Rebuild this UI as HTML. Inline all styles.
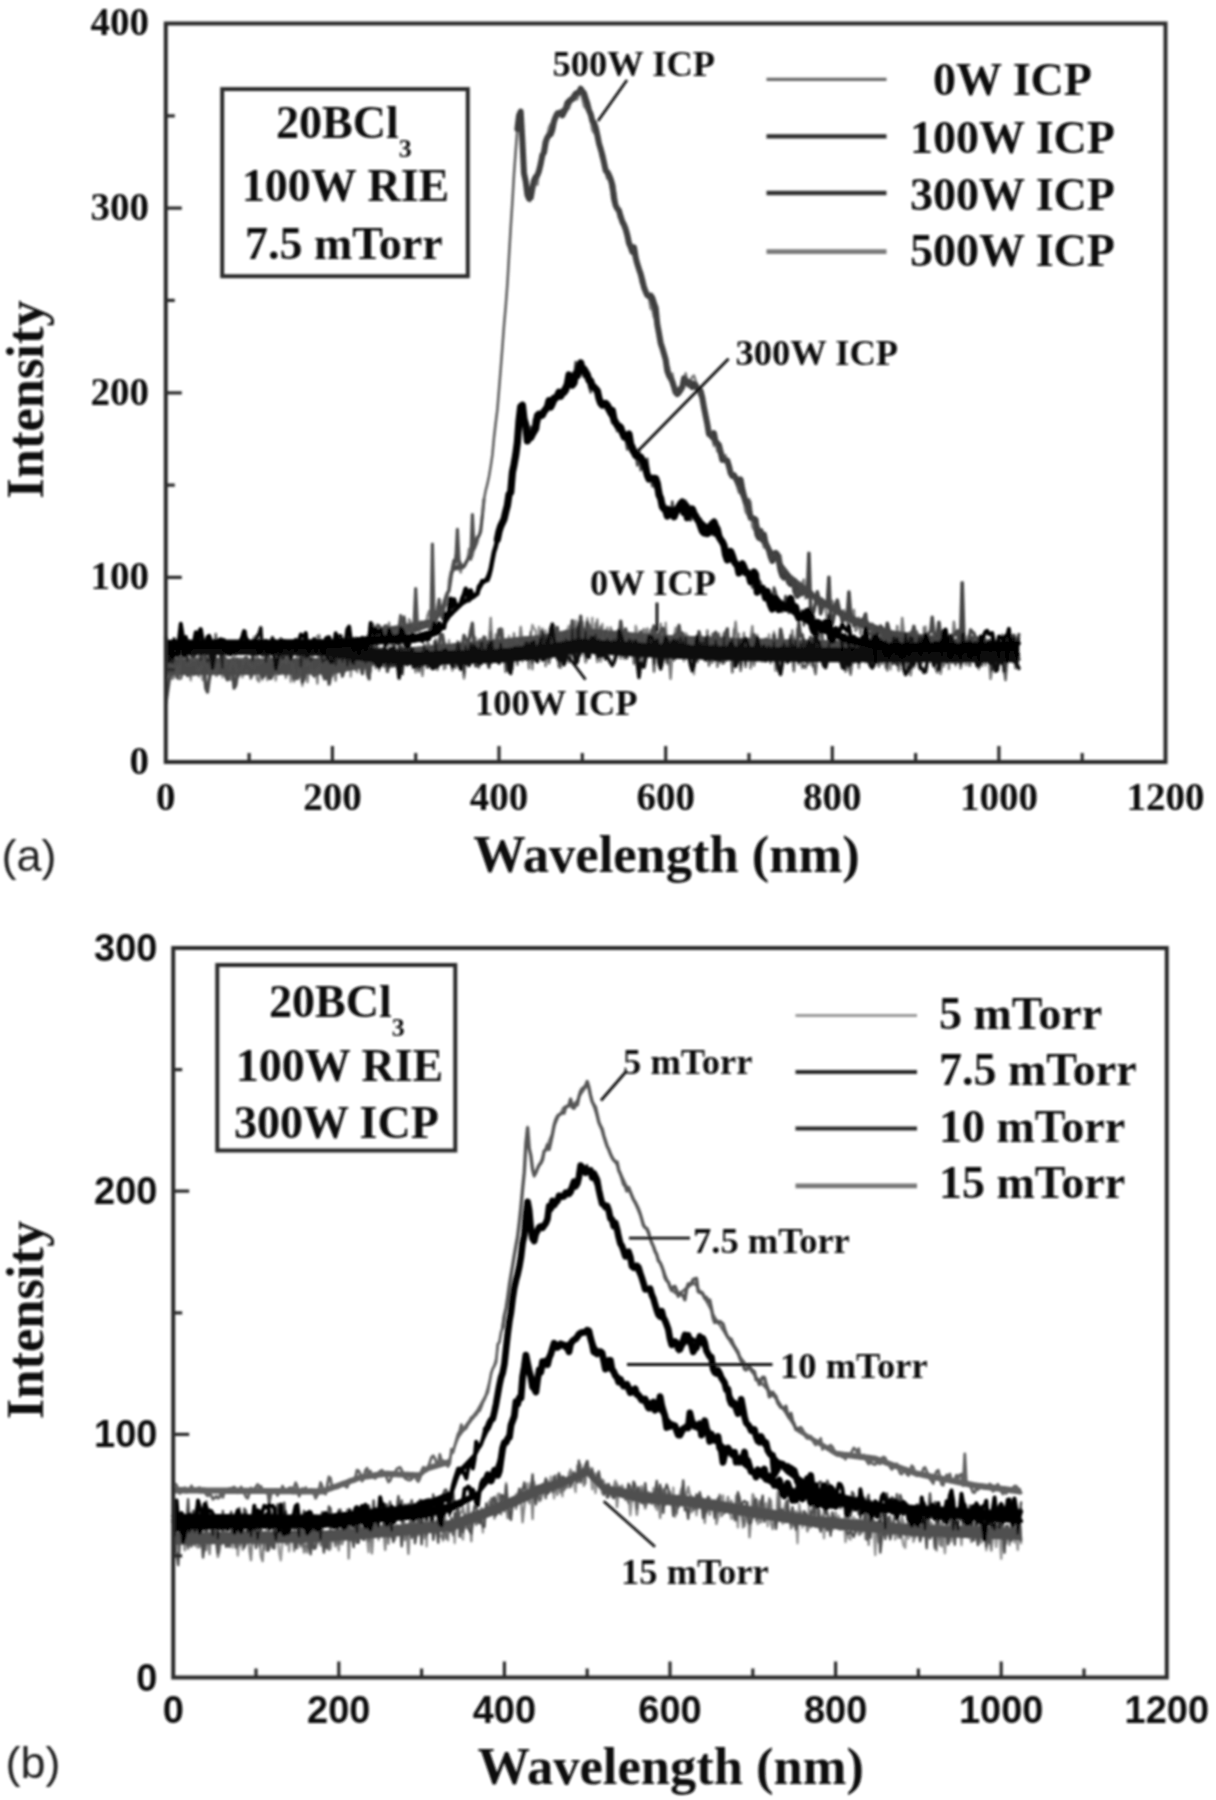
<!DOCTYPE html>
<html><head><meta charset="utf-8"><style>
html,body{margin:0;padding:0;background:#fff;width:1216px;height:1800px;overflow:hidden}
svg{display:block}
</style></head><body>
<svg width="1216" height="1800" viewBox="0 0 1216 1800">
<defs><filter id="bl" x="-2%" y="-2%" width="104%" height="104%"><feGaussianBlur stdDeviation="1"/></filter></defs>
<rect width="1216" height="1800" fill="#fff"/>
<g filter="url(#bl)">
<g stroke-linecap="round" stroke-linejoin="round">
<polygon points="165.8,664.2 167.5,664.2 169.1,664.1 170.8,664.1 172.5,664.1 174.1,664.0 175.8,664.0 177.5,664.0 179.1,663.9 180.8,663.9 182.5,663.9 184.1,663.9 185.8,663.8 187.5,663.8 189.1,663.8 190.8,663.7 192.5,663.7 194.1,663.7 195.8,663.6 197.5,663.6 199.1,663.6 200.8,663.5 202.5,663.5 204.1,663.5 205.8,663.5 207.5,663.4 209.1,663.4 210.8,663.4 212.5,663.3 214.1,663.3 215.8,663.3 217.5,663.2 219.1,663.2 220.8,663.2 222.4,663.2 224.1,663.1 225.8,663.1 227.4,663.1 229.1,663.0 230.8,663.0 232.4,663.0 234.1,662.9 235.8,662.9 237.4,662.9 239.1,662.8 240.8,662.8 242.4,662.8 244.1,662.8 245.8,662.7 247.4,662.7 249.1,662.7 250.8,662.6 252.4,662.6 254.1,662.6 255.8,662.5 257.4,662.5 259.1,662.5 260.8,662.5 262.4,662.4 264.1,662.4 265.8,662.4 267.4,662.3 269.1,662.3 270.8,662.3 272.4,662.2 274.1,662.2 275.8,662.2 277.4,662.1 279.1,662.1 280.8,662.1 282.4,662.1 284.1,662.0 285.8,662.0 287.4,662.0 289.1,661.9 290.8,661.9 292.4,661.9 294.1,661.8 295.8,661.8 297.4,661.8 299.1,661.8 300.8,661.7 302.4,661.7 304.1,661.7 305.8,661.6 307.4,661.6 309.1,661.6 310.8,661.5 312.4,661.5 314.1,661.5 315.8,661.4 317.4,661.4 319.1,661.4 320.8,661.4 322.4,661.3 324.1,661.3 325.8,661.3 327.4,661.2 329.1,661.2 330.8,661.2 332.4,661.1 334.1,660.8 335.7,660.4 337.4,660.0 339.1,659.6 340.7,659.2 342.4,658.9 344.1,658.5 345.7,658.1 347.4,657.7 349.1,657.3 350.7,656.9 352.4,656.6 354.1,656.2 355.7,655.8 357.4,655.4 359.1,655.0 360.7,654.7 362.4,654.3 364.1,653.9 365.7,653.5 367.4,653.1 369.1,652.8 370.7,652.4 372.4,652.0 374.1,651.6 375.7,651.2 377.4,650.9 379.1,650.5 380.7,650.1 382.4,649.8 384.1,649.6 385.7,649.4 387.4,649.3 389.1,649.1 390.7,649.0 392.4,648.8 394.1,648.7 395.7,648.5 397.4,648.4 399.1,648.2 400.7,648.1 402.4,647.9 404.1,647.7 405.7,647.6 407.4,647.4 409.1,647.3 410.7,647.1 412.4,647.0 414.1,646.8 415.7,646.7 417.4,646.5 419.1,646.3 420.7,646.2 422.4,646.0 424.1,645.9 425.7,645.7 427.4,645.6 429.1,645.4 430.7,645.3 432.4,645.1 434.1,644.9 435.7,644.8 437.4,644.6 439.1,644.5 440.7,644.3 442.4,644.2 444.0,644.0 445.7,643.9 447.4,643.7 449.0,643.6 450.7,643.4 452.4,643.2 454.0,643.1 455.7,642.9 457.4,642.8 459.0,642.6 460.7,642.5 462.4,642.3 464.0,642.2 465.7,642.0 467.4,641.8 469.0,641.7 470.7,641.5 472.4,641.4 474.0,641.2 475.7,641.1 477.4,640.9 479.0,640.8 480.7,640.6 482.4,640.4 484.0,640.3 485.7,640.1 487.4,640.0 489.0,639.8 490.7,639.7 492.4,639.5 494.0,639.3 495.7,639.2 497.4,639.0 499.0,638.9 500.7,638.7 502.4,638.5 504.0,638.4 505.7,638.2 507.4,638.1 509.0,637.9 510.7,637.7 512.4,637.6 514.0,637.4 515.7,637.3 517.4,637.1 519.0,636.9 520.7,636.8 522.4,636.6 524.0,636.5 525.7,636.3 527.4,636.1 529.0,636.0 530.7,635.8 532.4,635.7 534.0,635.5 535.7,635.3 537.4,635.2 539.0,635.0 540.7,634.9 542.4,634.5 544.0,634.2 545.7,633.9 547.4,633.6 549.0,633.3 550.7,633.0 552.4,632.7 554.0,632.3 555.7,632.0 557.3,631.7 559.0,631.4 560.7,631.1 562.3,630.8 564.0,630.4 565.7,630.1 567.3,629.8 569.0,629.5 570.7,629.2 572.3,628.9 574.0,628.6 575.7,628.2 577.3,627.9 579.0,627.6 580.7,627.5 582.3,627.7 584.0,627.9 585.7,628.0 587.3,628.2 589.0,628.4 590.7,628.6 592.3,628.7 594.0,628.9 595.7,629.1 597.3,629.2 599.0,629.4 600.7,629.6 602.3,629.8 604.0,629.9 605.7,630.1 607.3,630.3 609.0,630.4 610.7,630.6 612.3,630.8 614.0,630.9 615.7,631.1 617.3,631.2 619.0,631.4 620.7,631.5 622.3,631.6 624.0,631.7 625.7,631.8 627.3,632.0 629.0,632.1 630.7,632.2 632.3,632.3 634.0,632.5 635.7,632.6 637.3,632.7 639.0,632.8 640.7,632.9 642.3,633.1 644.0,633.2 645.7,633.3 647.3,633.4 649.0,633.5 650.7,633.7 652.3,633.8 654.0,633.9 655.7,634.0 657.3,634.2 659.0,634.3 660.7,634.4 662.3,634.5 664.0,634.6 665.7,634.8 667.3,634.8 669.0,634.9 670.6,635.0 672.3,635.1 674.0,635.1 675.6,635.2 677.3,635.3 679.0,635.3 680.6,635.4 682.3,635.5 684.0,635.6 685.6,635.6 687.3,635.7 689.0,635.8 690.6,635.9 692.3,635.9 694.0,636.0 695.6,636.1 697.3,636.1 699.0,636.2 700.6,636.3 702.3,636.4 704.0,636.4 705.6,636.5 707.3,636.6 709.0,636.7 710.6,636.7 712.3,636.8 714.0,636.9 715.6,636.9 717.3,637.0 719.0,637.1 720.6,637.2 722.3,637.2 724.0,637.3 725.6,637.4 727.3,637.5 729.0,637.5 730.6,637.6 732.3,637.7 734.0,637.7 735.6,637.8 737.3,637.9 739.0,638.0 740.6,638.0 742.3,638.1 744.0,638.2 745.6,638.3 747.3,638.3 749.0,638.4 750.6,638.4 752.3,638.5 754.0,638.5 755.6,638.5 757.3,638.6 759.0,638.6 760.6,638.6 762.3,638.7 764.0,638.7 765.6,638.8 767.3,638.8 769.0,638.8 770.6,638.9 772.3,638.9 774.0,638.9 775.6,639.0 777.3,639.0 778.9,639.0 780.6,639.1 782.3,639.1 783.9,639.1 785.6,639.2 787.3,639.2 788.9,639.3 790.6,639.3 792.3,639.3 793.9,639.4 795.6,639.4 797.3,639.4 798.9,639.5 800.6,639.5 802.3,639.5 803.9,639.6 805.6,639.6 807.3,639.6 808.9,639.7 810.6,639.7 812.3,639.7 813.9,639.8 815.6,639.8 817.3,639.9 818.9,639.9 820.6,639.9 822.3,640.0 823.9,640.0 825.6,640.0 827.3,640.1 828.9,640.1 830.6,640.1 832.3,640.2 833.9,640.2 835.6,640.2 837.3,640.3 838.9,640.3 840.6,640.4 842.3,640.4 843.9,640.4 845.6,640.5 847.3,640.5 848.9,640.5 850.6,640.6 852.3,640.6 853.9,640.6 855.6,640.7 857.3,640.7 858.9,640.7 860.6,640.8 862.3,640.8 863.9,640.9 865.6,640.9 867.3,640.9 868.9,641.0 870.6,641.0 872.3,641.0 873.9,641.1 875.6,641.1 877.3,641.1 878.9,641.2 880.6,641.2 882.3,641.2 883.9,641.3 885.6,641.3 887.3,641.4 888.9,641.4 890.6,641.4 892.2,641.5 893.9,641.5 895.6,641.5 897.2,641.6 898.9,641.6 900.6,641.6 902.2,641.7 903.9,641.7 905.6,641.7 907.2,641.8 908.9,641.8 910.6,641.9 912.2,641.9 913.9,641.9 915.6,642.0 917.2,642.0 918.9,642.0 920.6,642.0 922.2,642.1 923.9,642.1 925.6,642.1 927.2,642.2 928.9,642.2 930.6,642.2 932.2,642.2 933.9,642.3 935.6,642.3 937.2,642.3 938.9,642.4 940.6,642.4 942.2,642.4 943.9,642.4 945.6,642.5 947.2,642.5 948.9,642.5 950.6,642.6 952.2,642.6 953.9,642.6 955.6,642.6 957.2,642.7 958.9,642.7 960.6,642.7 962.2,642.8 963.9,642.8 965.6,642.8 967.2,642.8 968.9,642.9 970.6,642.9 972.2,642.9 973.9,643.0 975.6,643.0 977.2,643.0 978.9,643.0 980.6,643.1 982.2,643.1 983.9,643.1 985.6,643.2 987.2,643.2 988.9,643.2 990.6,643.2 992.2,643.3 993.9,643.3 995.6,643.3 997.2,643.4 998.9,643.4 1000.5,643.4 1002.2,643.4 1003.9,643.5 1005.5,643.5 1007.2,643.5 1008.9,643.6 1010.5,643.6 1012.2,643.6 1013.9,643.6 1015.5,643.7 1017.2,643.7 1018.9,643.7 1018.9,658.7 1017.2,658.7 1015.5,658.7 1013.9,658.6 1012.2,658.6 1010.5,658.6 1008.9,658.5 1007.2,658.5 1005.5,658.5 1003.9,658.4 1002.2,658.4 1000.5,658.4 998.9,658.4 997.2,658.3 995.6,658.3 993.9,658.3 992.2,658.2 990.6,658.2 988.9,658.2 987.2,658.1 985.6,658.1 983.9,658.1 982.2,658.0 980.6,658.0 978.9,658.0 977.2,657.9 975.6,657.9 973.9,657.9 972.2,657.9 970.6,657.8 968.9,657.8 967.2,657.8 965.6,657.7 963.9,657.7 962.2,657.7 960.6,657.6 958.9,657.6 957.2,657.6 955.6,657.5 953.9,657.5 952.2,657.5 950.6,657.5 948.9,657.4 947.2,657.4 945.6,657.4 943.9,657.3 942.2,657.3 940.6,657.3 938.9,657.2 937.2,657.2 935.6,657.2 933.9,657.1 932.2,657.1 930.6,657.1 928.9,657.0 927.2,657.0 925.6,657.0 923.9,657.0 922.2,656.9 920.6,656.9 918.9,656.9 917.2,656.8 915.6,656.8 913.9,656.8 912.2,656.7 910.6,656.7 908.9,656.6 907.2,656.6 905.6,656.6 903.9,656.5 902.2,656.5 900.6,656.5 898.9,656.4 897.2,656.4 895.6,656.3 893.9,656.3 892.2,656.3 890.6,656.2 888.9,656.2 887.3,656.1 885.6,656.1 883.9,656.1 882.3,656.0 880.6,656.0 878.9,656.0 877.3,655.9 875.6,655.9 873.9,655.8 872.3,655.8 870.6,655.8 868.9,655.7 867.3,655.7 865.6,655.7 863.9,655.6 862.3,655.6 860.6,655.5 858.9,655.5 857.3,655.5 855.6,655.4 853.9,655.4 852.3,655.3 850.6,655.3 848.9,655.3 847.3,655.2 845.6,655.2 843.9,655.2 842.3,655.1 840.6,655.1 838.9,655.0 837.3,655.0 835.6,655.0 833.9,654.9 832.3,654.9 830.6,654.8 828.9,654.8 827.3,654.8 825.6,654.7 823.9,654.7 822.3,654.7 820.6,654.6 818.9,654.6 817.3,654.5 815.6,654.5 813.9,654.5 812.3,654.4 810.6,654.4 808.9,654.4 807.3,654.3 805.6,654.3 803.9,654.2 802.3,654.2 800.6,654.2 798.9,654.1 797.3,654.1 795.6,654.0 793.9,654.0 792.3,654.0 790.6,653.9 788.9,653.9 787.3,653.9 785.6,653.8 783.9,653.8 782.3,653.7 780.6,653.7 778.9,653.7 777.3,653.6 775.6,653.6 774.0,653.6 772.3,653.5 770.6,653.5 769.0,653.4 767.3,653.4 765.6,653.4 764.0,653.3 762.3,653.3 760.6,653.2 759.0,653.2 757.3,653.2 755.6,653.1 754.0,653.1 752.3,653.1 750.6,653.0 749.0,653.0 747.3,652.9 745.6,652.8 744.0,652.8 742.3,652.7 740.6,652.6 739.0,652.5 737.3,652.5 735.6,652.4 734.0,652.3 732.3,652.2 730.6,652.2 729.0,652.1 727.3,652.0 725.6,651.9 724.0,651.8 722.3,651.8 720.6,651.7 719.0,651.6 717.3,651.5 715.6,651.5 714.0,651.4 712.3,651.3 710.6,651.2 709.0,651.2 707.3,651.1 705.6,651.0 704.0,650.9 702.3,650.9 700.6,650.8 699.0,650.7 697.3,650.6 695.6,650.6 694.0,650.5 692.3,650.4 690.6,650.3 689.0,650.3 687.3,650.2 685.6,650.1 684.0,650.0 682.3,650.0 680.6,649.9 679.0,649.8 677.3,649.7 675.6,649.7 674.0,649.6 672.3,649.5 670.6,649.4 669.0,649.4 667.3,649.3 665.7,649.2 664.0,649.1 662.3,649.0 660.7,648.8 659.0,648.7 657.3,648.6 655.7,648.5 654.0,648.3 652.3,648.2 650.7,648.1 649.0,648.0 647.3,647.9 645.7,647.7 644.0,647.6 642.3,647.5 640.7,647.4 639.0,647.2 637.3,647.1 635.7,647.0 634.0,646.9 632.3,646.7 630.7,646.6 629.0,646.5 627.3,646.4 625.7,646.2 624.0,646.1 622.3,646.0 620.7,645.9 619.0,645.7 617.3,645.6 615.7,645.5 614.0,645.3 612.3,645.1 610.7,645.0 609.0,644.8 607.3,644.6 605.7,644.5 604.0,644.3 602.3,644.1 600.7,643.9 599.0,643.8 597.3,643.6 595.7,643.4 594.0,643.2 592.3,643.1 590.7,642.9 589.0,642.7 587.3,642.5 585.7,642.4 584.0,642.2 582.3,642.0 580.7,641.9 579.0,641.9 577.3,642.2 575.7,642.6 574.0,642.9 572.3,643.2 570.7,643.5 569.0,643.8 567.3,644.1 565.7,644.4 564.0,644.7 562.3,645.1 560.7,645.4 559.0,645.7 557.3,646.0 555.7,646.3 554.0,646.6 552.4,646.9 550.7,647.2 549.0,647.6 547.4,647.9 545.7,648.2 544.0,648.5 542.4,648.8 540.7,649.1 539.0,649.3 537.4,649.4 535.7,649.6 534.0,649.8 532.4,649.9 530.7,650.1 529.0,650.2 527.4,650.4 525.7,650.5 524.0,650.7 522.4,650.8 520.7,651.0 519.0,651.2 517.4,651.3 515.7,651.5 514.0,651.6 512.4,651.8 510.7,651.9 509.0,652.1 507.4,652.3 505.7,652.4 504.0,652.6 502.4,652.7 500.7,652.9 499.0,653.0 497.4,653.2 495.7,653.4 494.0,653.5 492.4,653.7 490.7,653.8 489.0,654.0 487.4,654.1 485.7,654.3 484.0,654.5 482.4,654.6 480.7,654.8 479.0,654.9 477.4,655.1 475.7,655.2 474.0,655.4 472.4,655.5 470.7,655.7 469.0,655.8 467.4,656.0 465.7,656.1 464.0,656.3 462.4,656.4 460.7,656.6 459.0,656.8 457.4,656.9 455.7,657.1 454.0,657.2 452.4,657.4 450.7,657.5 449.0,657.7 447.4,657.8 445.7,658.0 444.0,658.1 442.4,658.3 440.7,658.4 439.1,658.6 437.4,658.7 435.7,658.9 434.1,659.0 432.4,659.2 430.7,659.3 429.1,659.5 427.4,659.7 425.7,659.8 424.1,660.0 422.4,660.1 420.7,660.3 419.1,660.4 417.4,660.6 415.7,660.7 414.1,660.9 412.4,661.0 410.7,661.2 409.1,661.3 407.4,661.5 405.7,661.6 404.1,661.8 402.4,661.9 400.7,662.1 399.1,662.2 397.4,662.4 395.7,662.5 394.1,662.7 392.4,662.9 390.7,663.0 389.1,663.2 387.4,663.3 385.7,663.5 384.1,663.6 382.4,663.8 380.7,664.1 379.1,664.5 377.4,664.9 375.7,665.2 374.1,665.6 372.4,666.0 370.7,666.3 369.1,666.7 367.4,667.0 365.7,667.4 364.1,667.8 362.4,668.1 360.7,668.5 359.1,668.8 357.4,669.2 355.7,669.5 354.1,669.9 352.4,670.3 350.7,670.6 349.1,671.0 347.4,671.3 345.7,671.7 344.1,672.0 342.4,672.4 340.7,672.8 339.1,673.1 337.4,673.5 335.7,673.8 334.1,674.2 332.4,674.5 330.8,674.5 329.1,674.6 327.4,674.6 325.8,674.6 324.1,674.6 322.4,674.6 320.8,674.6 319.1,674.6 317.4,674.6 315.8,674.6 314.1,674.6 312.4,674.6 310.8,674.6 309.1,674.6 307.4,674.6 305.8,674.6 304.1,674.7 302.4,674.7 300.8,674.7 299.1,674.7 297.4,674.7 295.8,674.7 294.1,674.7 292.4,674.7 290.8,674.7 289.1,674.7 287.4,674.7 285.8,674.7 284.1,674.7 282.4,674.7 280.8,674.7 279.1,674.7 277.4,674.8 275.8,674.8 274.1,674.8 272.4,674.8 270.8,674.8 269.1,674.8 267.4,674.8 265.8,674.8 264.1,674.8 262.4,674.8 260.8,674.8 259.1,674.8 257.4,674.8 255.8,674.8 254.1,674.8 252.4,674.9 250.8,674.9 249.1,674.9 247.4,674.9 245.8,674.9 244.1,674.9 242.4,674.9 240.8,674.9 239.1,674.9 237.4,674.9 235.8,674.9 234.1,674.9 232.4,674.9 230.8,674.9 229.1,674.9 227.4,674.9 225.8,675.0 224.1,675.0 222.4,675.0 220.8,675.0 219.1,675.0 217.5,675.0 215.8,675.0 214.1,675.0 212.5,675.0 210.8,675.0 209.1,675.0 207.5,675.0 205.8,675.0 204.1,675.0 202.5,675.0 200.8,675.1 199.1,675.1 197.5,675.1 195.8,675.1 194.1,675.1 192.5,675.1 190.8,675.1 189.1,675.1 187.5,675.1 185.8,675.1 184.1,675.1 182.5,675.1 180.8,675.1 179.1,675.1 177.5,675.1 175.8,675.1 174.1,675.2 172.5,675.2 170.8,675.2 169.1,675.2 167.5,675.2 165.8,675.2" fill="#505050" fill-opacity="1.0"/>
<polyline points="165.8,702.9 167.5,691.8 169.1,680.8 170.8,671.7 172.5,668.2 174.1,665.6 175.8,668.3 177.5,667.1 179.1,663.9 180.8,666.3 182.5,665.8 184.1,669.4 185.8,672.0 187.5,675.4 189.1,670.3 190.8,667.9 192.5,667.9 194.1,674.1 195.8,665.0 197.5,674.0 199.1,671.5 200.8,665.4 202.5,658.9 204.1,669.6 205.8,688.2 207.5,692.0 209.1,679.9 210.8,671.4 212.5,668.8 214.1,645.4 215.8,661.0 217.5,668.0 219.1,667.3 220.8,656.4 222.4,653.9 224.1,664.7 225.8,676.1 227.4,679.8 229.1,674.6 230.8,665.5 232.4,668.5 234.1,688.1 235.8,684.7 237.4,675.0 239.1,673.1 240.8,668.6 242.4,670.4 244.1,669.0 245.8,663.7 247.4,659.7 249.1,666.6 250.8,668.9 252.4,670.2 254.1,664.6 255.8,670.4 257.4,667.1 259.1,668.1 260.8,670.2 262.4,677.3 264.1,675.6 265.8,668.4 267.4,671.0 269.1,677.9 270.8,678.3 272.4,674.2 274.1,669.3 275.8,665.8 277.4,670.2 279.1,673.6 280.8,668.8 282.4,661.4 284.1,668.3 285.8,671.1 287.4,666.4 289.1,659.6 290.8,663.5 292.4,672.9 294.1,679.0 295.8,677.4 297.4,667.9 299.1,664.8 300.8,659.2 302.4,682.2 304.1,678.5 305.8,665.2 307.4,663.0 309.1,668.9 310.8,662.1 312.4,663.4 314.1,659.4 315.8,659.6 317.4,663.0 319.1,668.6 320.8,665.2 322.4,672.9 324.1,677.2 325.8,678.6 327.4,665.9 329.1,684.0 330.8,675.2 332.4,666.4 334.1,665.8 335.7,647.6 337.4,657.8 339.1,654.3 340.7,662.2 342.4,676.0 344.1,670.4 345.7,661.7 347.4,660.4 349.1,668.1 350.7,666.9 352.4,660.1 354.1,658.6 355.7,658.5 357.4,665.3 359.1,664.1 360.7,666.7 362.4,673.7 364.1,654.6 365.7,655.1 367.4,673.6 369.1,678.8 370.7,655.2 372.4,645.2 374.1,658.8 375.7,656.0 377.4,663.8 379.1,662.2 380.7,665.7 382.4,658.8 384.1,656.8 385.7,655.2 387.4,671.4 389.1,659.8 390.7,663.5 392.4,666.1 394.1,663.0 395.7,665.0 397.4,667.3 399.1,660.4 400.7,651.4 402.4,648.8 404.1,653.0 405.7,653.7 407.4,655.7 409.1,655.7 410.7,651.3 412.4,655.7 414.1,655.8 415.7,656.7 417.4,658.2 419.1,666.9 420.7,665.6 422.4,652.1 424.1,650.1 425.7,651.7 427.4,667.1 429.1,665.0 430.7,658.1 432.4,647.6 434.1,652.2 435.7,655.8 437.4,649.9 439.1,642.9 440.7,634.7 442.4,634.7 444.0,643.3 445.7,654.2 447.4,654.7 449.0,651.1 450.7,650.3 452.4,649.2 454.0,657.1 455.7,655.8 457.4,655.2 459.0,654.9 460.7,656.7 462.4,644.7 464.0,635.5 465.7,638.9 467.4,641.8 469.0,640.2 470.7,630.6 472.4,623.3 474.0,647.9 475.7,665.8 477.4,658.6 479.0,656.5 480.7,656.2 482.4,643.8 484.0,637.1 485.7,648.2 487.4,659.6 489.0,667.4 490.7,651.6 492.4,646.4 494.0,649.6 495.7,647.1 497.4,641.5 499.0,629.6 500.7,629.1 502.4,640.9 504.0,651.5 505.7,648.0 507.4,654.7 509.0,657.6 510.7,643.6 512.4,643.3 514.0,648.7 515.7,645.7 517.4,647.1 519.0,651.4 520.7,649.3 522.4,653.0 524.0,642.1 525.7,652.9 527.4,659.6 529.0,646.0 530.7,645.6 532.4,640.8 534.0,653.8 535.7,641.6 537.4,648.0 539.0,649.6 540.7,654.7 542.4,649.8 544.0,649.6 545.7,649.5 547.4,649.3 549.0,639.8 550.7,637.7 552.4,650.2 554.0,652.4 555.7,644.9 557.3,627.5 559.0,642.7 560.7,643.5 562.3,644.1 564.0,647.8 565.7,643.0 567.3,636.7 569.0,644.0 570.7,636.9 572.3,620.8 574.0,638.3 575.7,645.2 577.3,640.2 579.0,632.5 580.7,616.1 582.3,635.8 584.0,635.9 585.7,637.5 587.3,622.5 589.0,647.1 590.7,639.7 592.3,643.4 594.0,637.6 595.7,634.1 597.3,639.9 599.0,640.2 600.7,645.4 602.3,650.2 604.0,652.0 605.7,648.5 607.3,645.9 609.0,644.3 610.7,633.7 612.3,636.9 614.0,642.7 615.7,645.1 617.3,651.1 619.0,637.8 620.7,621.1 622.3,631.9 624.0,642.8 625.7,628.9 627.3,643.8 629.0,647.9 630.7,639.8 632.3,647.2 634.0,639.8 635.7,641.4 637.3,642.5 639.0,641.4 640.7,632.0 642.3,640.1 644.0,650.5 645.7,653.8 647.3,638.4 649.0,642.6 650.7,638.0 652.3,631.5 654.0,625.9 655.7,635.4 657.3,642.8 659.0,633.5 660.7,632.5 662.3,628.5 664.0,628.9 665.7,648.1 667.3,648.3 669.0,649.4 670.6,648.4 672.3,646.2 674.0,636.6 675.6,634.6 677.3,634.0 679.0,625.5 680.6,636.4 682.3,633.1 684.0,638.1 685.6,643.9 687.3,653.0 689.0,649.8 690.6,652.4 692.3,652.9 694.0,650.2 695.6,647.5 697.3,642.9 699.0,631.8 700.6,638.6 702.3,654.4 704.0,651.6 705.6,652.1 707.3,656.1 709.0,655.8 710.6,652.1 712.3,643.8 714.0,635.1 715.6,632.3 717.3,636.4 719.0,647.7 720.6,647.7 722.3,647.0 724.0,639.4 725.6,634.0 727.3,628.9 729.0,650.5 730.6,651.8 732.3,647.9 734.0,652.8 735.6,653.1 737.3,653.7 739.0,643.4 740.6,640.0 742.3,645.8 744.0,652.9 745.6,648.7 747.3,642.6 749.0,639.5 750.6,652.5 752.3,646.4 754.0,634.8 755.6,639.8 757.3,639.8 759.0,647.3 760.6,646.0 762.3,649.8 764.0,643.2 765.6,639.2 767.3,639.9 769.0,646.3 770.6,649.9 772.3,650.4 774.0,634.9 775.6,641.8 777.3,648.5 778.9,645.7 780.6,629.1 782.3,637.2 783.9,649.6 785.6,651.6 787.3,647.1 788.9,654.7 790.6,658.4 792.3,644.2 793.9,640.8 795.6,643.5 797.3,645.9 798.9,622.6 800.6,636.4 802.3,634.7 803.9,644.9 805.6,648.9 807.3,653.0 808.9,643.0 810.6,637.3 812.3,641.4 813.9,645.9 815.6,630.6 817.3,639.4 818.9,645.5 820.6,650.4 822.3,658.1 823.9,658.4 825.6,653.3 827.3,649.2 828.9,648.3 830.6,643.7 832.3,655.6 833.9,660.2 835.6,643.7 837.3,644.8 838.9,645.6 840.6,647.3 842.3,637.0 843.9,634.9 845.6,643.2 847.3,659.8 848.9,664.0 850.6,660.0 852.3,653.6 853.9,661.8 855.6,652.2 857.3,642.7 858.9,640.8 860.6,644.2 862.3,645.2 863.9,643.7 865.6,648.3 867.3,649.6 868.9,646.4 870.6,643.8 872.3,631.8 873.9,644.3 875.6,646.6 877.3,646.2 878.9,647.6 880.6,637.1 882.3,639.3 883.9,636.1 885.6,638.9 887.3,639.9 888.9,652.5 890.6,651.3 892.2,648.1 893.9,651.1 895.6,661.5 897.2,664.6 898.9,661.6 900.6,650.9 902.2,638.4 903.9,642.1 905.6,634.8 907.2,644.6 908.9,650.0 910.6,646.6 912.2,632.6 913.9,626.3 915.6,634.2 917.2,646.5 918.9,653.0 920.6,664.7 922.2,658.0 923.9,653.7 925.6,640.1 927.2,636.2 928.9,633.4 930.6,631.6 932.2,617.3 933.9,632.4 935.6,635.1 937.2,639.1 938.9,647.7 940.6,650.0 942.2,649.5 943.9,652.3 945.6,651.7 947.2,647.8 948.9,650.8 950.6,653.8 952.2,662.1 953.9,658.9 955.6,663.5 957.2,643.8 958.9,644.5 960.6,630.1 962.2,648.2 963.9,652.9 965.6,652.6 967.2,643.1 968.9,639.1 970.6,629.9 972.2,631.8 973.9,633.2 975.6,637.9 977.2,637.7 978.9,649.2 980.6,662.6 982.2,661.8 983.9,649.9 985.6,641.0 987.2,642.4 988.9,650.1 990.6,662.1 992.2,659.6 993.9,661.1 995.6,659.9 997.2,656.4 998.9,649.0 1000.5,650.2 1002.2,646.7 1003.9,671.2 1005.5,658.9 1007.2,654.1 1008.9,648.0 1010.5,648.1 1012.2,642.5 1013.9,653.0 1015.5,661.7 1017.2,640.1 1018.9,634.6" fill="none" stroke="#4a4a4a" stroke-width="3.4" stroke-linejoin="round" />
<polyline points="165.8,678.3 167.5,667.8 169.1,669.7 170.8,666.1 172.5,679.0 174.1,661.8 175.8,668.9 177.5,677.8 179.1,679.1 180.8,678.8 182.5,674.6 184.1,661.1 185.8,663.1 187.5,673.3 189.1,673.3 190.8,655.7 192.5,663.0 194.1,675.1 195.8,670.4 197.5,672.4 199.1,668.2 200.8,663.0 202.5,671.2 204.1,666.6 205.8,665.2 207.5,663.6 209.1,673.7 210.8,670.8 212.5,655.0 214.1,670.5 215.8,668.9 217.5,665.9 219.1,673.2 220.8,671.9 222.4,657.0 224.1,659.7 225.8,677.0 227.4,668.5 229.1,678.3 230.8,680.0 232.4,668.9 234.1,657.9 235.8,669.5 237.4,658.2 239.1,676.5 240.8,667.9 242.4,668.2 244.1,668.2 245.8,661.6 247.4,664.6 249.1,672.8 250.8,678.6 252.4,672.8 254.1,668.9 255.8,672.7 257.4,679.8 259.1,681.6 260.8,662.7 262.4,666.7 264.1,672.9 265.8,665.3 267.4,664.9 269.1,670.1 270.8,671.7 272.4,660.0 274.1,662.2 275.8,657.9 277.4,661.0 279.1,666.5 280.8,671.7 282.4,670.9 284.1,672.8 285.8,667.9 287.4,666.8 289.1,659.7 290.8,658.3 292.4,668.4 294.1,665.4 295.8,677.0 297.4,673.3 299.1,676.3 300.8,667.2 302.4,672.2 304.1,673.9 305.8,668.4 307.4,682.2 309.1,668.8 310.8,664.7 312.4,658.8 314.1,676.9 315.8,671.3 317.4,683.5 319.1,658.1 320.8,669.6 322.4,666.3 324.1,679.5 325.8,670.0 327.4,672.7 329.1,677.3 330.8,677.0 332.4,675.3 334.1,674.4 335.7,680.7 337.4,657.1 339.1,667.0 340.7,665.5 342.4,665.3 344.1,667.8 345.7,666.3 347.4,661.3 349.1,667.2 350.7,655.1 352.4,666.0 354.1,655.2 355.7,670.6 357.4,661.1 359.1,657.7 360.7,652.5 362.4,651.9 364.1,669.2 365.7,666.4 367.4,649.2 369.1,663.5 370.7,671.8 372.4,651.4 374.1,655.0 375.7,668.3 377.4,663.3 379.1,648.7 380.7,661.5 382.4,661.9 384.1,660.7 385.7,647.4 387.4,669.9 389.1,654.6 390.7,656.6 392.4,653.8 394.1,651.7 395.7,656.9 397.4,652.5 399.1,653.4 400.7,645.8 402.4,673.7 404.1,657.2 405.7,655.2 407.4,665.9 409.1,644.8 410.7,651.1 412.4,667.8 414.1,656.7 415.7,649.0 417.4,653.3 419.1,659.6 420.7,649.1 422.4,651.1 424.1,660.4 425.7,654.9 427.4,642.9 429.1,643.6 430.7,659.9 432.4,657.2 434.1,641.4 435.7,647.5 437.4,651.5 439.1,654.1 440.7,650.0 442.4,644.2 444.0,669.2 445.7,644.3 447.4,657.9 449.0,660.8 450.7,655.6 452.4,658.8 454.0,658.1 455.7,649.7 457.4,653.2 459.0,642.0 460.7,661.6 462.4,643.2 464.0,658.7 465.7,647.8 467.4,651.5 469.0,641.4 470.7,658.5 472.4,647.8 474.0,636.0 475.7,638.0 477.4,650.0 479.0,641.6 480.7,638.9 482.4,643.2 484.0,637.6 485.7,639.0 487.4,664.5 489.0,641.4 490.7,617.9 492.4,649.1 494.0,648.4 495.7,645.4 497.4,652.0 499.0,648.1 500.7,646.1 502.4,629.1 504.0,647.0 505.7,640.3 507.4,646.3 509.0,652.0 510.7,649.7 512.4,653.3 514.0,633.1 515.7,645.9 517.4,655.5 519.0,643.8 520.7,626.9 522.4,641.2 524.0,643.5 525.7,640.8 527.4,646.1 529.0,651.1 530.7,632.0 532.4,669.3 534.0,646.6 535.7,649.4 537.4,643.7 539.0,647.9 540.7,632.6 542.4,628.7 544.0,639.9 545.7,651.0 547.4,646.5 549.0,643.1 550.7,647.2 552.4,649.7 554.0,625.1 555.7,631.3 557.3,646.5 559.0,645.5 560.7,637.5 562.3,643.2 564.0,632.7 565.7,630.7 567.3,636.5 569.0,644.0 570.7,638.7 572.3,649.2 574.0,638.6 575.7,620.6 577.3,639.5 579.0,629.1 580.7,624.8 582.3,621.7 584.0,645.8 585.7,636.8 587.3,639.9 589.0,624.4 590.7,626.8 592.3,644.4 594.0,640.5 595.7,633.2 597.3,619.5 599.0,639.5 600.7,626.7 602.3,643.7 604.0,647.0 605.7,630.5 607.3,643.8 609.0,650.3 610.7,627.5 612.3,632.9 614.0,648.6 615.7,631.3 617.3,634.9 619.0,634.0 620.7,647.4 622.3,642.2 624.0,656.4 625.7,656.5 627.3,632.6 629.0,643.1 630.7,637.7 632.3,641.4 634.0,644.0 635.7,644.0 637.3,635.9 639.0,642.0 640.7,652.8 642.3,631.1 644.0,629.0 645.7,634.3 647.3,628.5 649.0,639.3 650.7,640.7 652.3,631.7 654.0,636.7 655.7,651.0 657.3,642.8 659.0,640.8 660.7,623.6 662.3,641.4 664.0,648.2 665.7,650.9 667.3,643.4 669.0,647.5 670.6,643.2 672.3,650.7 674.0,655.8 675.6,644.9 677.3,639.8 679.0,641.7 680.6,655.3 682.3,645.4 684.0,636.4 685.6,640.7 687.3,648.4 689.0,647.0 690.6,647.0 692.3,641.6 694.0,646.5 695.6,639.8 697.3,642.2 699.0,642.4 700.6,637.3 702.3,636.9 704.0,647.1 705.6,646.3 707.3,636.4 709.0,646.6 710.6,654.3 712.3,649.0 714.0,653.1 715.6,644.7 717.3,643.6 719.0,633.5 720.6,641.1 722.3,639.7 724.0,632.5 725.6,638.6 727.3,652.1 729.0,645.6 730.6,650.4 732.3,646.7 734.0,635.5 735.6,621.7 737.3,638.6 739.0,643.4 740.6,651.4 742.3,643.3 744.0,632.8 745.6,652.1 747.3,642.2 749.0,639.0 750.6,638.0 752.3,626.2 754.0,645.8 755.6,643.8 757.3,654.5 759.0,649.8 760.6,653.7 762.3,645.3 764.0,642.5 765.6,640.5 767.3,639.7 769.0,650.4 770.6,654.6 772.3,654.6 774.0,648.7 775.6,650.0 777.3,656.2 778.9,643.1 780.6,655.6 782.3,647.6 783.9,651.5 785.6,643.8 787.3,642.6 788.9,654.2 790.6,643.3 792.3,630.2 793.9,643.0 795.6,655.7 797.3,628.7 798.9,654.6 800.6,640.9 802.3,655.7 803.9,640.8 805.6,648.2 807.3,642.7 808.9,645.2 810.6,659.4 812.3,660.4 813.9,654.1 815.6,639.9 817.3,644.6 818.9,637.2 820.6,637.2 822.3,633.2 823.9,655.2 825.6,657.0 827.3,656.6 828.9,636.3 830.6,650.9 832.3,645.0 833.9,631.6 835.6,650.8 837.3,652.8 838.9,655.5 840.6,639.6 842.3,639.2 843.9,646.9 845.6,650.9 847.3,648.8 848.9,644.7 850.6,639.0 852.3,656.2 853.9,654.4 855.6,640.6 857.3,641.1 858.9,647.7 860.6,649.3 862.3,639.9 863.9,647.1 865.6,662.5 867.3,657.1 868.9,642.4 870.6,649.7 872.3,644.9 873.9,662.8 875.6,639.0 877.3,646.5 878.9,650.2 880.6,647.9 882.3,651.3 883.9,650.6 885.6,667.7 887.3,657.3 888.9,639.8 890.6,650.7 892.2,656.4 893.9,644.9 895.6,636.5 897.2,649.2 898.9,642.1 900.6,654.4 902.2,664.1 903.9,636.1 905.6,655.3 907.2,642.5 908.9,640.5 910.6,635.2 912.2,653.7 913.9,640.0 915.6,657.2 917.2,661.4 918.9,662.9 920.6,647.6 922.2,661.7 923.9,627.1 925.6,640.3 927.2,640.6 928.9,646.4 930.6,641.7 932.2,653.2 933.9,658.4 935.6,656.6 937.2,644.5 938.9,648.9 940.6,646.3 942.2,661.0 943.9,642.8 945.6,639.1 947.2,646.5 948.9,669.0 950.6,654.5 952.2,650.1 953.9,640.8 955.6,648.3 957.2,643.2 958.9,658.2 960.6,655.9 962.2,655.9 963.9,638.6 965.6,665.0 967.2,653.7 968.9,665.7 970.6,636.4 972.2,644.0 973.9,657.1 975.6,644.2 977.2,644.4 978.9,652.5 980.6,647.7 982.2,652.2 983.9,652.2 985.6,665.2 987.2,658.6 988.9,644.7 990.6,649.4 992.2,632.3 993.9,639.8 995.6,647.0 997.2,667.6 998.9,656.5 1000.5,649.4 1002.2,634.5 1003.9,647.2 1005.5,663.6 1007.2,643.7 1008.9,642.2 1010.5,640.4 1012.2,638.7 1013.9,658.6 1015.5,651.4 1017.2,646.9 1018.9,643.5" fill="none" stroke="#4a4a4a" stroke-width="2.4" stroke-linejoin="round"  stroke-opacity="0.7"/>
<polyline points="165.8,673.7 167.5,674.0 169.1,669.1 170.8,660.8 172.5,671.9 174.1,677.4 175.8,675.2 177.5,657.0 179.1,672.0 180.8,677.9 182.5,671.6 184.1,667.4 185.8,667.4 187.5,656.2 189.1,670.8 190.8,680.4 192.5,658.7 194.1,667.3 195.8,667.2 197.5,674.2 199.1,676.7 200.8,658.0 202.5,680.1 204.1,673.7 205.8,677.4 207.5,658.9 209.1,666.9 210.8,674.3 212.5,664.1 214.1,655.2 215.8,676.0 217.5,675.5 219.1,666.2 220.8,667.3 222.4,677.2 224.1,673.6 225.8,669.2 227.4,662.8 229.1,679.7 230.8,664.1 232.4,665.3 234.1,654.0 235.8,686.3 237.4,671.4 239.1,671.7 240.8,657.7 242.4,677.4 244.1,672.8 245.8,666.9 247.4,664.2 249.1,665.1 250.8,678.2 252.4,654.2 254.1,673.8 255.8,665.3 257.4,661.4 259.1,671.3 260.8,664.5 262.4,679.9 264.1,669.5 265.8,672.6 267.4,680.2 269.1,673.8 270.8,676.4 272.4,661.3 274.1,674.8 275.8,680.4 277.4,670.1 279.1,671.2 280.8,648.5 282.4,654.6 284.1,667.1 285.8,674.5 287.4,650.6 289.1,666.2 290.8,681.8 292.4,665.2 294.1,681.8 295.8,658.5 297.4,665.1 299.1,677.5 300.8,673.2 302.4,685.8 304.1,654.6 305.8,667.7 307.4,663.0 309.1,657.9 310.8,671.6 312.4,672.9 314.1,672.2 315.8,665.9 317.4,675.1 319.1,671.2 320.8,666.0 322.4,667.1 324.1,672.9 325.8,677.1 327.4,672.8 329.1,662.9 330.8,657.2 332.4,658.7 334.1,670.0 335.7,662.0 337.4,663.8 339.1,654.2 340.7,672.6 342.4,656.0 344.1,662.1 345.7,666.2 347.4,644.1 349.1,649.0 350.7,676.6 352.4,662.3 354.1,656.9 355.7,653.4 357.4,672.3 359.1,658.2 360.7,659.7 362.4,667.6 364.1,654.2 365.7,664.8 367.4,660.4 369.1,667.9 370.7,655.5 372.4,654.8 374.1,661.3 375.7,665.4 377.4,657.9 379.1,655.4 380.7,655.7 382.4,658.9 384.1,648.1 385.7,659.4 387.4,655.8 389.1,642.9 390.7,663.2 392.4,655.6 394.1,653.2 395.7,662.0 397.4,667.2 399.1,663.5 400.7,673.3 402.4,655.0 404.1,655.5 405.7,648.7 407.4,638.4 409.1,652.9 410.7,652.5 412.4,649.8 414.1,658.1 415.7,666.8 417.4,660.1 419.1,652.1 420.7,653.5 422.4,652.8 424.1,658.3 425.7,652.4 427.4,655.6 429.1,653.9 430.7,663.5 432.4,659.7 434.1,652.1 435.7,638.9 437.4,651.0 439.1,646.5 440.7,635.2 442.4,649.0 444.0,653.8 445.7,668.1 447.4,653.8 449.0,640.2 450.7,659.3 452.4,653.5 454.0,651.9 455.7,648.2 457.4,659.1 459.0,642.9 460.7,644.6 462.4,658.4 464.0,674.3 465.7,643.9 467.4,647.8 469.0,648.7 470.7,664.8 472.4,655.9 474.0,651.0 475.7,646.3 477.4,649.2 479.0,639.7 480.7,658.0 482.4,658.6 484.0,648.2 485.7,636.9 487.4,658.9 489.0,659.9 490.7,632.0 492.4,653.3 494.0,645.8 495.7,634.3 497.4,655.4 499.0,645.3 500.7,641.7 502.4,647.3 504.0,648.7 505.7,651.6 507.4,649.1 509.0,636.0 510.7,664.8 512.4,641.4 514.0,645.0 515.7,644.2 517.4,644.1 519.0,644.6 520.7,638.7 522.4,661.7 524.0,637.1 525.7,637.5 527.4,642.9 529.0,644.1 530.7,635.0 532.4,624.9 534.0,628.5 535.7,630.7 537.4,658.5 539.0,627.0 540.7,641.1 542.4,647.2 544.0,638.6 545.7,630.4 547.4,655.8 549.0,633.6 550.7,644.6 552.4,638.8 554.0,642.1 555.7,632.6 557.3,638.1 559.0,644.7 560.7,645.8 562.3,642.6 564.0,632.5 565.7,643.8 567.3,629.9 569.0,625.8 570.7,634.0 572.3,653.5 574.0,632.0 575.7,630.6 577.3,626.9 579.0,632.1 580.7,622.1 582.3,621.6 584.0,634.0 585.7,627.8 587.3,618.3 589.0,629.3 590.7,631.4 592.3,617.9 594.0,653.2 595.7,623.3 597.3,638.6 599.0,655.1 600.7,628.2 602.3,623.9 604.0,637.2 605.7,632.1 607.3,627.4 609.0,640.9 610.7,634.6 612.3,631.0 614.0,643.7 615.7,638.7 617.3,645.9 619.0,646.9 620.7,639.4 622.3,635.1 624.0,636.8 625.7,633.3 627.3,632.5 629.0,632.9 630.7,644.1 632.3,642.3 634.0,650.9 635.7,625.9 637.3,632.1 639.0,642.5 640.7,640.6 642.3,632.8 644.0,647.9 645.7,644.3 647.3,648.0 649.0,641.0 650.7,629.7 652.3,645.4 654.0,630.4 655.7,638.2 657.3,643.7 659.0,634.2 660.7,651.4 662.3,640.4 664.0,640.8 665.7,622.8 667.3,645.5 669.0,639.8 670.6,652.7 672.3,650.7 674.0,636.5 675.6,627.6 677.3,631.5 679.0,655.3 680.6,651.4 682.3,653.9 684.0,643.5 685.6,633.3 687.3,635.2 689.0,642.2 690.6,642.9 692.3,663.5 694.0,674.3 695.6,646.7 697.3,659.4 699.0,645.1 700.6,653.9 702.3,638.5 704.0,650.1 705.6,653.2 707.3,646.2 709.0,635.9 710.6,648.9 712.3,633.5 714.0,656.2 715.6,656.5 717.3,648.6 719.0,646.1 720.6,640.7 722.3,646.8 724.0,646.6 725.6,658.7 727.3,635.3 729.0,650.0 730.6,644.0 732.3,645.0 734.0,629.1 735.6,661.1 737.3,646.5 739.0,633.8 740.6,666.3 742.3,650.9 744.0,647.2 745.6,645.3 747.3,657.2 749.0,639.8 750.6,657.3 752.3,635.5 754.0,647.8 755.6,657.5 757.3,634.8 759.0,644.7 760.6,642.1 762.3,639.2 764.0,649.9 765.6,651.2 767.3,643.2 769.0,634.4 770.6,643.0 772.3,651.7 774.0,631.6 775.6,653.4 777.3,650.2 778.9,649.7 780.6,647.9 782.3,643.0 783.9,642.0 785.6,653.9 787.3,653.5 788.9,639.1 790.6,639.4 792.3,654.5 793.9,637.1 795.6,647.9 797.3,643.3 798.9,644.0 800.6,643.8 802.3,650.3 803.9,645.9 805.6,651.3 807.3,645.8 808.9,649.8 810.6,651.3 812.3,648.9 813.9,643.3 815.6,645.6 817.3,648.3 818.9,650.3 820.6,643.4 822.3,632.8 823.9,645.6 825.6,643.2 827.3,654.2 828.9,651.1 830.6,649.5 832.3,632.6 833.9,640.5 835.6,640.9 837.3,647.9 838.9,646.0 840.6,641.6 842.3,646.6 843.9,657.4 845.6,648.1 847.3,648.1 848.9,661.1 850.6,665.0 852.3,649.3 853.9,650.0 855.6,648.8 857.3,646.3 858.9,644.0 860.6,638.7 862.3,657.9 863.9,644.5 865.6,636.3 867.3,637.5 868.9,657.4 870.6,645.5 872.3,645.7 873.9,652.6 875.6,658.7 877.3,651.1 878.9,638.3 880.6,651.5 882.3,649.9 883.9,651.3 885.6,639.2 887.3,648.1 888.9,664.7 890.6,669.4 892.2,649.6 893.9,653.5 895.6,653.9 897.2,636.3 898.9,638.6 900.6,646.9 902.2,641.2 903.9,636.7 905.6,648.2 907.2,653.0 908.9,662.9 910.6,643.0 912.2,636.3 913.9,658.1 915.6,653.6 917.2,656.0 918.9,644.1 920.6,652.1 922.2,638.2 923.9,660.3 925.6,626.5 927.2,637.2 928.9,652.5 930.6,656.9 932.2,659.1 933.9,647.0 935.6,649.3 937.2,652.6 938.9,653.2 940.6,650.5 942.2,651.7 943.9,654.8 945.6,639.8 947.2,638.5 948.9,651.4 950.6,645.3 952.2,654.8 953.9,644.3 955.6,665.9 957.2,648.0 958.9,646.4 960.6,649.9 962.2,654.6 963.9,648.3 965.6,650.0 967.2,636.4 968.9,661.0 970.6,665.7 972.2,647.9 973.9,648.9 975.6,652.3 977.2,653.5 978.9,640.6 980.6,635.0 982.2,654.3 983.9,637.9 985.6,645.2 987.2,643.0 988.9,650.4 990.6,650.4 992.2,638.1 993.9,656.8 995.6,649.1 997.2,644.3 998.9,655.5 1000.5,657.6 1002.2,655.8 1003.9,641.1 1005.5,649.4 1007.2,653.8 1008.9,657.5 1010.5,645.5 1012.2,651.1 1013.9,651.3 1015.5,659.1 1017.2,654.0 1018.9,658.0" fill="none" stroke="#4a4a4a" stroke-width="2.4" stroke-linejoin="round"  stroke-opacity="0.6"/>
<polygon points="165.8,658.6 167.5,658.6 169.1,658.6 170.8,658.6 172.5,658.6 174.1,658.6 175.8,658.6 177.5,658.6 179.1,658.6 180.8,658.6 182.5,658.6 184.1,658.6 185.8,658.6 187.5,658.6 189.1,658.6 190.8,658.6 192.5,658.6 194.1,658.5 195.8,658.5 197.5,658.5 199.1,658.5 200.8,658.5 202.5,658.5 204.1,658.5 205.8,658.5 207.5,658.5 209.1,658.5 210.8,658.5 212.5,658.5 214.1,658.5 215.8,658.5 217.5,658.5 219.1,658.5 220.8,658.5 222.4,658.4 224.1,658.4 225.8,658.4 227.4,658.4 229.1,658.4 230.8,658.4 232.4,658.4 234.1,658.4 235.8,658.4 237.4,658.4 239.1,658.4 240.8,658.4 242.4,658.4 244.1,658.4 245.8,658.4 247.4,658.4 249.1,658.4 250.8,658.3 252.4,658.3 254.1,658.3 255.8,658.3 257.4,658.3 259.1,658.3 260.8,658.3 262.4,658.3 264.1,658.3 265.8,658.3 267.4,658.3 269.1,658.3 270.8,658.3 272.4,658.3 274.1,658.3 275.8,658.3 277.4,658.3 279.1,658.2 280.8,658.2 282.4,658.2 284.1,658.2 285.8,658.2 287.4,658.2 289.1,658.2 290.8,658.2 292.4,658.2 294.1,658.2 295.8,658.2 297.4,658.2 299.1,658.2 300.8,658.2 302.4,658.2 304.1,658.2 305.8,658.2 307.4,658.1 309.1,658.1 310.8,658.1 312.4,658.1 314.1,658.1 315.8,658.1 317.4,658.1 319.1,658.1 320.8,658.1 322.4,658.1 324.1,658.1 325.8,658.1 327.4,658.1 329.1,658.1 330.8,658.1 332.4,658.1 334.1,657.0 335.7,656.0 337.4,654.9 339.1,653.9 340.7,652.8 342.4,651.8 344.1,650.8 345.7,649.7 347.4,648.7 349.1,647.6 350.7,646.6 352.4,645.5 354.1,644.5 355.7,643.5 357.4,642.4 359.1,641.4 360.7,640.5 362.4,639.5 364.1,638.5 365.7,637.5 367.4,636.5 369.1,635.5 370.7,634.6 372.4,633.6 374.1,632.6 375.7,631.6 377.4,630.6 379.1,629.7 380.7,628.7 382.4,627.7 384.1,627.4 385.7,627.1 387.4,626.9 389.1,626.6 390.7,626.3 392.4,626.1 394.1,625.8 395.7,625.5 397.4,625.2 399.1,625.0 400.7,624.7 402.4,624.4 404.1,624.1 405.7,623.9 407.4,623.6 409.1,623.3 410.7,623.0 412.4,622.8 414.1,622.5 415.7,622.2 417.4,621.8 419.1,621.5 420.7,621.1 422.4,620.7 424.1,620.3 425.7,619.9 427.4,619.6 429.1,619.2 430.7,618.8 432.4,618.4 434.1,618.0 435.7,616.3 437.4,613.2 439.1,610.2 440.7,607.1 442.4,604.0 444.0,600.9 445.7,597.9 447.4,592.4 449.0,584.7 450.7,576.9 452.4,569.1 454.0,565.2 455.7,565.0 457.4,564.8 459.0,564.6 460.7,564.4 462.4,564.2 464.0,564.0 465.7,562.4 467.4,559.3 469.0,556.2 470.7,553.2 472.4,550.1 474.0,547.0 475.7,543.9 477.4,539.4 479.0,533.6 480.7,527.8 482.4,512.2 484.0,496.5 485.7,488.4 487.4,480.3 489.0,472.2 490.7,464.1 492.4,456.0 494.0,439.9 495.7,423.8 497.4,407.6 499.0,391.5 500.7,369.4 502.4,347.2 504.0,325.1 505.7,303.0 507.4,280.9 509.0,253.2 510.7,225.5 512.4,197.8 514.0,170.2 515.7,149.5 517.4,128.8 519.0,115.9 520.7,110.9 522.4,142.2 524.0,173.6 525.7,181.9 527.4,190.3 529.0,198.7 530.7,199.4 532.4,192.6 534.0,185.8 535.7,178.9 537.4,172.1 539.0,165.3 540.7,158.4 542.4,151.7 544.0,144.9 545.7,139.7 547.4,136.0 549.0,132.3 550.7,128.6 552.4,124.9 554.0,121.2 555.7,117.5 557.3,113.8 559.0,112.2 560.7,110.6 562.3,109.0 564.0,107.4 565.7,105.7 567.3,104.1 569.0,102.5 570.7,100.9 572.3,98.7 574.0,96.6 575.7,94.4 577.3,92.3 579.0,90.1 580.7,88.0 582.3,92.7 584.0,97.5 585.7,102.2 587.3,106.4 589.0,110.1 590.7,113.8 592.3,119.4 594.0,124.9 595.7,130.8 597.3,136.7 599.0,142.6 600.7,148.5 602.3,154.4 604.0,160.3 605.7,166.2 607.3,172.2 609.0,178.1 610.7,184.0 612.3,189.1 614.0,194.2 615.7,199.4 617.3,204.5 619.0,209.7 620.7,214.8 622.3,219.9 624.0,225.1 625.7,230.2 627.3,235.3 629.0,240.5 630.7,245.4 632.3,250.0 634.0,254.6 635.7,259.2 637.3,263.8 639.0,268.4 640.7,273.1 642.3,277.7 644.0,282.3 645.7,286.9 647.3,291.5 649.0,296.1 650.7,300.7 652.3,305.4 654.0,311.0 655.7,317.6 657.3,324.3 659.0,330.9 660.7,337.6 662.3,344.2 664.0,350.9 665.7,357.5 667.3,364.9 669.0,372.3 670.6,379.7 672.3,383.4 674.0,387.1 675.6,390.8 677.3,391.3 679.0,388.6 680.6,385.9 682.3,383.2 684.0,380.5 685.6,377.8 687.3,378.4 689.0,379.1 690.6,379.7 692.3,380.3 694.0,380.9 695.6,381.5 697.3,384.7 699.0,387.8 700.6,391.0 702.3,396.9 704.0,405.5 705.6,414.1 707.3,422.8 709.0,431.3 710.6,433.6 712.3,435.9 714.0,438.2 715.6,440.5 717.3,442.7 719.0,445.0 720.6,447.3 722.3,449.6 724.0,453.4 725.6,457.2 727.3,461.0 729.0,464.8 730.6,468.6 732.3,472.4 734.0,476.2 735.6,480.0 737.3,483.8 739.0,487.6 740.6,491.4 742.3,495.2 744.0,499.0 745.6,502.5 747.3,505.7 749.0,508.9 750.6,512.2 752.3,515.4 754.0,518.6 755.6,521.8 757.3,525.0 759.0,528.3 760.6,531.5 762.3,534.7 764.0,537.9 765.6,541.1 767.3,543.3 769.0,545.5 770.6,547.7 772.3,549.9 774.0,552.1 775.6,554.3 777.3,556.5 778.9,558.7 780.6,560.9 782.3,563.1 783.9,565.3 785.6,567.5 787.3,569.6 788.9,571.8 790.6,574.0 792.3,575.4 793.9,576.7 795.6,578.0 797.3,579.4 798.9,580.7 800.6,582.0 802.3,583.3 803.9,584.7 805.6,586.0 807.3,587.3 808.9,588.7 810.6,590.0 812.3,591.3 813.9,592.7 815.6,594.0 817.3,595.0 818.9,596.0 820.6,597.0 822.3,598.1 823.9,599.1 825.6,600.1 827.3,601.1 828.9,602.1 830.6,603.2 832.3,604.2 833.9,605.2 835.6,606.2 837.3,607.2 838.9,608.2 840.6,609.3 842.3,610.3 843.9,611.3 845.6,612.3 847.3,613.3 848.9,614.2 850.6,614.8 852.3,615.5 853.9,616.1 855.6,616.8 857.3,617.5 858.9,618.1 860.6,618.8 862.3,619.4 863.9,620.1 865.6,620.7 867.3,621.4 868.9,622.0 870.6,622.7 872.3,623.3 873.9,624.0 875.6,624.7 877.3,625.3 878.9,626.0 880.6,626.7 882.3,627.3 883.9,628.0 885.6,628.7 887.3,629.3 888.9,630.0 890.6,630.2 892.2,630.4 893.9,630.6 895.6,630.9 897.2,631.1 898.9,631.3 900.6,631.5 902.2,631.7 903.9,631.9 905.6,632.1 907.2,632.3 908.9,632.6 910.6,632.8 912.2,633.0 913.9,633.2 915.6,633.4 917.2,633.6 918.9,633.8 920.6,634.0 922.2,634.3 923.9,634.5 925.6,634.7 927.2,634.9 928.9,635.1 930.6,635.3 932.2,635.5 933.9,635.7 935.6,635.9 937.2,636.2 938.9,636.4 940.6,636.6 942.2,636.8 943.9,637.0 945.6,637.2 947.2,637.4 948.9,637.6 950.6,637.9 952.2,638.1 953.9,638.3 955.6,638.5 957.2,638.7 958.9,638.9 960.6,639.1 962.2,639.3 963.9,639.6 965.6,639.8 967.2,640.0 968.9,640.2 970.6,640.4 972.2,640.6 973.9,640.8 975.6,641.0 977.2,641.2 978.9,641.3 980.6,641.5 982.2,641.7 983.9,641.9 985.6,642.1 987.2,642.3 988.9,642.4 990.6,642.6 992.2,642.8 993.9,643.0 995.6,643.2 997.2,643.3 998.9,643.5 1000.5,643.7 1002.2,643.9 1003.9,644.1 1005.5,644.3 1007.2,644.4 1008.9,644.6 1010.5,644.8 1012.2,645.0 1013.9,645.2 1015.5,645.4 1017.2,645.5 1018.9,645.7 1018.9,656.7 1017.2,656.5 1015.5,656.3 1013.9,656.1 1012.2,655.9 1010.5,655.7 1008.9,655.5 1007.2,655.3 1005.5,655.1 1003.9,654.9 1002.2,654.7 1000.5,654.5 998.9,654.3 997.2,654.0 995.6,653.8 993.9,653.6 992.2,653.4 990.6,653.2 988.9,653.0 987.2,652.8 985.6,652.6 983.9,652.4 982.2,652.2 980.6,652.0 978.9,651.8 977.2,651.6 975.6,651.4 973.9,651.2 972.2,651.0 970.6,650.7 968.9,650.5 967.2,650.3 965.6,650.0 963.9,649.8 962.2,649.6 960.6,649.3 958.9,649.1 957.2,648.9 955.6,648.6 953.9,648.4 952.2,648.2 950.6,647.9 948.9,647.7 947.2,647.4 945.6,647.2 943.9,647.0 942.2,646.7 940.6,646.5 938.9,646.3 937.2,646.0 935.6,645.8 933.9,645.6 932.2,645.3 930.6,645.1 928.9,644.9 927.2,644.6 925.6,644.4 923.9,644.2 922.2,643.9 920.6,643.7 918.9,643.4 917.2,643.2 915.6,643.0 913.9,642.7 912.2,642.5 910.6,642.3 908.9,642.0 907.2,641.8 905.6,641.6 903.9,641.3 902.2,641.1 900.6,640.9 898.9,640.6 897.2,640.4 895.6,640.2 893.9,639.9 892.2,639.7 890.6,639.4 888.9,639.2 887.3,638.5 885.6,637.8 883.9,637.1 882.3,636.5 880.6,635.8 878.9,635.1 877.3,634.4 875.6,633.7 873.9,633.0 872.3,632.3 870.6,631.6 868.9,630.9 867.3,630.2 865.6,629.5 863.9,628.8 862.3,628.1 860.6,627.4 858.9,626.7 857.3,626.0 855.6,625.3 853.9,624.6 852.3,623.9 850.6,623.2 848.9,622.5 847.3,621.6 845.6,620.5 843.9,619.5 842.3,618.4 840.6,617.3 838.9,616.3 837.3,615.2 835.6,614.2 833.9,613.1 832.3,612.0 830.6,611.0 828.9,609.9 827.3,608.8 825.6,607.8 823.9,606.7 822.3,605.6 820.6,604.6 818.9,603.5 817.3,602.4 815.6,601.4 813.9,600.0 812.3,598.6 810.6,597.2 808.9,595.9 807.3,594.5 805.6,593.1 803.9,591.7 802.3,590.4 800.6,589.0 798.9,587.6 797.3,586.2 795.6,584.9 793.9,583.5 792.3,582.1 790.6,580.7 788.9,578.5 787.3,576.2 785.6,574.0 783.9,571.8 782.3,569.5 780.6,567.3 778.9,565.1 777.3,562.8 775.6,560.6 774.0,558.3 772.3,556.1 770.6,553.9 769.0,551.6 767.3,549.4 765.6,547.1 764.0,543.9 762.3,540.6 760.6,537.3 759.0,534.0 757.3,530.8 755.6,527.5 754.0,524.2 752.3,520.9 750.6,517.6 749.0,514.4 747.3,511.1 745.6,507.8 744.0,504.2 742.3,500.4 740.6,496.5 739.0,492.7 737.3,488.8 735.6,484.9 734.0,481.1 732.3,477.2 730.6,473.4 729.0,469.5 727.3,465.7 725.6,461.8 724.0,457.9 722.3,454.1 720.6,451.8 719.0,449.4 717.3,447.1 715.6,444.7 714.0,442.4 712.3,440.1 710.6,437.7 709.0,435.4 707.3,426.8 705.6,418.1 704.0,409.5 702.3,400.9 700.6,395.0 699.0,391.8 697.3,388.7 695.6,385.5 694.0,384.9 692.3,384.3 690.6,383.7 689.0,383.1 687.3,382.4 685.6,381.8 684.0,384.5 682.3,387.2 680.6,389.9 679.0,392.6 677.3,395.3 675.6,394.8 674.0,391.1 672.3,387.4 670.6,383.7 669.0,376.3 667.3,368.9 665.7,361.5 664.0,354.9 662.3,348.2 660.7,341.6 659.0,334.9 657.3,328.3 655.7,321.6 654.0,315.0 652.3,309.4 650.7,304.7 649.0,300.1 647.3,295.5 645.7,290.9 644.0,286.3 642.3,281.7 640.7,277.1 639.0,272.4 637.3,267.8 635.7,263.2 634.0,258.6 632.3,254.0 630.7,249.4 629.0,244.5 627.3,239.3 625.7,234.2 624.0,229.1 622.3,223.9 620.7,218.8 619.0,213.7 617.3,208.5 615.7,203.4 614.0,198.2 612.3,193.1 610.7,188.0 609.0,182.1 607.3,176.2 605.7,170.2 604.0,164.3 602.3,158.4 600.7,152.5 599.0,146.6 597.3,140.7 595.7,134.8 594.0,128.9 592.3,123.4 590.7,117.8 589.0,114.1 587.3,110.4 585.7,106.2 584.0,101.5 582.3,96.7 580.7,92.0 579.0,94.1 577.3,96.3 575.7,98.4 574.0,100.6 572.3,102.7 570.7,104.9 569.0,106.5 567.3,108.1 565.7,109.7 564.0,111.4 562.3,113.0 560.7,114.6 559.0,116.2 557.3,117.8 555.7,121.5 554.0,125.2 552.4,128.9 550.7,132.6 549.0,136.3 547.4,140.0 545.7,143.7 544.0,148.9 542.4,155.7 540.7,162.4 539.0,169.1 537.4,175.8 535.7,182.5 534.0,189.2 532.4,195.9 530.7,202.6 529.0,201.7 527.4,193.2 525.7,184.7 524.0,176.2 522.4,144.8 520.7,113.3 519.0,118.2 517.4,130.9 515.7,151.5 514.0,172.2 512.4,199.9 510.7,227.7 509.0,255.4 507.4,283.1 505.7,305.3 504.0,327.5 502.4,349.6 500.7,371.8 499.0,394.0 497.4,410.2 495.7,426.4 494.0,442.5 492.4,458.7 490.7,466.9 489.0,475.0 487.4,483.2 485.7,491.3 484.0,499.5 482.4,515.2 480.7,531.0 479.0,536.9 477.4,542.9 475.7,547.5 474.0,550.8 472.4,554.0 470.7,557.3 469.0,560.5 467.4,563.8 465.7,567.0 464.0,568.8 462.4,569.2 460.7,569.5 459.0,569.8 457.4,570.2 455.7,570.5 454.0,570.9 452.4,575.0 450.7,582.9 449.0,590.9 447.4,598.8 445.7,604.4 444.0,607.6 442.4,610.9 440.7,614.1 439.1,617.4 437.4,620.6 435.7,623.9 434.1,625.8 432.4,626.4 430.7,627.0 429.1,627.6 427.4,628.2 425.7,628.7 424.1,629.3 422.4,629.9 420.7,630.5 419.1,631.1 417.4,631.6 415.7,632.2 414.1,632.5 412.4,632.8 410.7,633.1 409.1,633.3 407.4,633.6 405.7,633.9 404.1,634.2 402.4,634.5 400.7,634.7 399.1,635.0 397.4,635.3 395.7,635.6 394.1,635.9 392.4,636.1 390.7,636.4 389.1,636.7 387.4,637.0 385.7,637.3 384.1,637.5 382.4,637.8 380.7,638.8 379.1,639.8 377.4,640.8 375.7,641.8 374.1,642.8 372.4,643.8 370.7,644.7 369.1,645.7 367.4,646.7 365.7,647.7 364.1,648.7 362.4,649.7 360.7,650.7 359.1,651.7 357.4,652.6 355.7,653.7 354.1,654.7 352.4,655.8 350.7,656.8 349.1,657.9 347.4,658.9 345.7,660.0 344.1,661.0 342.4,662.1 340.7,663.1 339.1,664.2 337.4,665.2 335.7,666.3 334.1,667.3 332.4,668.4 330.8,668.4 329.1,668.4 327.4,668.4 325.8,668.4 324.1,668.5 322.4,668.5 320.8,668.5 319.1,668.5 317.4,668.5 315.8,668.5 314.1,668.5 312.4,668.5 310.8,668.6 309.1,668.6 307.4,668.6 305.8,668.6 304.1,668.6 302.4,668.6 300.8,668.6 299.1,668.6 297.4,668.7 295.8,668.7 294.1,668.7 292.4,668.7 290.8,668.7 289.1,668.7 287.4,668.7 285.8,668.7 284.1,668.8 282.4,668.8 280.8,668.8 279.1,668.8 277.4,668.8 275.8,668.8 274.1,668.8 272.4,668.8 270.8,668.9 269.1,668.9 267.4,668.9 265.8,668.9 264.1,668.9 262.4,668.9 260.8,668.9 259.1,668.9 257.4,669.0 255.8,669.0 254.1,669.0 252.4,669.0 250.8,669.0 249.1,669.0 247.4,669.0 245.8,669.0 244.1,669.1 242.4,669.1 240.8,669.1 239.1,669.1 237.4,669.1 235.8,669.1 234.1,669.1 232.4,669.1 230.8,669.2 229.1,669.2 227.4,669.2 225.8,669.2 224.1,669.2 222.4,669.2 220.8,669.2 219.1,669.2 217.5,669.3 215.8,669.3 214.1,669.3 212.5,669.3 210.8,669.3 209.1,669.3 207.5,669.3 205.8,669.3 204.1,669.4 202.5,669.4 200.8,669.4 199.1,669.4 197.5,669.4 195.8,669.4 194.1,669.4 192.5,669.4 190.8,669.5 189.1,669.5 187.5,669.5 185.8,669.5 184.1,669.5 182.5,669.5 180.8,669.5 179.1,669.5 177.5,669.6 175.8,669.6 174.1,669.6 172.5,669.6 170.8,669.6 169.1,669.6 167.5,669.6 165.8,669.6" fill="#4a4a4a" fill-opacity="1.0"/>
<polyline points="165.8,669.5 167.5,661.7 169.1,655.6 170.8,661.3 172.5,669.0 174.1,671.3 175.8,666.3 177.5,677.8 179.1,669.6 180.8,657.7 182.5,657.4 184.1,655.7 185.8,656.2 187.5,665.6 189.1,661.6 190.8,665.3 192.5,661.5 194.1,654.3 195.8,664.7 197.5,670.7 199.1,671.5 200.8,667.6 202.5,664.8 204.1,647.2 205.8,663.8 207.5,666.9 209.1,672.3 210.8,665.2 212.5,670.0 214.1,671.2 215.8,671.2 217.5,668.6 219.1,659.5 220.8,663.8 222.4,657.0 224.1,656.2 225.8,659.8 227.4,667.3 229.1,670.7 230.8,664.8 232.4,658.8 234.1,660.2 235.8,665.9 237.4,670.8 239.1,670.6 240.8,669.2 242.4,666.9 244.1,658.7 245.8,657.3 247.4,660.4 249.1,665.0 250.8,665.6 252.4,667.2 254.1,668.0 255.8,662.4 257.4,664.5 259.1,662.5 260.8,663.1 262.4,660.4 264.1,661.4 265.8,657.7 267.4,655.3 269.1,656.9 270.8,659.8 272.4,662.2 274.1,665.3 275.8,672.7 277.4,664.0 279.1,666.7 280.8,664.7 282.4,648.5 284.1,661.4 285.8,663.1 287.4,660.6 289.1,656.2 290.8,662.7 292.4,664.3 294.1,678.2 295.8,676.4 297.4,678.7 299.1,673.1 300.8,664.2 302.4,653.4 304.1,654.6 305.8,665.7 307.4,664.2 309.1,663.2 310.8,661.7 312.4,673.8 314.1,675.6 315.8,674.1 317.4,670.2 319.1,668.8 320.8,662.4 322.4,650.9 324.1,658.6 325.8,653.1 327.4,656.9 329.1,658.1 330.8,662.1 332.4,664.0 334.1,659.8 335.7,655.1 337.4,653.0 339.1,653.1 340.7,655.5 342.4,655.3 344.1,659.5 345.7,654.9 347.4,652.5 349.1,639.8 350.7,649.1 352.4,647.9 354.1,648.7 355.7,638.0 357.4,643.4 359.1,645.3 360.7,647.4 362.4,650.3 364.1,644.1 365.7,641.7 367.4,637.5 369.1,634.6 370.7,625.0 372.4,624.0 374.1,629.5 375.7,631.0 377.4,625.2 379.1,625.8 380.7,629.2 382.4,629.2 384.1,626.8 385.7,625.7 387.4,626.7 389.1,630.5 390.7,636.3 392.4,644.7 394.1,643.7 395.7,635.1 397.4,629.1 399.1,627.0 400.7,615.6 402.4,622.5 404.1,617.7 405.7,628.8 407.4,630.7 409.1,632.0 410.7,631.6 412.4,627.0 414.1,623.2 415.7,588.5 417.4,625.0 419.1,627.4 420.7,626.8 422.4,627.0 424.1,624.0 425.7,623.8 427.4,623.6 429.1,624.2 430.7,635.7 432.4,544.1 434.1,621.8 435.7,617.5 437.4,609.6 439.1,599.4 440.7,612.7 442.4,618.5 444.0,609.2 445.7,596.6 447.4,592.5 449.0,591.3 450.7,580.6 452.4,567.6 454.0,560.4 455.7,562.5 457.4,529.4 459.0,560.4 460.7,564.2 462.4,566.8 464.0,566.5 465.7,563.0 467.4,560.1 469.0,556.7 470.7,559.1 472.4,514.6 474.0,548.6 475.7,541.1 477.4,537.0 479.0,535.9 480.7,531.4 482.4,515.4 484.0,499.5" fill="none" stroke="#505050" stroke-width="3.2" stroke-linejoin="round" />
<polyline points="482.4,515.4 484.0,499.5 485.7,490.3 487.4,483.9 489.0,476.5 490.7,466.4 492.4,454.9 494.0,437.5 495.7,423.0 497.4,409.3 499.0,389.9 500.7,369.0 502.4,347.2 504.0,325.7 505.7,306.3 507.4,283.9 509.0,256.4 510.7,227.7 512.4,201.7 514.0,174.3 515.7,150.9 517.4,129.0 519.0,115.5" fill="none" stroke="#606060" stroke-width="2.6" stroke-linejoin="round" />
<polyline points="517.4,129.0 519.0,115.5 520.7,111.6 522.4,141.5 524.0,173.3 525.7,181.1 527.4,194.9 529.0,198.7 530.7,197.6 532.4,188.1 534.0,180.6 535.7,177.0 537.4,175.2 539.0,170.9 540.7,163.8 542.4,155.0 544.0,152.5 545.7,141.9 547.4,137.3 549.0,135.3 550.7,134.2 552.4,129.4 554.0,121.2 555.7,116.9 557.3,113.6 559.0,113.4 560.7,112.4 562.3,115.4 564.0,112.2 565.7,108.8 567.3,103.1 569.0,101.2 570.7,99.6 572.3,99.2 574.0,96.2 575.7,93.9 577.3,92.9 579.0,92.5 580.7,88.7 582.3,91.4 584.0,93.1 585.7,98.7 587.3,103.4 589.0,110.5 590.7,114.1 592.3,120.7 594.0,122.7 595.7,127.7 597.3,135.1 599.0,143.5 600.7,149.2 602.3,155.0 604.0,162.7 605.7,170.7 607.3,172.0 609.0,175.2 610.7,179.4 612.3,184.9 614.0,198.7 615.7,205.6 617.3,208.6 619.0,210.7 620.7,216.7 622.3,221.7 624.0,224.8 625.7,229.2 627.3,235.1 629.0,243.3 630.7,247.1 632.3,251.9 634.0,247.3 635.7,257.7 637.3,263.9 639.0,269.2 640.7,274.1 642.3,280.3 644.0,287.4 645.7,291.7 647.3,295.1 649.0,296.3 650.7,295.5 652.3,297.9 654.0,303.2 655.7,308.0 657.3,324.7 659.0,333.4 660.7,343.3 662.3,348.0 664.0,353.8 665.7,359.8 667.3,370.9 669.0,375.4 670.6,378.2 672.3,381.5 674.0,386.9 675.6,392.3 677.3,394.1 679.0,392.4 680.6,389.0 682.3,387.3 684.0,378.2 685.6,382.5 687.3,381.6 689.0,384.8 690.6,384.9 692.3,387.0 694.0,384.5 695.6,385.1 697.3,388.5 699.0,389.6 700.6,390.9 702.3,397.8 704.0,407.5 705.6,415.6 707.3,424.0 709.0,434.3 710.6,435.0 712.3,437.3 714.0,433.2 715.6,442.1 717.3,443.1 719.0,445.1 720.6,452.2 722.3,459.9 724.0,459.0 725.6,460.3 727.3,460.5 729.0,466.3 730.6,473.1 732.3,476.0 734.0,475.2 735.6,478.0 737.3,480.6 739.0,483.0 740.6,479.4 742.3,489.1 744.0,495.9 745.6,501.6 747.3,501.8 749.0,509.8 750.6,517.9 752.3,517.8 754.0,518.7 755.6,519.6 757.3,534.5 759.0,537.9 760.6,531.0 762.3,540.0 764.0,534.7 765.6,543.6 767.3,546.3 769.0,550.6 770.6,556.7 772.3,561.0 774.0,555.4 775.6,552.8 777.3,554.6 778.9,561.2 780.6,570.6 782.3,575.7 783.9,577.5 785.6,573.6 787.3,575.3 788.9,582.0 790.6,583.9 792.3,582.1 793.9,583.3 795.6,591.9 797.3,595.7 798.9,589.5" fill="none" stroke="#3e3e3e" stroke-width="6.0" stroke-linejoin="round" />
<polyline points="795.6,591.9 797.3,595.7 798.9,589.5 800.6,588.6 802.3,594.6 803.9,588.9 805.6,592.5 807.3,596.9 808.9,553.4 810.6,606.4 812.3,615.4 813.9,610.4 815.6,602.7 817.3,591.9 818.9,598.4 820.6,613.8 822.3,608.3 823.9,604.8 825.6,603.7 827.3,604.7 828.9,577.4 830.6,617.9 832.3,624.0 833.9,616.5 835.6,605.4 837.3,600.2 838.9,607.7 840.6,613.6 842.3,621.2 843.9,619.9 845.6,618.8 847.3,616.0 848.9,592.1 850.6,614.2 852.3,616.7 853.9,625.6 855.6,622.4 857.3,624.2 858.9,622.3 860.6,625.6 862.3,619.5 863.9,618.4 865.6,614.0 867.3,633.1 868.9,633.5 870.6,633.8 872.3,633.5 873.9,634.8 875.6,630.1 877.3,630.7 878.9,630.6 880.6,626.2 882.3,628.2 883.9,630.2 885.6,635.8 887.3,623.3 888.9,629.4 890.6,639.9 892.2,639.3 893.9,640.7 895.6,636.1 897.2,639.8 898.9,643.1 900.6,645.7 902.2,638.4 903.9,644.8 905.6,644.1 907.2,645.3 908.9,645.0 910.6,641.8 912.2,645.5 913.9,653.7 915.6,649.3 917.2,646.6 918.9,652.6 920.6,653.5 922.2,643.1 923.9,646.3 925.6,646.7 927.2,654.8 928.9,644.3 930.6,639.9 932.2,638.2 933.9,639.3 935.6,640.9 937.2,634.5 938.9,622.2 940.6,635.4 942.2,642.4 943.9,641.5 945.6,644.1 947.2,645.8 948.9,644.1 950.6,638.9 952.2,637.1 953.9,635.5 955.6,633.1 957.2,631.2 958.9,639.8 960.6,638.7 962.2,582.9 963.9,639.6 965.6,654.8 967.2,660.2 968.9,648.5 970.6,638.5 972.2,637.6 973.9,642.1 975.6,643.6 977.2,646.9 978.9,648.2 980.6,638.6 982.2,645.7 983.9,647.6 985.6,651.3 987.2,657.3 988.9,656.9 990.6,650.9 992.2,648.3 993.9,645.2 995.6,645.5 997.2,651.1 998.9,657.6 1000.5,656.1 1002.2,642.4 1003.9,646.4 1005.5,642.4 1007.2,638.9 1008.9,640.4 1010.5,635.3 1012.2,644.9 1013.9,635.2 1015.5,647.2 1017.2,654.6 1018.9,659.2" fill="none" stroke="#444" stroke-width="3.6" stroke-linejoin="round" />
<polyline points="165.8,670.6 167.5,664.3 169.1,660.4 170.8,675.0 172.5,673.1 174.1,670.3 175.8,657.6 177.5,656.9 179.1,662.0 180.8,661.2 182.5,667.9 184.1,671.6 185.8,661.0 187.5,659.2 189.1,664.6 190.8,676.6 192.5,662.4 194.1,663.2 195.8,668.8 197.5,659.0 199.1,654.8 200.8,658.6 202.5,663.1 204.1,667.6 205.8,660.6 207.5,672.0 209.1,658.6 210.8,659.2 212.5,663.4 214.1,657.6 215.8,666.9 217.5,658.7 219.1,660.8 220.8,664.3 222.4,659.2 224.1,667.9 225.8,665.9 227.4,673.6 229.1,663.4 230.8,660.1 232.4,659.4 234.1,661.2 235.8,659.5 237.4,658.0 239.1,672.9 240.8,666.1 242.4,669.0 244.1,666.2 245.8,662.7 247.4,657.4 249.1,666.5 250.8,668.1 252.4,676.4 254.1,656.3 255.8,667.1 257.4,655.5 259.1,660.9 260.8,667.5 262.4,673.3 264.1,667.4 265.8,664.7 267.4,663.5 269.1,659.4 270.8,671.1 272.4,666.2 274.1,665.5 275.8,657.2 277.4,660.3 279.1,663.3 280.8,664.6 282.4,670.8 284.1,663.3 285.8,677.8 287.4,672.2 289.1,668.9 290.8,661.7 292.4,661.4 294.1,661.3 295.8,659.6 297.4,667.6 299.1,665.5 300.8,669.5 302.4,661.9 304.1,670.6 305.8,661.7 307.4,648.3 309.1,653.0 310.8,665.6 312.4,668.2 314.1,661.5 315.8,666.3 317.4,665.9 319.1,651.4 320.8,668.6 322.4,661.9 324.1,664.5 325.8,654.6 327.4,661.1 329.1,667.3 330.8,656.6 332.4,661.9 334.1,667.7 335.7,665.5 337.4,671.0 339.1,662.1 340.7,658.3 342.4,659.4 344.1,660.9 345.7,655.4 347.4,656.4 349.1,652.6 350.7,648.9 352.4,650.6 354.1,653.9 355.7,653.8 357.4,645.9 359.1,656.8 360.7,644.7 362.4,644.1 364.1,663.9 365.7,652.4 367.4,643.4 369.1,650.3 370.7,636.8 372.4,634.9 374.1,637.6 375.7,637.5 377.4,634.3 379.1,631.7 380.7,631.5 382.4,631.9 384.1,629.0 385.7,628.7 387.4,635.4 389.1,622.6 390.7,639.6 392.4,627.9 394.1,635.2 395.7,628.2 397.4,628.1 399.1,625.6 400.7,626.6 402.4,624.6 404.1,616.2 405.7,631.9 407.4,643.9 409.1,619.3 410.7,621.9 412.4,629.9 414.1,629.5 415.7,632.0 417.4,628.4 419.1,631.5 420.7,621.3 422.4,622.9 424.1,622.4 425.7,626.7 427.4,615.5 429.1,610.9 430.7,622.1 432.4,625.0 434.1,622.6 435.7,625.7 437.4,617.7 439.1,615.7 440.7,607.5 442.4,605.7 444.0,599.4 445.7,604.1 447.4,605.9 449.0,580.0 450.7,571.8 452.4,572.8 454.0,567.7 455.7,555.2 457.4,560.6 459.0,568.7 460.7,572.6 462.4,565.8 464.0,565.4 465.7,561.8 467.4,559.1 469.0,548.8 470.7,556.1 472.4,556.5 474.0,549.7 475.7,546.6 477.4,542.6 479.0,535.2 480.7,527.5 482.4,514.8" fill="none" stroke="#4a4a4a" stroke-width="2.4" stroke-linejoin="round"  stroke-opacity="0.7"/>
<polyline points="532.4,191.2 534.0,187.0 535.7,179.2 537.4,184.7 539.0,168.3 540.7,157.1 542.4,152.8 544.0,141.9 545.7,142.9 547.4,135.5 549.0,127.6 550.7,124.1 552.4,125.6 554.0,118.9 555.7,119.5 557.3,111.2 559.0,115.8 560.7,114.9 562.3,109.2 564.0,112.2 565.7,104.2 567.3,106.8 569.0,108.5 570.7,102.1 572.3,98.6 574.0,95.9 575.7,99.5 577.3,99.2 579.0,93.0 580.7,91.2 582.3,98.1 584.0,106.1 585.7,108.3 587.3,104.8 589.0,111.9 590.7,119.2 592.3,130.0 594.0,132.7 595.7,132.2 597.3,134.9 599.0,137.0 600.7,156.4 602.3,158.4 604.0,165.8 605.7,172.4 607.3,178.8 609.0,175.2 610.7,188.2 612.3,191.7 614.0,185.6 615.7,195.3 617.3,208.4 619.0,217.7 620.7,215.4 622.3,220.9 624.0,229.5 625.7,224.7 627.3,237.9 629.0,244.1 630.7,245.2 632.3,247.3 634.0,254.7 635.7,260.1 637.3,268.3 639.0,269.4 640.7,282.6 642.3,277.3 644.0,285.6 645.7,291.7 647.3,291.9 649.0,297.9 650.7,308.7 652.3,309.4 654.0,317.4 655.7,317.3 657.3,327.2 659.0,336.0 660.7,339.4 662.3,348.2 664.0,355.5 665.7,360.8 667.3,368.5 669.0,367.5 670.6,381.2 672.3,373.5 674.0,383.9 675.6,394.1 677.3,393.9 679.0,387.7 680.6,389.4 682.3,391.1 684.0,384.6 685.6,373.4 687.3,380.6 689.0,385.6 690.6,379.7 692.3,376.9 694.0,375.6 695.6,380.6 697.3,385.5 699.0,395.3 700.6,390.1 702.3,397.7 704.0,404.0 705.6,415.2 707.3,426.0 709.0,429.6 710.6,432.6 712.3,438.6 714.0,445.9 715.6,441.8 717.3,451.5 719.0,451.1 720.6,447.1 722.3,451.7 724.0,457.8 725.6,455.1 727.3,467.1 729.0,470.4 730.6,467.7 732.3,474.7 734.0,478.4 735.6,481.8 737.3,486.3 739.0,492.6 740.6,491.3 742.3,493.5 744.0,503.1 745.6,511.7 747.3,514.3 749.0,499.1 750.6,502.3 752.3,526.5 754.0,529.7 755.6,523.8 757.3,522.8 759.0,527.9 760.6,536.7 762.3,540.7 764.0,547.6 765.6,545.7 767.3,541.9 769.0,552.4 770.6,559.8 772.3,556.7 774.0,553.3 775.6,556.1 777.3,562.7 778.9,565.3 780.6,555.6 782.3,572.3 783.9,567.4 785.6,572.9 787.3,575.2 788.9,581.3 790.6,578.8 792.3,578.6 793.9,592.1 795.6,579.3 797.3,584.6 798.9,586.5 800.6,595.6 802.3,583.0 803.9,579.5 805.6,598.3 807.3,595.5 808.9,593.6 810.6,590.8 812.3,592.1 813.9,599.6 815.6,600.3 817.3,604.5 818.9,603.6 820.6,603.0 822.3,598.7 823.9,606.0 825.6,605.8 827.3,623.2 828.9,615.4 830.6,611.2 832.3,600.9 833.9,604.6 835.6,609.9 837.3,611.2 838.9,612.2 840.6,611.5 842.3,624.0 843.9,610.1 845.6,616.2 847.3,623.9 848.9,625.4 850.6,615.4 852.3,616.2 853.9,609.9 855.6,630.9 857.3,628.1 858.9,617.9 860.6,634.1 862.3,621.1 863.9,623.0 865.6,621.4 867.3,620.7 868.9,626.5 870.6,624.7 872.3,623.6 873.9,625.7 875.6,632.7 877.3,634.9 878.9,627.5 880.6,626.1 882.3,631.4 883.9,635.1 885.6,646.8 887.3,629.7 888.9,645.7 890.6,638.7 892.2,631.3 893.9,647.0 895.6,646.3 897.2,626.1 898.9,643.4 900.6,638.3 902.2,618.0 903.9,633.1 905.6,648.4 907.2,640.6 908.9,633.4 910.6,631.9 912.2,631.8 913.9,643.9 915.6,638.0 917.2,631.5 918.9,648.2 920.6,636.8 922.2,639.3 923.9,638.2 925.6,636.1 927.2,638.8 928.9,638.0 930.6,641.2 932.2,637.1 933.9,632.4 935.6,637.7 937.2,658.1 938.9,629.4 940.6,643.5 942.2,641.3 943.9,651.5 945.6,647.7 947.2,643.9 948.9,655.3 950.6,635.8 952.2,643.6 953.9,621.9 955.6,633.5 957.2,635.6 958.9,629.9 960.6,639.2 962.2,649.2 963.9,644.9 965.6,651.7 967.2,653.4 968.9,645.0 970.6,645.8 972.2,647.8 973.9,657.7 975.6,649.7 977.2,641.0 978.9,644.4 980.6,645.6 982.2,646.6 983.9,647.6 985.6,638.9 987.2,649.4 988.9,646.0 990.6,650.4 992.2,645.5 993.9,642.0 995.6,651.5 997.2,659.6 998.9,645.4 1000.5,650.4 1002.2,644.5 1003.9,654.4 1005.5,660.4 1007.2,647.9 1008.9,659.4 1010.5,648.0 1012.2,653.6 1013.9,662.1 1015.5,640.2 1017.2,644.1 1018.9,656.6" fill="none" stroke="#444" stroke-width="2.6" stroke-linejoin="round"  stroke-opacity="0.7"/>
<polygon points="165.8,644.4 167.5,644.4 169.1,644.3 170.8,644.3 172.5,644.3 174.1,644.3 175.8,644.3 177.5,644.3 179.1,644.3 180.8,644.2 182.5,644.2 184.1,644.2 185.8,644.2 187.5,644.2 189.1,644.2 190.8,644.1 192.5,644.1 194.1,644.1 195.8,644.1 197.5,644.1 199.1,644.1 200.8,644.0 202.5,644.0 204.1,644.0 205.8,644.0 207.5,644.0 209.1,644.0 210.8,643.9 212.5,643.9 214.1,643.9 215.8,643.9 217.5,643.9 219.1,643.9 220.8,643.9 222.4,643.8 224.1,643.8 225.8,643.8 227.4,643.8 229.1,643.8 230.8,643.8 232.4,643.7 234.1,643.7 235.8,643.7 237.4,643.7 239.1,643.7 240.8,643.7 242.4,643.6 244.1,643.6 245.8,643.6 247.4,643.6 249.1,643.6 250.8,643.6 252.4,643.5 254.1,643.5 255.8,643.5 257.4,643.5 259.1,643.5 260.8,643.5 262.4,643.5 264.1,643.4 265.8,643.4 267.4,643.4 269.1,643.4 270.8,643.4 272.4,643.4 274.1,643.3 275.8,643.3 277.4,643.3 279.1,643.3 280.8,643.3 282.4,643.3 284.1,643.2 285.8,643.2 287.4,643.2 289.1,643.2 290.8,643.2 292.4,643.2 294.1,643.1 295.8,643.1 297.4,643.1 299.1,643.1 300.8,643.1 302.4,643.1 304.1,643.1 305.8,643.0 307.4,643.0 309.1,643.0 310.8,643.0 312.4,643.0 314.1,643.0 315.8,642.9 317.4,642.9 319.1,642.9 320.8,642.9 322.4,642.9 324.1,642.9 325.8,643.1 327.4,643.3 329.1,643.5 330.8,643.7 332.4,643.9 334.1,644.1 335.7,644.3 337.4,644.5 339.1,644.7 340.7,644.9 342.4,645.1 344.1,645.3 345.7,645.5 347.4,645.7 349.1,645.9 350.7,646.1 352.4,646.4 354.1,646.6 355.7,646.8 357.4,647.0 359.1,647.2 360.7,647.4 362.4,647.6 364.1,647.8 365.7,648.0 367.4,648.1 369.1,648.2 370.7,648.3 372.4,648.4 374.1,648.5 375.7,648.7 377.4,648.8 379.1,648.9 380.7,649.0 382.4,649.1 384.1,649.3 385.7,649.4 387.4,649.5 389.1,649.6 390.7,649.8 392.4,649.9 394.1,650.0 395.7,650.1 397.4,650.2 399.1,650.4 400.7,650.5 402.4,650.6 404.1,650.7 405.7,650.8 407.4,651.0 409.1,651.1 410.7,651.2 412.4,651.3 414.1,651.5 415.7,651.6 417.4,651.5 419.1,651.5 420.7,651.4 422.4,651.4 424.1,651.3 425.7,651.2 427.4,651.2 429.1,651.1 430.7,651.1 432.4,651.0 434.1,651.0 435.7,650.9 437.4,650.8 439.1,650.8 440.7,650.7 442.4,650.7 444.0,650.6 445.7,650.6 447.4,650.5 449.0,650.4 450.7,650.4 452.4,650.3 454.0,650.3 455.7,650.2 457.4,650.2 459.0,650.1 460.7,650.0 462.4,650.0 464.0,649.9 465.7,649.9 467.4,649.8 469.0,649.8 470.7,649.7 472.4,649.7 474.0,649.6 475.7,649.5 477.4,649.5 479.0,649.4 480.7,649.4 482.4,649.3 484.0,649.3 485.7,649.2 487.4,649.1 489.0,649.1 490.7,649.0 492.4,649.0 494.0,648.9 495.7,648.9 497.4,648.8 499.0,648.7 500.7,648.6 502.4,648.4 504.0,648.3 505.7,648.1 507.4,648.0 509.0,647.8 510.7,647.7 512.4,647.5 514.0,647.3 515.7,647.2 517.4,647.0 519.0,646.9 520.7,646.7 522.4,646.6 524.0,646.4 525.7,646.3 527.4,646.1 529.0,646.0 530.7,645.8 532.4,645.6 534.0,645.5 535.7,645.3 537.4,645.2 539.0,645.0 540.7,644.9 542.4,644.7 544.0,644.6 545.7,644.4 547.4,644.2 549.0,644.1 550.7,643.8 552.4,643.5 554.0,643.2 555.7,642.9 557.3,642.6 559.0,642.3 560.7,642.0 562.3,641.7 564.0,641.4 565.7,641.1 567.3,640.8 569.0,640.5 570.7,640.2 572.3,639.9 574.0,639.6 575.7,639.3 577.3,639.0 579.0,638.7 580.7,638.6 582.3,638.7 584.0,638.8 585.7,638.9 587.3,639.0 589.0,639.2 590.7,639.3 592.3,639.4 594.0,639.5 595.7,639.6 597.3,639.7 599.0,639.9 600.7,640.0 602.3,640.1 604.0,640.2 605.7,640.3 607.3,640.4 609.0,640.6 610.7,640.7 612.3,640.8 614.0,640.9 615.7,641.0 617.3,641.1 619.0,641.3 620.7,641.4 622.3,641.5 624.0,641.6 625.7,641.7 627.3,641.8 629.0,641.9 630.7,642.1 632.3,642.2 634.0,642.3 635.7,642.4 637.3,642.5 639.0,642.5 640.7,642.6 642.3,642.7 644.0,642.8 645.7,642.9 647.3,643.0 649.0,643.1 650.7,643.2 652.3,643.3 654.0,643.4 655.7,643.5 657.3,643.5 659.0,643.6 660.7,643.7 662.3,643.8 664.0,643.9 665.7,644.0 667.3,644.1 669.0,644.1 670.6,644.2 672.3,644.2 674.0,644.3 675.6,644.3 677.3,644.4 679.0,644.4 680.6,644.5 682.3,644.5 684.0,644.6 685.6,644.6 687.3,644.7 689.0,644.8 690.6,644.8 692.3,644.9 694.0,644.9 695.6,645.0 697.3,645.0 699.0,645.1 700.6,645.1 702.3,645.2 704.0,645.2 705.6,645.3 707.3,645.4 709.0,645.4 710.6,645.5 712.3,645.5 714.0,645.6 715.6,645.6 717.3,645.7 719.0,645.7 720.6,645.8 722.3,645.8 724.0,645.9 725.6,645.9 727.3,646.0 729.0,646.1 730.6,646.1 732.3,646.2 734.0,646.2 735.6,646.3 737.3,646.3 739.0,646.4 740.6,646.4 742.3,646.5 744.0,646.5 745.6,646.6 747.3,646.6 749.0,646.7 750.6,646.7 752.3,646.7 754.0,646.8 755.6,646.8 757.3,646.8 759.0,646.8 760.6,646.8 762.3,646.8 764.0,646.9 765.6,646.9 767.3,646.9 769.0,646.9 770.6,646.9 772.3,646.9 774.0,647.0 775.6,647.0 777.3,647.0 778.9,647.0 780.6,647.0 782.3,647.0 783.9,647.1 785.6,647.1 787.3,647.1 788.9,647.1 790.6,647.1 792.3,647.2 793.9,647.2 795.6,647.2 797.3,647.2 798.9,647.2 800.6,647.2 802.3,647.3 803.9,647.3 805.6,647.3 807.3,647.3 808.9,647.3 810.6,647.3 812.3,647.4 813.9,647.4 815.6,647.4 817.3,647.4 818.9,647.4 820.6,647.4 822.3,647.5 823.9,647.5 825.6,647.5 827.3,647.5 828.9,647.5 830.6,647.5 832.3,647.6 833.9,647.6 835.6,647.6 837.3,647.6 838.9,647.6 840.6,647.6 842.3,647.6 843.9,647.6 845.6,647.6 847.3,647.6 848.9,647.5 850.6,647.5 852.3,647.5 853.9,647.5 855.6,647.5 857.3,647.5 858.9,647.5 860.6,647.5 862.3,647.5 863.9,647.5 865.6,647.5 867.3,647.5 868.9,647.5 870.6,647.5 872.3,647.5 873.9,647.5 875.6,647.5 877.3,647.5 878.9,647.5 880.6,647.5 882.3,647.5 883.9,647.5 885.6,647.5 887.3,647.5 888.9,647.5 890.6,647.5 892.2,647.5 893.9,647.5 895.6,647.5 897.2,647.5 898.9,647.5 900.6,647.5 902.2,647.5 903.9,647.5 905.6,647.5 907.2,647.5 908.9,647.5 910.6,647.5 912.2,647.5 913.9,647.5 915.6,647.5 917.2,647.5 918.9,647.5 920.6,647.5 922.2,647.5 923.9,647.5 925.6,647.5 927.2,647.5 928.9,647.5 930.6,647.5 932.2,647.5 933.9,647.5 935.6,647.5 937.2,647.5 938.9,647.5 940.6,647.5 942.2,647.5 943.9,647.5 945.6,647.5 947.2,647.5 948.9,647.5 950.6,647.5 952.2,647.5 953.9,647.5 955.6,647.5 957.2,647.5 958.9,647.5 960.6,647.5 962.2,647.5 963.9,647.5 965.6,647.5 967.2,647.5 968.9,647.5 970.6,647.5 972.2,647.5 973.9,647.5 975.6,647.5 977.2,647.4 978.9,647.4 980.6,647.4 982.2,647.4 983.9,647.4 985.6,647.4 987.2,647.4 988.9,647.4 990.6,647.4 992.2,647.4 993.9,647.4 995.6,647.4 997.2,647.4 998.9,647.4 1000.5,647.4 1002.2,647.4 1003.9,647.4 1005.5,647.4 1007.2,647.4 1008.9,647.4 1010.5,647.4 1012.2,647.4 1013.9,647.4 1015.5,647.4 1017.2,647.4 1018.9,647.4 1018.9,662.4 1017.2,662.4 1015.5,662.4 1013.9,662.4 1012.2,662.4 1010.5,662.4 1008.9,662.4 1007.2,662.4 1005.5,662.4 1003.9,662.4 1002.2,662.4 1000.5,662.4 998.9,662.4 997.2,662.4 995.6,662.4 993.9,662.4 992.2,662.4 990.6,662.4 988.9,662.4 987.2,662.4 985.6,662.4 983.9,662.4 982.2,662.4 980.6,662.4 978.9,662.4 977.2,662.4 975.6,662.4 973.9,662.4 972.2,662.4 970.6,662.4 968.9,662.4 967.2,662.4 965.6,662.4 963.9,662.4 962.2,662.4 960.6,662.4 958.9,662.4 957.2,662.4 955.6,662.4 953.9,662.4 952.2,662.4 950.6,662.4 948.9,662.4 947.2,662.4 945.6,662.4 943.9,662.4 942.2,662.4 940.6,662.4 938.9,662.4 937.2,662.4 935.6,662.4 933.9,662.4 932.2,662.4 930.6,662.3 928.9,662.3 927.2,662.3 925.6,662.3 923.9,662.3 922.2,662.3 920.6,662.3 918.9,662.3 917.2,662.3 915.6,662.3 913.9,662.3 912.2,662.3 910.6,662.3 908.9,662.3 907.2,662.3 905.6,662.3 903.9,662.3 902.2,662.3 900.6,662.3 898.9,662.3 897.2,662.3 895.6,662.3 893.9,662.3 892.2,662.3 890.6,662.3 888.9,662.3 887.3,662.3 885.6,662.3 883.9,662.3 882.3,662.3 880.6,662.3 878.9,662.3 877.3,662.3 875.6,662.3 873.9,662.3 872.3,662.3 870.6,662.3 868.9,662.3 867.3,662.3 865.6,662.3 863.9,662.3 862.3,662.3 860.6,662.3 858.9,662.3 857.3,662.3 855.6,662.3 853.9,662.3 852.3,662.3 850.6,662.3 848.9,662.3 847.3,662.3 845.6,662.3 843.9,662.3 842.3,662.3 840.6,662.3 838.9,662.3 837.3,662.3 835.6,662.3 833.9,662.3 832.3,662.3 830.6,662.3 828.9,662.2 827.3,662.2 825.6,662.2 823.9,662.2 822.3,662.2 820.6,662.1 818.9,662.1 817.3,662.1 815.6,662.1 813.9,662.1 812.3,662.0 810.6,662.0 808.9,662.0 807.3,662.0 805.6,662.0 803.9,661.9 802.3,661.9 800.6,661.9 798.9,661.9 797.3,661.9 795.6,661.8 793.9,661.8 792.3,661.8 790.6,661.8 788.9,661.8 787.3,661.7 785.6,661.7 783.9,661.7 782.3,661.7 780.6,661.7 778.9,661.6 777.3,661.6 775.6,661.6 774.0,661.6 772.3,661.6 770.6,661.5 769.0,661.5 767.3,661.5 765.6,661.5 764.0,661.5 762.3,661.4 760.6,661.4 759.0,661.4 757.3,661.4 755.6,661.4 754.0,661.3 752.3,661.3 750.6,661.3 749.0,661.3 747.3,661.2 745.6,661.2 744.0,661.1 742.3,661.1 740.6,661.0 739.0,660.9 737.3,660.9 735.6,660.8 734.0,660.8 732.3,660.7 730.6,660.7 729.0,660.6 727.3,660.5 725.6,660.5 724.0,660.4 722.3,660.4 720.6,660.3 719.0,660.3 717.3,660.2 715.6,660.2 714.0,660.1 712.3,660.0 710.6,660.0 709.0,659.9 707.3,659.9 705.6,659.8 704.0,659.8 702.3,659.7 700.6,659.6 699.0,659.6 697.3,659.5 695.6,659.5 694.0,659.4 692.3,659.4 690.6,659.3 689.0,659.2 687.3,659.2 685.6,659.1 684.0,659.1 682.3,659.0 680.6,659.0 679.0,658.9 677.3,658.8 675.6,658.8 674.0,658.7 672.3,658.7 670.6,658.6 669.0,658.6 667.3,658.5 665.7,658.5 664.0,658.4 662.3,658.3 660.7,658.2 659.0,658.1 657.3,658.0 655.7,657.9 654.0,657.8 652.3,657.7 650.7,657.6 649.0,657.5 647.3,657.4 645.7,657.3 644.0,657.2 642.3,657.1 640.7,657.0 639.0,657.0 637.3,656.9 635.7,656.8 634.0,656.7 632.3,656.6 630.7,656.5 629.0,656.3 627.3,656.2 625.7,656.1 624.0,656.0 622.3,655.9 620.7,655.7 619.0,655.6 617.3,655.5 615.7,655.4 614.0,655.3 612.3,655.2 610.7,655.0 609.0,654.9 607.3,654.8 605.7,654.7 604.0,654.6 602.3,654.4 600.7,654.3 599.0,654.2 597.3,654.1 595.7,654.0 594.0,653.9 592.3,653.7 590.7,653.6 589.0,653.5 587.3,653.4 585.7,653.3 584.0,653.1 582.3,653.0 580.7,652.9 579.0,653.0 577.3,653.3 575.7,653.6 574.0,653.9 572.3,654.2 570.7,654.5 569.0,654.8 567.3,655.1 565.7,655.4 564.0,655.7 562.3,656.0 560.7,656.3 559.0,656.6 557.3,656.9 555.7,657.2 554.0,657.5 552.4,657.8 550.7,658.1 549.0,658.4 547.4,658.5 545.7,658.7 544.0,658.8 542.4,659.0 540.7,659.1 539.0,659.3 537.4,659.4 535.7,659.6 534.0,659.7 532.4,659.9 530.7,660.0 529.0,660.2 527.4,660.3 525.7,660.5 524.0,660.6 522.4,660.8 520.7,661.0 519.0,661.1 517.4,661.3 515.7,661.4 514.0,661.6 512.4,661.7 510.7,661.9 509.0,662.0 507.4,662.2 505.7,662.3 504.0,662.5 502.4,662.6 500.7,662.8 499.0,662.9 497.4,663.0 495.7,663.0 494.0,663.1 492.4,663.2 490.7,663.2 489.0,663.3 487.4,663.3 485.7,663.4 484.0,663.4 482.4,663.5 480.7,663.5 479.0,663.6 477.4,663.6 475.7,663.7 474.0,663.7 472.4,663.8 470.7,663.9 469.0,663.9 467.4,664.0 465.7,664.0 464.0,664.1 462.4,664.1 460.7,664.2 459.0,664.2 457.4,664.3 455.7,664.3 454.0,664.4 452.4,664.5 450.7,664.5 449.0,664.6 447.4,664.6 445.7,664.7 444.0,664.7 442.4,664.8 440.7,664.8 439.1,664.9 437.4,664.9 435.7,665.0 434.1,665.0 432.4,665.1 430.7,665.2 429.1,665.2 427.4,665.3 425.7,665.3 424.1,665.4 422.4,665.4 420.7,665.5 419.1,665.5 417.4,665.6 415.7,665.6 414.1,665.5 412.4,665.4 410.7,665.3 409.1,665.1 407.4,665.0 405.7,664.9 404.1,664.8 402.4,664.6 400.7,664.5 399.1,664.4 397.4,664.3 395.7,664.1 394.1,664.0 392.4,663.9 390.7,663.8 389.1,663.7 387.4,663.5 385.7,663.4 384.1,663.3 382.4,663.2 380.7,663.0 379.1,662.9 377.4,662.8 375.7,662.7 374.1,662.5 372.4,662.4 370.7,662.3 369.1,662.1 367.4,662.0 365.7,661.8 364.1,661.6 362.4,661.4 360.7,661.1 359.1,660.9 357.4,660.6 355.7,660.4 354.1,660.2 352.4,659.9 350.7,659.7 349.1,659.5 347.4,659.2 345.7,659.0 344.1,658.7 342.4,658.5 340.7,658.3 339.1,658.0 337.4,657.8 335.7,657.6 334.1,657.3 332.4,657.1 330.8,656.8 329.1,656.6 327.4,656.4 325.8,656.1 324.1,655.9 322.4,655.9 320.8,655.9 319.1,655.9 317.4,655.8 315.8,655.8 314.1,655.8 312.4,655.8 310.8,655.8 309.1,655.8 307.4,655.7 305.8,655.7 304.1,655.7 302.4,655.7 300.8,655.7 299.1,655.7 297.4,655.6 295.8,655.6 294.1,655.6 292.4,655.6 290.8,655.6 289.1,655.6 287.4,655.5 285.8,655.5 284.1,655.5 282.4,655.5 280.8,655.5 279.1,655.5 277.4,655.5 275.8,655.4 274.1,655.4 272.4,655.4 270.8,655.4 269.1,655.4 267.4,655.4 265.8,655.3 264.1,655.3 262.4,655.3 260.8,655.3 259.1,655.3 257.4,655.3 255.8,655.2 254.1,655.2 252.4,655.2 250.8,655.2 249.1,655.2 247.4,655.2 245.8,655.1 244.1,655.1 242.4,655.1 240.8,655.1 239.1,655.1 237.4,655.1 235.8,655.1 234.1,655.0 232.4,655.0 230.8,655.0 229.1,655.0 227.4,655.0 225.8,655.0 224.1,654.9 222.4,654.9 220.8,654.9 219.1,654.9 217.5,654.9 215.8,654.9 214.1,654.8 212.5,654.8 210.8,654.8 209.1,654.8 207.5,654.8 205.8,654.8 204.1,654.7 202.5,654.7 200.8,654.7 199.1,654.7 197.5,654.7 195.8,654.7 194.1,654.7 192.5,654.6 190.8,654.6 189.1,654.6 187.5,654.6 185.8,654.6 184.1,654.6 182.5,654.5 180.8,654.5 179.1,654.5 177.5,654.5 175.8,654.5 174.1,654.5 172.5,654.4 170.8,654.4 169.1,654.4 167.5,654.4 165.8,654.4" fill="#111" fill-opacity="1.0"/>
<polyline points="165.8,649.7 167.5,646.3 169.1,661.4 170.8,655.8 172.5,645.6 174.1,639.1 175.8,644.3 177.5,646.0 179.1,647.3 180.8,647.6 182.5,647.9 184.1,648.6 185.8,654.7 187.5,652.6 189.1,650.4 190.8,646.4 192.5,649.3 194.1,649.9 195.8,654.0 197.5,650.1 199.1,647.9 200.8,644.4 202.5,645.8 204.1,649.8 205.8,649.9 207.5,642.1 209.1,642.8 210.8,655.9 212.5,668.4 214.1,659.5 215.8,641.5 217.5,642.1 219.1,641.4 220.8,641.5 222.4,644.9 224.1,639.9 225.8,646.1 227.4,649.9 229.1,653.1 230.8,654.5 232.4,643.4 234.1,642.7 235.8,650.4 237.4,647.1 239.1,652.4 240.8,647.6 242.4,642.4 244.1,650.6 245.8,649.5 247.4,641.2 249.1,645.5 250.8,651.9 252.4,649.4 254.1,642.7 255.8,641.1 257.4,635.8 259.1,633.5 260.8,627.9 262.4,652.5 264.1,651.7 265.8,649.8 267.4,654.5 269.1,651.3 270.8,648.2 272.4,637.7 274.1,657.7 275.8,669.3 277.4,662.3 279.1,652.1 280.8,639.3 282.4,641.9 284.1,646.6 285.8,651.3 287.4,650.0 289.1,652.6 290.8,658.9 292.4,651.8 294.1,642.8 295.8,639.7 297.4,647.1 299.1,651.7 300.8,650.5 302.4,647.9 304.1,640.1 305.8,653.9 307.4,656.1 309.1,653.6 310.8,647.6 312.4,646.2 314.1,644.1 315.8,647.9 317.4,654.1 319.1,645.9 320.8,653.7 322.4,653.4 324.1,651.6 325.8,654.2 327.4,657.4 329.1,659.0 330.8,662.6 332.4,662.2 334.1,656.3 335.7,646.6 337.4,642.8 339.1,635.7 340.7,635.9 342.4,642.8 344.1,646.2 345.7,648.6 347.4,647.1 349.1,655.3 350.7,652.7 352.4,662.3 354.1,658.5 355.7,657.1 357.4,654.9 359.1,653.2 360.7,646.6 362.4,644.2 364.1,654.4 365.7,658.6 367.4,658.7 369.1,653.4 370.7,649.3 372.4,651.2 374.1,657.9 375.7,662.9 377.4,665.6 379.1,666.9 380.7,664.5 382.4,656.2 384.1,648.1 385.7,650.2 387.4,653.5 389.1,658.6 390.7,649.0 392.4,648.3 394.1,647.5 395.7,658.3 397.4,663.2 399.1,678.0 400.7,661.0 402.4,657.5 404.1,663.4 405.7,661.9 407.4,664.0 409.1,653.6 410.7,654.0 412.4,649.0 414.1,667.0 415.7,659.9 417.4,665.1 419.1,663.3 420.7,664.3 422.4,661.4 424.1,658.8 425.7,655.3 427.4,650.8 429.1,665.1 430.7,661.3 432.4,668.5 434.1,668.2 435.7,656.8 437.4,666.7 439.1,663.1 440.7,657.1 442.4,656.3 444.0,651.1 445.7,649.6 447.4,657.7 449.0,660.6 450.7,658.4 452.4,666.5 454.0,656.5 455.7,653.3 457.4,658.2 459.0,665.0 460.7,669.1 462.4,658.7 464.0,652.9 465.7,663.7 467.4,652.4 469.0,665.4 470.7,646.6 472.4,651.6 474.0,646.7 475.7,647.8 477.4,652.8 479.0,662.6 480.7,663.6 482.4,659.4 484.0,651.3 485.7,656.6 487.4,658.4 489.0,648.2 490.7,642.7 492.4,659.5 494.0,655.4 495.7,660.2 497.4,658.1 499.0,663.0 500.7,653.1 502.4,656.3 504.0,650.9 505.7,650.4 507.4,655.1 509.0,670.7 510.7,673.4 512.4,659.0 514.0,648.3 515.7,648.2 517.4,654.2 519.0,652.0 520.7,649.4 522.4,647.6 524.0,654.5 525.7,652.8 527.4,645.4 529.0,646.3 530.7,645.2 532.4,642.9 534.0,641.6 535.7,659.7 537.4,661.7 539.0,654.0 540.7,639.3 542.4,659.9 544.0,659.1 545.7,655.0 547.4,639.9 549.0,644.7 550.7,629.2 552.4,624.2 554.0,638.6 555.7,646.1 557.3,657.2 559.0,658.5 560.7,660.7 562.3,650.0 564.0,664.7 565.7,659.7 567.3,651.1 569.0,644.4 570.7,642.8 572.3,645.3 574.0,652.8 575.7,663.4 577.3,661.8 579.0,651.7 580.7,643.6 582.3,641.1 584.0,647.9 585.7,651.7 587.3,656.5 589.0,657.2 590.7,648.7 592.3,638.3 594.0,637.8 595.7,650.5 597.3,654.2 599.0,656.1 600.7,653.3 602.3,655.8 604.0,645.4 605.7,658.7 607.3,656.4 609.0,659.7 610.7,663.1 612.3,665.5 614.0,662.2 615.7,656.8 617.3,652.3 619.0,630.3 620.7,636.9 622.3,639.3 624.0,644.0 625.7,648.8 627.3,644.0 629.0,642.0 630.7,646.0 632.3,651.4 634.0,647.6 635.7,641.1 637.3,663.6 639.0,677.4 640.7,663.0 642.3,666.3 644.0,667.1 645.7,657.4 647.3,650.1 649.0,636.2 650.7,636.8 652.3,637.5 654.0,645.7 655.7,644.6 657.3,639.9 659.0,663.5 660.7,668.8 662.3,659.7 664.0,643.8 665.7,637.4 667.3,639.8 669.0,649.6 670.6,647.8 672.3,641.3 674.0,640.4 675.6,657.6 677.3,643.8 679.0,651.3 680.6,646.3 682.3,644.2 684.0,649.1 685.6,648.4 687.3,649.6 689.0,657.4 690.6,665.4 692.3,670.8 694.0,664.7 695.6,647.9 697.3,636.3 699.0,652.0 700.6,656.8 702.3,653.6 704.0,655.3 705.6,659.8 707.3,652.8 709.0,653.0 710.6,650.7 712.3,651.9 714.0,650.5 715.6,659.6 717.3,652.2 719.0,659.9 720.6,651.5 722.3,649.6 724.0,656.6 725.6,657.5 727.3,653.9 729.0,648.8 730.6,642.7 732.3,644.0 734.0,651.1 735.6,666.3 737.3,661.7 739.0,654.2 740.6,645.4 742.3,646.8 744.0,640.9 745.6,638.4 747.3,642.3 749.0,649.9 750.6,649.7 752.3,652.1 754.0,650.5 755.6,646.5 757.3,637.9 759.0,644.9 760.6,650.1 762.3,657.8 764.0,646.1 765.6,660.7 767.3,656.7 769.0,658.1 770.6,655.4 772.3,650.0 774.0,652.1 775.6,652.9 777.3,662.6 778.9,669.9 780.6,674.3 782.3,663.6 783.9,653.1 785.6,658.6 787.3,661.7 788.9,660.9 790.6,649.0 792.3,647.7 793.9,647.9 795.6,656.0 797.3,658.4 798.9,661.3 800.6,654.9 802.3,656.6 803.9,660.4 805.6,660.8 807.3,647.7 808.9,641.2 810.6,644.2 812.3,652.9 813.9,651.0 815.6,635.5 817.3,640.5 818.9,642.0 820.6,649.8 822.3,660.9 823.9,665.7 825.6,667.5 827.3,660.5 828.9,649.9 830.6,650.5 832.3,651.1 833.9,649.3 835.6,650.3 837.3,657.5 838.9,657.0 840.6,656.9 842.3,667.2 843.9,668.4 845.6,661.4 847.3,663.6 848.9,665.4 850.6,659.9 852.3,651.2 853.9,654.5 855.6,657.4 857.3,659.4 858.9,662.0 860.6,654.8 862.3,655.0 863.9,656.3 865.6,658.8 867.3,655.8 868.9,659.8 870.6,665.9 872.3,667.8 873.9,665.2 875.6,657.0 877.3,656.7 878.9,646.0 880.6,644.3 882.3,645.0 883.9,657.5 885.6,657.3 887.3,652.7 888.9,651.4 890.6,658.6 892.2,645.0 893.9,647.5 895.6,651.7 897.2,656.2 898.9,643.1 900.6,644.2 902.2,649.7 903.9,669.4 905.6,674.5 907.2,672.2 908.9,667.5 910.6,667.8 912.2,655.3 913.9,664.6 915.6,653.0 917.2,645.6 918.9,660.5 920.6,668.8 922.2,668.6 923.9,672.3 925.6,671.8 927.2,662.1 928.9,655.5 930.6,655.2 932.2,656.1 933.9,665.6 935.6,659.4 937.2,653.4 938.9,669.4 940.6,655.3 942.2,653.0 943.9,651.5 945.6,660.3 947.2,657.1 948.9,651.2 950.6,635.6 952.2,640.5 953.9,642.4 955.6,654.7 957.2,652.7 958.9,651.9 960.6,652.6 962.2,656.3 963.9,658.1 965.6,654.0 967.2,651.2 968.9,646.9 970.6,643.3 972.2,645.0 973.9,651.5 975.6,660.4 977.2,665.6 978.9,665.8 980.6,658.1 982.2,654.8 983.9,644.1 985.6,660.7 987.2,644.8 988.9,659.9 990.6,663.4 992.2,657.4 993.9,663.3 995.6,671.0 997.2,670.4 998.9,660.1 1000.5,659.8 1002.2,663.5 1003.9,655.8 1005.5,651.4 1007.2,648.7 1008.9,658.4 1010.5,649.4 1012.2,652.3 1013.9,656.2 1015.5,658.1 1017.2,664.9 1018.9,668.4" fill="none" stroke="#111" stroke-width="3.6" stroke-linejoin="round" />
<polyline points="165.8,647.2 167.5,656.7 169.1,644.1 170.8,642.8 172.5,663.1 174.1,658.6 175.8,648.5 177.5,651.6 179.1,649.5 180.8,655.4 182.5,643.2 184.1,643.9 185.8,648.9 187.5,641.4 189.1,646.1 190.8,655.5 192.5,646.8 194.1,656.2 195.8,643.1 197.5,649.7 199.1,650.7 200.8,654.2 202.5,640.7 204.1,650.5 205.8,652.4 207.5,651.9 209.1,645.6 210.8,646.8 212.5,646.4 214.1,646.3 215.8,634.0 217.5,652.3 219.1,653.1 220.8,655.2 222.4,644.9 224.1,641.2 225.8,650.2 227.4,655.4 229.1,655.3 230.8,644.7 232.4,644.0 234.1,645.4 235.8,654.2 237.4,647.7 239.1,648.5 240.8,647.8 242.4,643.0 244.1,647.8 245.8,644.4 247.4,648.9 249.1,647.3 250.8,644.8 252.4,660.0 254.1,651.7 255.8,652.8 257.4,654.1 259.1,651.4 260.8,638.4 262.4,655.7 264.1,642.3 265.8,661.7 267.4,651.8 269.1,648.2 270.8,645.1 272.4,644.1 274.1,643.5 275.8,652.0 277.4,652.8 279.1,643.0 280.8,650.8 282.4,658.8 284.1,657.8 285.8,656.2 287.4,645.7 289.1,648.3 290.8,644.2 292.4,652.6 294.1,648.2 295.8,644.7 297.4,651.7 299.1,646.0 300.8,654.3 302.4,652.1 304.1,652.2 305.8,658.3 307.4,645.7 309.1,652.9 310.8,649.3 312.4,645.8 314.1,646.0 315.8,644.4 317.4,650.1 319.1,652.6 320.8,650.0 322.4,662.1 324.1,660.3 325.8,659.6 327.4,657.4 329.1,647.0 330.8,657.1 332.4,653.3 334.1,640.9 335.7,653.6 337.4,645.6 339.1,658.5 340.7,653.2 342.4,659.0 344.1,654.6 345.7,645.9 347.4,665.6 349.1,649.4 350.7,651.1 352.4,657.7 354.1,664.4 355.7,653.0 357.4,657.9 359.1,652.2 360.7,654.1 362.4,642.2 364.1,656.5 365.7,662.8 367.4,653.7 369.1,653.5 370.7,644.8 372.4,649.0 374.1,652.8 375.7,644.4 377.4,665.0 379.1,660.8 380.7,663.2 382.4,659.2 384.1,666.9 385.7,651.5 387.4,658.2 389.1,668.1 390.7,664.6 392.4,654.5 394.1,650.5 395.7,641.6 397.4,634.6 399.1,654.2 400.7,665.2 402.4,674.3 404.1,655.7 405.7,664.2 407.4,661.2 409.1,662.9 410.7,659.3 412.4,650.0 414.1,657.3 415.7,659.9 417.4,666.7 419.1,671.7 420.7,662.3 422.4,658.8 424.1,644.4 425.7,657.3 427.4,650.5 429.1,662.1 430.7,667.5 432.4,665.7 434.1,663.7 435.7,641.1 437.4,664.4 439.1,651.2 440.7,664.9 442.4,650.3 444.0,654.6 445.7,658.9 447.4,657.9 449.0,662.7 450.7,653.9 452.4,661.0 454.0,667.1 455.7,667.5 457.4,655.8 459.0,644.6 460.7,655.8 462.4,658.0 464.0,654.7 465.7,646.5 467.4,655.1 469.0,660.1 470.7,647.9 472.4,653.3 474.0,644.3 475.7,655.1 477.4,666.4 479.0,667.5 480.7,643.1 482.4,642.5 484.0,657.8 485.7,659.4 487.4,644.4 489.0,665.1 490.7,663.4 492.4,650.9 494.0,659.2 495.7,656.0 497.4,657.2 499.0,653.1 500.7,644.3 502.4,654.8 504.0,650.1 505.7,671.9 507.4,655.5 509.0,661.8 510.7,664.7 512.4,661.8 514.0,657.2 515.7,646.9 517.4,664.9 519.0,653.7 520.7,657.8 522.4,656.4 524.0,645.4 525.7,649.0 527.4,642.3 529.0,654.3 530.7,658.6 532.4,654.6 534.0,650.6 535.7,651.0 537.4,661.1 539.0,651.4 540.7,650.1 542.4,631.3 544.0,636.4 545.7,658.5 547.4,653.7 549.0,663.2 550.7,655.7 552.4,648.1 554.0,640.5 555.7,656.0 557.3,655.1 559.0,667.0 560.7,650.5 562.3,657.5 564.0,652.9 565.7,655.4 567.3,648.7 569.0,662.0 570.7,659.3 572.3,629.6 574.0,657.3 575.7,655.4 577.3,631.1 579.0,622.1 580.7,655.3 582.3,648.9 584.0,643.2 585.7,631.9 587.3,654.3 589.0,648.3 590.7,640.1 592.3,643.0 594.0,649.8 595.7,647.9 597.3,658.2 599.0,649.0 600.7,649.3 602.3,645.4 604.0,651.9 605.7,643.6 607.3,639.3 609.0,646.5 610.7,645.0 612.3,647.5 614.0,648.1 615.7,654.1 617.3,645.7 619.0,649.2 620.7,631.4 622.3,635.8 624.0,645.6 625.7,655.2 627.3,658.2 629.0,639.4 630.7,647.1 632.3,645.4 634.0,663.8 635.7,641.9 637.3,645.9 639.0,658.9 640.7,653.7 642.3,647.8 644.0,649.6 645.7,652.5 647.3,651.1 649.0,652.4 650.7,649.1 652.3,638.4 654.0,671.7 655.7,652.6 657.3,649.3 659.0,648.4 660.7,654.0 662.3,665.5 664.0,648.4 665.7,637.0 667.3,663.9 669.0,644.2 670.6,654.1 672.3,652.0 674.0,660.2 675.6,654.3 677.3,640.9 679.0,646.9 680.6,637.4 682.3,642.1 684.0,648.2 685.6,637.5 687.3,648.3 689.0,645.2 690.6,654.5 692.3,651.6 694.0,657.9 695.6,644.0 697.3,662.0 699.0,645.9 700.6,654.0 702.3,642.8 704.0,646.3 705.6,637.5 707.3,646.6 709.0,665.7 710.6,653.3 712.3,662.5 714.0,657.1 715.6,640.4 717.3,647.7 719.0,658.8 720.6,661.4 722.3,652.8 724.0,663.2 725.6,658.8 727.3,650.7 729.0,643.8 730.6,648.3 732.3,672.4 734.0,651.0 735.6,653.0 737.3,650.2 739.0,640.3 740.6,670.8 742.3,658.7 744.0,648.9 745.6,667.0 747.3,641.7 749.0,650.9 750.6,647.0 752.3,658.8 754.0,647.3 755.6,645.2 757.3,652.2 759.0,652.2 760.6,651.9 762.3,661.3 764.0,655.4 765.6,655.4 767.3,651.0 769.0,645.9 770.6,663.0 772.3,655.3 774.0,641.9 775.6,660.5 777.3,661.2 778.9,652.6 780.6,647.3 782.3,654.3 783.9,643.3 785.6,647.3 787.3,647.4 788.9,649.8 790.6,635.1 792.3,656.2 793.9,671.2 795.6,641.1 797.3,658.3 798.9,653.6 800.6,643.6 802.3,667.9 803.9,665.0 805.6,668.0 807.3,661.3 808.9,651.0 810.6,650.3 812.3,652.4 813.9,666.5 815.6,674.0 817.3,654.3 818.9,658.7 820.6,651.0 822.3,648.9 823.9,653.7 825.6,648.5 827.3,652.9 828.9,650.5 830.6,660.8 832.3,656.4 833.9,653.3 835.6,648.1 837.3,658.2 838.9,650.6 840.6,657.1 842.3,655.9 843.9,648.0 845.6,671.6 847.3,665.8 848.9,667.3 850.6,674.5 852.3,660.6 853.9,648.6 855.6,657.3 857.3,653.3 858.9,645.8 860.6,643.8 862.3,655.5 863.9,643.6 865.6,654.1 867.3,661.9 868.9,659.9 870.6,667.3 872.3,662.4 873.9,657.9 875.6,648.2 877.3,640.5 878.9,666.5 880.6,651.6 882.3,663.7 883.9,650.9 885.6,656.0 887.3,670.3 888.9,647.1 890.6,660.0 892.2,659.4 893.9,663.9 895.6,660.4 897.2,651.3 898.9,656.5 900.6,652.2 902.2,651.9 903.9,643.8 905.6,657.8 907.2,667.3 908.9,645.9 910.6,657.7 912.2,645.5 913.9,651.7 915.6,656.0 917.2,652.0 918.9,638.5 920.6,637.4 922.2,654.3 923.9,653.6 925.6,645.8 927.2,662.0 928.9,652.1 930.6,655.1 932.2,652.3 933.9,661.9 935.6,668.3 937.2,672.4 938.9,664.3 940.6,658.8 942.2,657.4 943.9,638.6 945.6,645.6 947.2,663.0 948.9,652.0 950.6,658.4 952.2,657.3 953.9,653.4 955.6,649.7 957.2,657.8 958.9,645.9 960.6,664.6 962.2,654.9 963.9,633.0 965.6,653.0 967.2,642.8 968.9,654.1 970.6,650.0 972.2,655.4 973.9,656.4 975.6,661.5 977.2,651.3 978.9,662.1 980.6,649.3 982.2,645.7 983.9,651.8 985.6,657.3 987.2,651.1 988.9,657.5 990.6,647.0 992.2,670.4 993.9,657.8 995.6,671.8 997.2,667.6 998.9,643.4 1000.5,647.3 1002.2,661.0 1003.9,667.7 1005.5,680.1 1007.2,659.5 1008.9,634.4 1010.5,651.2 1012.2,659.7 1013.9,651.0 1015.5,668.2 1017.2,657.4 1018.9,654.1" fill="none" stroke="#111" stroke-width="2.4" stroke-linejoin="round"  stroke-opacity="0.7"/>
<polyline points="165.8,655.2 167.5,647.7 169.1,649.8 170.8,650.0 172.5,647.1 174.1,644.7 175.8,648.0 177.5,648.1 179.1,657.4 180.8,645.3 182.5,651.7 184.1,642.4 185.8,640.1 187.5,661.0 189.1,639.9 190.8,654.2 192.5,656.8 194.1,651.0 195.8,647.2 197.5,642.2 199.1,629.3 200.8,659.8 202.5,652.0 204.1,646.7 205.8,653.2 207.5,661.7 209.1,651.0 210.8,649.6 212.5,646.6 214.1,652.2 215.8,639.7 217.5,647.8 219.1,643.7 220.8,656.8 222.4,667.8 224.1,643.8 225.8,646.8 227.4,644.3 229.1,648.3 230.8,651.6 232.4,651.1 234.1,641.9 235.8,654.7 237.4,651.3 239.1,649.5 240.8,646.9 242.4,633.3 244.1,653.1 245.8,630.9 247.4,648.1 249.1,649.1 250.8,652.4 252.4,642.6 254.1,637.0 255.8,655.7 257.4,650.0 259.1,651.1 260.8,653.2 262.4,656.5 264.1,646.0 265.8,643.7 267.4,647.0 269.1,652.9 270.8,647.4 272.4,641.9 274.1,645.7 275.8,641.8 277.4,650.4 279.1,643.0 280.8,644.1 282.4,653.3 284.1,650.0 285.8,654.1 287.4,648.0 289.1,650.2 290.8,648.5 292.4,649.2 294.1,653.3 295.8,645.3 297.4,657.4 299.1,649.1 300.8,666.2 302.4,656.7 304.1,643.9 305.8,651.0 307.4,647.1 309.1,656.3 310.8,660.6 312.4,657.3 314.1,649.4 315.8,652.4 317.4,636.2 319.1,635.2 320.8,642.9 322.4,655.5 324.1,648.4 325.8,653.0 327.4,653.8 329.1,652.5 330.8,650.1 332.4,652.5 334.1,651.1 335.7,664.8 337.4,655.3 339.1,646.3 340.7,647.5 342.4,661.7 344.1,650.2 345.7,652.0 347.4,662.1 349.1,651.8 350.7,649.5 352.4,653.6 354.1,640.3 355.7,658.2 357.4,652.2 359.1,650.6 360.7,650.8 362.4,658.2 364.1,650.9 365.7,652.7 367.4,637.4 369.1,645.1 370.7,655.5 372.4,645.0 374.1,662.8 375.7,653.7 377.4,643.4 379.1,670.3 380.7,647.9 382.4,652.2 384.1,661.1 385.7,649.9 387.4,665.8 389.1,649.5 390.7,656.9 392.4,649.2 394.1,666.1 395.7,652.6 397.4,650.9 399.1,665.2 400.7,645.0 402.4,666.4 404.1,641.1 405.7,642.2 407.4,664.4 409.1,645.1 410.7,655.6 412.4,655.5 414.1,655.7 415.7,672.2 417.4,658.7 419.1,660.6 420.7,654.1 422.4,675.7 424.1,658.4 425.7,650.3 427.4,663.5 429.1,653.8 430.7,653.7 432.4,660.1 434.1,655.7 435.7,651.2 437.4,670.0 439.1,652.8 440.7,660.1 442.4,657.6 444.0,661.3 445.7,662.1 447.4,652.0 449.0,654.2 450.7,660.0 452.4,670.4 454.0,654.4 455.7,653.3 457.4,641.4 459.0,662.7 460.7,655.7 462.4,659.1 464.0,678.3 465.7,662.7 467.4,653.4 469.0,662.2 470.7,643.5 472.4,652.6 474.0,659.3 475.7,648.1 477.4,659.4 479.0,648.1 480.7,654.1 482.4,652.3 484.0,661.1 485.7,655.6 487.4,653.1 489.0,654.5 490.7,650.9 492.4,641.7 494.0,657.3 495.7,661.8 497.4,650.0 499.0,659.7 500.7,643.4 502.4,658.8 504.0,661.8 505.7,652.3 507.4,663.8 509.0,658.4 510.7,648.6 512.4,669.1 514.0,652.3 515.7,658.2 517.4,654.2 519.0,646.2 520.7,650.9 522.4,648.7 524.0,657.6 525.7,642.2 527.4,649.6 529.0,668.5 530.7,642.4 532.4,663.0 534.0,642.9 535.7,660.2 537.4,648.3 539.0,643.2 540.7,653.9 542.4,648.9 544.0,646.6 545.7,666.1 547.4,636.2 549.0,652.7 550.7,647.1 552.4,649.5 554.0,642.9 555.7,649.4 557.3,659.7 559.0,642.4 560.7,667.7 562.3,641.5 564.0,662.7 565.7,639.1 567.3,643.0 569.0,647.2 570.7,651.1 572.3,646.9 574.0,653.5 575.7,641.2 577.3,642.2 579.0,637.9 580.7,653.1 582.3,651.0 584.0,650.4 585.7,662.3 587.3,657.2 589.0,643.5 590.7,636.2 592.3,650.5 594.0,653.3 595.7,634.8 597.3,661.9 599.0,639.3 600.7,661.3 602.3,643.5 604.0,647.8 605.7,642.6 607.3,645.9 609.0,651.0 610.7,649.9 612.3,652.2 614.0,639.6 615.7,656.7 617.3,639.9 619.0,650.6 620.7,658.4 622.3,637.9 624.0,658.5 625.7,658.5 627.3,649.6 629.0,647.5 630.7,640.4 632.3,640.5 634.0,654.2 635.7,650.6 637.3,652.8 639.0,664.8 640.7,652.3 642.3,665.9 644.0,651.6 645.7,658.9 647.3,656.2 649.0,646.7 650.7,647.7 652.3,641.0 654.0,663.7 655.7,648.8 657.3,641.7 659.0,661.8 660.7,660.6 662.3,656.6 664.0,649.3 665.7,661.3 667.3,646.0 669.0,658.4 670.6,678.7 672.3,649.8 674.0,652.6 675.6,651.1 677.3,639.5 679.0,655.0 680.6,656.2 682.3,650.9 684.0,660.7 685.6,655.4 687.3,657.4 689.0,650.3 690.6,657.4 692.3,657.6 694.0,663.5 695.6,639.5 697.3,649.9 699.0,646.8 700.6,642.6 702.3,645.8 704.0,653.7 705.6,653.2 707.3,630.5 709.0,660.8 710.6,656.9 712.3,645.3 714.0,649.6 715.6,644.4 717.3,666.8 719.0,661.6 720.6,652.9 722.3,663.5 724.0,637.3 725.6,657.3 727.3,660.4 729.0,654.7 730.6,649.7 732.3,639.5 734.0,650.1 735.6,656.3 737.3,649.0 739.0,647.7 740.6,654.6 742.3,639.6 744.0,656.3 745.6,664.0 747.3,647.6 749.0,647.4 750.6,668.4 752.3,652.3 754.0,665.5 755.6,657.6 757.3,656.1 759.0,659.7 760.6,652.4 762.3,654.8 764.0,658.4 765.6,656.6 767.3,649.9 769.0,658.3 770.6,653.8 772.3,651.0 774.0,647.0 775.6,670.6 777.3,649.3 778.9,667.5 780.6,648.5 782.3,646.4 783.9,646.4 785.6,652.7 787.3,663.4 788.9,653.6 790.6,660.3 792.3,644.2 793.9,649.1 795.6,646.8 797.3,654.5 798.9,664.4 800.6,651.9 802.3,651.7 803.9,639.1 805.6,649.2 807.3,649.7 808.9,664.2 810.6,657.3 812.3,666.1 813.9,633.9 815.6,632.9 817.3,647.2 818.9,645.1 820.6,651.8 822.3,652.6 823.9,665.3 825.6,649.8 827.3,658.0 828.9,643.1 830.6,652.1 832.3,652.0 833.9,648.4 835.6,652.2 837.3,657.1 838.9,656.2 840.6,663.8 842.3,653.2 843.9,659.1 845.6,653.5 847.3,656.5 848.9,651.1 850.6,651.3 852.3,653.3 853.9,650.9 855.6,662.3 857.3,648.0 858.9,668.0 860.6,650.3 862.3,648.4 863.9,645.2 865.6,651.5 867.3,647.9 868.9,664.1 870.6,650.8 872.3,660.4 873.9,649.9 875.6,641.5 877.3,663.4 878.9,661.5 880.6,645.1 882.3,653.9 883.9,643.3 885.6,659.6 887.3,661.8 888.9,646.1 890.6,642.9 892.2,664.2 893.9,656.0 895.6,646.6 897.2,663.6 898.9,670.6 900.6,662.2 902.2,653.3 903.9,644.5 905.6,653.9 907.2,660.3 908.9,656.4 910.6,675.2 912.2,660.8 913.9,667.6 915.6,659.8 917.2,647.3 918.9,667.8 920.6,651.6 922.2,653.9 923.9,655.9 925.6,661.1 927.2,656.1 928.9,649.8 930.6,642.8 932.2,663.0 933.9,650.8 935.6,661.5 937.2,649.0 938.9,651.8 940.6,673.7 942.2,660.8 943.9,666.1 945.6,660.0 947.2,657.7 948.9,657.1 950.6,651.5 952.2,653.9 953.9,651.3 955.6,647.0 957.2,662.3 958.9,658.5 960.6,668.2 962.2,663.0 963.9,648.8 965.6,651.2 967.2,650.2 968.9,640.5 970.6,651.5 972.2,652.5 973.9,650.3 975.6,640.7 977.2,662.6 978.9,669.0 980.6,649.1 982.2,665.8 983.9,649.8 985.6,661.2 987.2,661.8 988.9,655.2 990.6,678.8 992.2,665.9 993.9,652.6 995.6,643.0 997.2,642.0 998.9,646.2 1000.5,660.1 1002.2,657.1 1003.9,641.0 1005.5,648.9 1007.2,651.5 1008.9,653.9 1010.5,654.5 1012.2,658.8 1013.9,662.6 1015.5,659.1 1017.2,648.9 1018.9,655.1" fill="none" stroke="#111" stroke-width="2.4" stroke-linejoin="round"  stroke-opacity="0.6"/>
<polygon points="165.8,639.8 167.5,639.8 169.1,639.8 170.8,639.7 172.5,639.7 174.1,639.7 175.8,639.7 177.5,639.7 179.1,639.7 180.8,639.7 182.5,639.7 184.1,639.7 185.8,639.7 187.5,639.7 189.1,639.7 190.8,639.7 192.5,639.7 194.1,639.7 195.8,639.7 197.5,639.7 199.1,639.6 200.8,639.6 202.5,639.6 204.1,639.6 205.8,639.6 207.5,639.6 209.1,639.6 210.8,639.6 212.5,639.6 214.1,639.6 215.8,639.6 217.5,639.6 219.1,639.6 220.8,639.6 222.4,639.6 224.1,639.6 225.8,639.6 227.4,639.5 229.1,639.5 230.8,639.5 232.4,639.5 234.1,639.5 235.8,639.5 237.4,639.5 239.1,639.5 240.8,639.5 242.4,639.5 244.1,639.5 245.8,639.5 247.4,639.5 249.1,639.5 250.8,639.5 252.4,639.5 254.1,639.5 255.8,639.4 257.4,639.4 259.1,639.4 260.8,639.4 262.4,639.4 264.1,639.4 265.8,639.4 267.4,639.4 269.1,639.4 270.8,639.4 272.4,639.4 274.1,639.4 275.8,639.4 277.4,639.4 279.1,639.4 280.8,639.4 282.4,639.4 284.1,639.3 285.8,639.3 287.4,639.3 289.1,639.3 290.8,639.3 292.4,639.3 294.1,639.3 295.8,639.3 297.4,639.3 299.1,639.3 300.8,639.3 302.4,639.3 304.1,639.3 305.8,639.3 307.4,639.3 309.1,639.3 310.8,639.3 312.4,639.2 314.1,639.2 315.8,639.2 317.4,639.2 319.1,639.2 320.8,639.2 322.4,639.2 324.1,639.2 325.8,639.2 327.4,639.2 329.1,639.2 330.8,639.2 332.4,639.2 334.1,639.0 335.7,638.9 337.4,638.7 339.1,638.6 340.7,638.5 342.4,638.3 344.1,638.2 345.7,638.0 347.4,637.9 349.1,637.7 350.7,637.6 352.4,637.4 354.1,637.3 355.7,637.2 357.4,637.0 359.1,636.9 360.7,636.7 362.4,636.6 364.1,636.4 365.7,636.3 367.4,636.1 369.1,636.0 370.7,635.9 372.4,635.7 374.1,635.6 375.7,635.5 377.4,635.4 379.1,635.4 380.7,635.3 382.4,635.2 384.1,635.1 385.7,635.1 387.4,635.0 389.1,634.9 390.7,634.9 392.4,634.8 394.1,634.7 395.7,634.6 397.4,634.6 399.1,634.5 400.7,634.4 402.4,634.4 404.1,634.3 405.7,634.2 407.4,634.2 409.1,634.1 410.7,634.0 412.4,633.9 414.1,633.9 415.7,633.8 417.4,633.4 419.1,632.9 420.7,632.5 422.4,632.0 424.1,631.6 425.7,631.1 427.4,630.7 429.1,630.3 430.7,629.8 432.4,629.4 434.1,628.9 435.7,628.5 437.4,628.0 439.1,627.6 440.7,626.1 442.4,623.6 444.0,621.1 445.7,618.6 447.4,616.1 449.0,613.6 450.7,611.1 452.4,609.5 454.0,607.9 455.7,606.4 457.4,604.8 459.0,603.3 460.7,601.7 462.4,600.2 464.0,598.9 465.7,598.1 467.4,597.2 469.0,596.3 470.7,595.4 472.4,594.5 474.0,593.7 475.7,592.8 477.4,590.9 479.0,588.0 480.7,585.1 482.4,582.3 484.0,579.4 485.7,576.5 487.4,572.6 489.0,567.7 490.7,562.9 492.4,558.0 494.0,553.1 495.7,548.2 497.4,542.3 499.0,535.2 500.7,528.1 502.4,521.0 504.0,513.9 505.7,506.8 507.4,499.0 509.0,490.5 510.7,482.0 512.4,473.5 514.0,465.0 515.7,453.3 517.4,438.5 519.0,421.9 520.7,403.4 522.4,401.5 524.0,416.3 525.7,428.0 527.4,436.6 529.0,433.1 530.7,429.7 532.4,426.3 534.0,422.9 535.7,419.4 537.4,416.0 539.0,413.3 540.7,411.2 542.4,409.2 544.0,407.1 545.7,405.1 547.4,403.1 549.0,401.0 550.7,399.0 552.4,397.0 554.0,394.9 555.7,393.2 557.3,391.8 559.0,390.4 560.7,389.0 562.3,387.6 564.0,386.1 565.7,384.7 567.3,383.3 569.0,381.9 570.7,380.5 572.3,379.1 574.0,376.5 575.7,373.9 577.3,371.3 579.0,368.7 580.7,366.2 582.3,368.8 584.0,371.4 585.7,374.1 587.3,376.5 589.0,378.9 590.7,381.2 592.3,383.6 594.0,385.9 595.7,388.3 597.3,391.2 599.0,394.0 600.7,396.9 602.3,399.8 604.0,402.7 605.7,405.6 607.3,408.5 609.0,411.4 610.7,414.2 612.3,417.1 614.0,420.0 615.7,422.6 617.3,425.0 619.0,427.4 620.7,429.8 622.3,432.2 624.0,434.6 625.7,436.9 627.3,439.3 629.0,441.7 630.7,444.1 632.3,446.5 634.0,448.8 635.7,451.2 637.3,453.4 639.0,455.7 640.7,457.9 642.3,460.2 644.0,463.0 645.7,465.9 647.3,468.8 649.0,471.6 650.7,474.5 652.3,477.4 654.0,480.2 655.7,483.1 657.3,486.0 659.0,489.7 660.7,493.4 662.3,497.0 664.0,500.7 665.7,504.4 667.3,508.1 669.0,507.8 670.6,507.5 672.3,507.2 674.0,506.9 675.6,506.5 677.3,506.2 679.0,505.9 680.6,505.6 682.3,505.3 684.0,505.0 685.6,504.7 687.3,504.4 689.0,506.2 690.6,508.0 692.3,509.9 694.0,511.7 695.6,513.6 697.3,515.4 699.0,517.3 700.6,518.7 702.3,520.1 704.0,521.5 705.6,522.9 707.3,524.3 709.0,525.7 710.6,527.1 712.3,528.5 714.0,529.9 715.6,531.3 717.3,533.2 719.0,535.5 720.6,537.9 722.3,540.2 724.0,542.6 725.6,545.0 727.3,547.3 729.0,549.7 730.6,552.0 732.3,554.4 734.0,556.8 735.6,559.1 737.3,561.5 739.0,563.2 740.6,564.8 742.3,566.5 744.0,568.2 745.6,569.9 747.3,571.6 749.0,573.2 750.6,574.9 752.3,576.6 754.0,578.2 755.6,579.9 757.3,581.6 759.0,583.2 760.6,584.9 762.3,586.5 764.0,588.2 765.6,589.9 767.3,591.0 769.0,592.0 770.6,593.1 772.3,594.2 774.0,595.3 775.6,596.4 777.3,597.5 778.9,598.6 780.6,599.7 782.3,600.7 783.9,601.8 785.6,602.9 787.3,604.0 788.9,605.1 790.6,606.2 792.3,607.3 793.9,608.3 795.6,609.4 797.3,610.5 798.9,611.6 800.6,612.6 802.3,613.7 803.9,614.8 805.6,615.9 807.3,616.9 808.9,618.0 810.6,619.1 812.3,620.2 813.9,621.2 815.6,622.3 817.3,623.0 818.9,623.7 820.6,624.4 822.3,625.0 823.9,625.7 825.6,626.4 827.3,627.1 828.9,627.8 830.6,628.5 832.3,629.1 833.9,629.8 835.6,630.5 837.3,631.2 838.9,631.9 840.6,632.6 842.3,633.3 843.9,634.0 845.6,634.7 847.3,635.4 848.9,636.1 850.6,636.3 852.3,636.6 853.9,636.9 855.6,637.2 857.3,637.5 858.9,637.8 860.6,638.1 862.3,638.3 863.9,638.6 865.6,638.9 867.3,639.2 868.9,639.5 870.6,639.8 872.3,640.1 873.9,640.4 875.6,640.6 877.3,640.9 878.9,641.2 880.6,641.5 882.3,641.8 883.9,642.1 885.6,642.4 887.3,642.6 888.9,642.9 890.6,643.2 892.2,643.2 893.9,643.2 895.6,643.2 897.2,643.2 898.9,643.2 900.6,643.2 902.2,643.2 903.9,643.1 905.6,643.1 907.2,643.1 908.9,643.1 910.6,643.1 912.2,643.1 913.9,643.1 915.6,643.1 917.2,643.1 918.9,643.1 920.6,643.1 922.2,643.1 923.9,643.0 925.6,643.0 927.2,643.0 928.9,643.0 930.6,643.0 932.2,643.0 933.9,643.0 935.6,643.0 937.2,643.0 938.9,643.0 940.6,643.0 942.2,642.9 943.9,642.9 945.6,642.9 947.2,642.9 948.9,642.9 950.6,642.9 952.2,642.9 953.9,642.9 955.6,642.9 957.2,642.9 958.9,642.8 960.6,642.7 962.2,642.7 963.9,642.6 965.6,642.6 967.2,642.5 968.9,642.5 970.6,642.4 972.2,642.3 973.9,642.3 975.6,642.2 977.2,642.2 978.9,642.1 980.6,642.0 982.2,642.0 983.9,641.9 985.6,641.9 987.2,641.8 988.9,641.7 990.6,641.7 992.2,641.6 993.9,641.6 995.6,641.5 997.2,641.5 998.9,641.4 1000.5,641.3 1002.2,641.3 1003.9,641.2 1005.5,641.2 1007.2,641.1 1008.9,641.0 1010.5,641.0 1012.2,640.9 1013.9,640.9 1015.5,640.8 1017.2,640.7 1018.9,640.7 1018.9,650.7 1017.2,650.7 1015.5,650.8 1013.9,650.8 1012.2,650.9 1010.5,650.9 1008.9,650.9 1007.2,651.0 1005.5,651.0 1003.9,651.1 1002.2,651.1 1000.5,651.1 998.9,651.2 997.2,651.2 995.6,651.3 993.9,651.3 992.2,651.3 990.6,651.4 988.9,651.4 987.2,651.5 985.6,651.5 983.9,651.5 982.2,651.6 980.6,651.6 978.9,651.7 977.2,651.7 975.6,651.8 973.9,651.8 972.2,651.8 970.6,651.9 968.9,651.9 967.2,652.0 965.6,652.0 963.9,652.0 962.2,652.1 960.6,652.1 958.9,652.2 957.2,652.2 955.6,652.2 953.9,652.2 952.2,652.2 950.6,652.2 948.9,652.2 947.2,652.1 945.6,652.1 943.9,652.1 942.2,652.1 940.6,652.1 938.9,652.1 937.2,652.1 935.6,652.1 933.9,652.1 932.2,652.1 930.6,652.1 928.9,652.1 927.2,652.0 925.6,652.0 923.9,652.0 922.2,652.0 920.6,652.0 918.9,652.0 917.2,652.0 915.6,652.0 913.9,652.0 912.2,652.0 910.6,652.0 908.9,651.9 907.2,651.9 905.6,651.9 903.9,651.9 902.2,651.9 900.6,651.9 898.9,651.9 897.2,651.9 895.6,651.9 893.9,651.9 892.2,651.9 890.6,651.8 888.9,651.5 887.3,651.2 885.6,650.9 883.9,650.6 882.3,650.3 880.6,650.0 878.9,649.7 877.3,649.4 875.6,649.1 873.9,648.8 872.3,648.5 870.6,648.2 868.9,647.9 867.3,647.6 865.6,647.3 863.9,647.0 862.3,646.7 860.6,646.4 858.9,646.1 857.3,645.8 855.6,645.5 853.9,645.1 852.3,644.8 850.6,644.5 848.9,644.2 847.3,643.5 845.6,642.8 843.9,642.1 842.3,641.4 840.6,640.7 838.9,640.0 837.3,639.3 835.6,638.6 833.9,637.8 832.3,637.1 830.6,636.4 828.9,635.7 827.3,635.0 825.6,634.2 823.9,633.5 822.3,632.8 820.6,632.1 818.9,631.4 817.3,630.6 815.6,629.9 813.9,628.8 812.3,627.7 810.6,626.6 808.9,625.5 807.3,624.3 805.6,623.2 803.9,622.1 802.3,621.0 800.6,619.9 798.9,618.8 797.3,617.6 795.6,616.5 793.9,615.4 792.3,614.3 790.6,613.2 788.9,612.1 787.3,610.9 785.6,609.8 783.9,608.7 782.3,607.5 780.6,606.4 778.9,605.3 777.3,604.2 775.6,603.0 774.0,601.9 772.3,600.8 770.6,599.7 769.0,598.5 767.3,597.4 765.6,596.3 764.0,594.6 762.3,592.9 760.6,591.2 759.0,589.5 757.3,587.8 755.6,586.0 754.0,584.3 752.3,582.6 750.6,580.9 749.0,579.2 747.3,577.5 745.6,575.9 744.0,574.2 742.3,572.5 740.6,570.8 739.0,569.1 737.3,567.4 735.6,565.1 734.0,562.7 732.3,560.3 730.6,558.0 729.0,555.6 727.3,553.2 725.6,550.9 724.0,548.5 722.3,546.1 720.6,543.8 719.0,541.4 717.3,539.0 715.6,537.1 714.0,535.7 712.3,534.3 710.6,532.9 709.0,531.5 707.3,530.1 705.6,528.7 704.0,527.3 702.3,525.8 700.6,524.4 699.0,523.0 697.3,521.2 695.6,519.3 694.0,517.5 692.3,515.6 690.6,513.8 689.0,511.9 687.3,510.1 685.6,510.4 684.0,510.7 682.3,511.0 680.6,511.3 679.0,511.6 677.3,511.9 675.6,512.2 674.0,512.5 672.3,512.8 670.6,513.1 669.0,513.4 667.3,513.7 665.7,510.0 664.0,506.3 662.3,502.6 660.7,498.9 659.0,495.2 657.3,491.5 655.7,488.7 654.0,485.8 652.3,482.9 650.7,480.0 649.0,477.2 647.3,474.3 645.7,471.4 644.0,468.5 642.3,465.7 640.7,463.4 639.0,461.1 637.3,458.9 635.7,456.6 634.0,454.3 632.3,451.9 630.7,449.5 629.0,447.1 627.3,444.7 625.7,442.3 624.0,440.0 622.3,437.6 620.7,435.2 619.0,432.8 617.3,430.4 615.7,428.0 614.0,425.4 612.3,422.5 610.7,419.6 609.0,416.7 607.3,413.8 605.7,410.9 604.0,408.0 602.3,405.1 600.7,402.2 599.0,399.3 597.3,396.4 595.7,393.5 594.0,391.2 592.3,388.8 590.7,386.5 589.0,384.1 587.3,381.8 585.7,379.3 584.0,376.6 582.3,374.0 580.7,371.3 579.0,373.9 577.3,376.5 575.7,379.1 574.0,381.7 572.3,384.2 570.7,385.7 569.0,387.1 567.3,388.5 565.7,389.9 564.0,391.3 562.3,392.7 560.7,394.1 559.0,395.5 557.3,396.9 555.7,398.3 554.0,400.0 552.4,402.0 550.7,404.0 549.0,406.1 547.4,408.1 545.7,410.1 544.0,412.2 542.4,414.2 540.7,416.2 539.0,418.2 537.4,420.9 535.7,424.3 534.0,427.7 532.4,431.1 530.7,434.5 529.0,437.9 527.4,441.2 525.7,432.6 524.0,420.9 522.4,406.1 520.7,407.9 519.0,426.4 517.4,443.0 515.7,457.7 514.0,469.3 512.4,477.8 510.7,486.3 509.0,494.8 507.4,503.2 505.7,511.0 504.0,518.0 502.4,525.1 500.7,532.2 499.0,539.2 497.4,546.3 495.7,552.4 494.0,557.3 492.4,562.3 490.7,567.3 489.0,572.2 487.4,577.2 485.7,581.2 484.0,584.1 482.4,587.1 480.7,590.1 479.0,593.0 477.4,596.0 475.7,598.0 474.0,598.9 472.4,599.9 470.7,600.9 469.0,601.8 467.4,602.8 465.7,603.8 464.0,604.7 462.4,606.0 460.7,607.7 459.0,609.3 457.4,611.0 455.7,612.6 454.0,614.3 452.4,615.9 450.7,617.5 449.0,620.1 447.4,622.7 445.7,625.3 444.0,627.9 442.4,630.5 440.7,633.1 439.1,634.7 437.4,635.3 435.7,635.9 434.1,636.5 432.4,637.0 430.7,637.6 429.1,638.2 427.4,638.8 425.7,639.3 424.1,639.9 422.4,640.5 420.7,641.1 419.1,641.6 417.4,642.2 415.7,642.8 414.1,642.9 412.4,643.0 410.7,643.0 409.1,643.1 407.4,643.2 405.7,643.3 404.1,643.3 402.4,643.4 400.7,643.5 399.1,643.6 397.4,643.7 395.7,643.7 394.1,643.8 392.4,643.9 390.7,644.0 389.1,644.0 387.4,644.1 385.7,644.2 384.1,644.3 382.4,644.3 380.7,644.4 379.1,644.5 377.4,644.6 375.7,644.7 374.1,644.7 372.4,644.9 370.7,645.0 369.1,645.2 367.4,645.3 365.7,645.5 364.1,645.6 362.4,645.8 360.7,645.9 359.1,646.1 357.4,646.2 355.7,646.4 354.1,646.5 352.4,646.7 350.7,646.8 349.1,647.0 347.4,647.1 345.7,647.3 344.1,647.4 342.4,647.6 340.7,647.8 339.1,647.9 337.4,648.1 335.7,648.2 334.1,648.4 332.4,648.5 330.8,648.5 329.1,648.5 327.4,648.5 325.8,648.6 324.1,648.6 322.4,648.6 320.8,648.6 319.1,648.6 317.4,648.6 315.8,648.6 314.1,648.6 312.4,648.7 310.8,648.7 309.1,648.7 307.4,648.7 305.8,648.7 304.1,648.7 302.4,648.7 300.8,648.7 299.1,648.8 297.4,648.8 295.8,648.8 294.1,648.8 292.4,648.8 290.8,648.8 289.1,648.8 287.4,648.8 285.8,648.9 284.1,648.9 282.4,648.9 280.8,648.9 279.1,648.9 277.4,648.9 275.8,648.9 274.1,648.9 272.4,649.0 270.8,649.0 269.1,649.0 267.4,649.0 265.8,649.0 264.1,649.0 262.4,649.0 260.8,649.0 259.1,649.1 257.4,649.1 255.8,649.1 254.1,649.1 252.4,649.1 250.8,649.1 249.1,649.1 247.4,649.1 245.8,649.2 244.1,649.2 242.4,649.2 240.8,649.2 239.1,649.2 237.4,649.2 235.8,649.2 234.1,649.2 232.4,649.3 230.8,649.3 229.1,649.3 227.4,649.3 225.8,649.3 224.1,649.3 222.4,649.3 220.8,649.3 219.1,649.4 217.5,649.4 215.8,649.4 214.1,649.4 212.5,649.4 210.8,649.4 209.1,649.4 207.5,649.4 205.8,649.5 204.1,649.5 202.5,649.5 200.8,649.5 199.1,649.5 197.5,649.5 195.8,649.5 194.1,649.5 192.5,649.6 190.8,649.6 189.1,649.6 187.5,649.6 185.8,649.6 184.1,649.6 182.5,649.6 180.8,649.7 179.1,649.7 177.5,649.7 175.8,649.7 174.1,649.7 172.5,649.7 170.8,649.7 169.1,649.7 167.5,649.8 165.8,649.8" fill="#000" fill-opacity="1.0"/>
<polyline points="165.8,637.7 167.5,647.8 169.1,652.9 170.8,647.2 172.5,657.3 174.1,653.4 175.8,654.6 177.5,654.8 179.1,638.6 180.8,623.8 182.5,634.4 184.1,655.5 185.8,636.9 187.5,651.6 189.1,652.3 190.8,648.0 192.5,644.6 194.1,641.1 195.8,632.2 197.5,642.4 199.1,632.7 200.8,629.2 202.5,639.1 204.1,645.5 205.8,645.2 207.5,637.0 209.1,635.8 210.8,640.5 212.5,643.3 214.1,643.9 215.8,645.9 217.5,645.7 219.1,640.0 220.8,639.2 222.4,640.3 224.1,650.0 225.8,650.7 227.4,651.7 229.1,650.2 230.8,653.1 232.4,646.2 234.1,651.1 235.8,647.3 237.4,649.9 239.1,647.6 240.8,640.3 242.4,636.8 244.1,631.1 245.8,638.1 247.4,640.0 249.1,644.6 250.8,646.8 252.4,643.0 254.1,640.9 255.8,645.7 257.4,647.2 259.1,652.8 260.8,651.2 262.4,647.3 264.1,645.1 265.8,640.9 267.4,651.4 269.1,645.5 270.8,649.9 272.4,652.4 274.1,640.7 275.8,651.6 277.4,643.9 279.1,650.4 280.8,651.2 282.4,646.0 284.1,641.0 285.8,643.2 287.4,643.1 289.1,649.0 290.8,643.1 292.4,641.8 294.1,641.3 295.8,650.3 297.4,646.8 299.1,640.5 300.8,634.5 302.4,636.0 304.1,636.8 305.8,633.1 307.4,647.6 309.1,650.8 310.8,645.3 312.4,645.1 314.1,639.1 315.8,650.9 317.4,646.1 319.1,642.4 320.8,644.6 322.4,651.5 324.1,653.5 325.8,638.6 327.4,637.5 329.1,637.3 330.8,641.9 332.4,643.6 334.1,644.1 335.7,633.3 337.4,643.3 339.1,643.5 340.7,645.0 342.4,641.6 344.1,640.6 345.7,641.0 347.4,629.1 349.1,626.6 350.7,638.4 352.4,646.1 354.1,650.0 355.7,643.4 357.4,647.2 359.1,653.2 360.7,640.4 362.4,637.9 364.1,645.3 365.7,649.6 367.4,645.9 369.1,640.9 370.7,623.0 372.4,632.2 374.1,633.7 375.7,628.9 377.4,633.1 379.1,631.8 380.7,629.5 382.4,636.0 384.1,640.4 385.7,645.0 387.4,639.0 389.1,629.8 390.7,634.3 392.4,639.8 394.1,640.3 395.7,640.4 397.4,642.5 399.1,642.6 400.7,628.5 402.4,630.3 404.1,635.0 405.7,644.0 407.4,647.0 409.1,644.5 410.7,638.0 412.4,634.4 414.1,635.5 415.7,636.9 417.4,636.3 419.1,640.2 420.7,634.5 422.4,641.1 424.1,638.3 425.7,638.6 427.4,640.0 429.1,638.7 430.7,634.7 432.4,632.3 434.1,623.1 435.7,631.7 437.4,628.0 439.1,623.3 440.7,627.7" fill="none" stroke="#000" stroke-width="4.0" stroke-linejoin="round" />
<polyline points="439.1,623.3 440.7,627.7 442.4,627.6 444.0,627.8 445.7,614.1 447.4,618.2 449.0,611.6 450.7,598.7 452.4,606.8 454.0,599.5 455.7,605.1 457.4,605.5 459.0,605.6 460.7,603.9 462.4,598.3 464.0,594.7 465.7,588.8 467.4,591.8 469.0,600.2 470.7,590.6 472.4,596.0 474.0,595.1 475.7,594.7 477.4,593.7 479.0,586.5 480.7,584.6 482.4,581.1 484.0,581.6 485.7,580.4 487.4,580.1 489.0,576.0 490.7,569.2 492.4,560.1 494.0,552.0 495.7,546.7 497.4,539.4 499.0,531.5" fill="none" stroke="#000" stroke-width="4.6" stroke-linejoin="round" />
<polyline points="497.4,539.4 499.0,531.5 500.7,526.1 502.4,522.6 504.0,519.2 505.7,511.9 507.4,505.4 509.0,494.3 510.7,492.4 512.4,472.5 514.0,464.7 515.7,455.2 517.4,442.2 519.0,420.9 520.7,406.7 522.4,405.2 524.0,419.1 525.7,424.6 527.4,441.0 529.0,438.1 530.7,437.8 532.4,434.3 534.0,431.5 535.7,428.6 537.4,415.7 539.0,414.2 540.7,415.8 542.4,415.0 544.0,411.5 545.7,409.4 547.4,407.0 549.0,400.6 550.7,407.0 552.4,403.5 554.0,398.1 555.7,398.0 557.3,396.0 559.0,392.3 560.7,396.2 562.3,392.7 564.0,392.5 565.7,389.7 567.3,384.3 569.0,375.0 570.7,381.2 572.3,385.2 574.0,382.9 575.7,373.9 577.3,375.8 579.0,367.4 580.7,362.9 582.3,370.0 584.0,369.0 585.7,372.1 587.3,374.9 589.0,380.4 590.7,381.0 592.3,386.5 594.0,387.0 595.7,389.0 597.3,390.8 599.0,398.6 600.7,403.2 602.3,405.0 604.0,403.5 605.7,403.4 607.3,405.2 609.0,408.3 610.7,412.8 612.3,410.5 614.0,419.4 615.7,422.5 617.3,425.5 619.0,426.1 620.7,427.5 622.3,432.5 624.0,436.4 625.7,434.9 627.3,436.3 629.0,434.1 630.7,444.3 632.3,447.4 634.0,452.2 635.7,455.5 637.3,456.4 639.0,456.2 640.7,457.6 642.3,459.7 644.0,462.6 645.7,468.6 647.3,475.0 649.0,479.0 650.7,478.2 652.3,478.3 654.0,478.3 655.7,478.6 657.3,483.5 659.0,494.9 660.7,498.4 662.3,506.6 664.0,509.0 665.7,510.1 667.3,516.1 669.0,509.7 670.6,513.3 672.3,514.3 674.0,516.8 675.6,512.9 677.3,509.1 679.0,506.4 680.6,503.8 682.3,502.0 684.0,512.6 685.6,505.2 687.3,517.7 689.0,510.0 690.6,513.0 692.3,509.0 694.0,513.4 695.6,515.9 697.3,519.4 699.0,521.6 700.6,526.3 702.3,530.9 704.0,532.9 705.6,533.1 707.3,533.7 709.0,532.4 710.6,526.1 712.3,523.6 714.0,522.1 715.6,526.2 717.3,529.2 719.0,536.7 720.6,539.5 722.3,541.9 724.0,545.5 725.6,554.9 727.3,559.9 729.0,558.8 730.6,551.5 732.3,555.6 734.0,561.1 735.6,563.7 737.3,564.9 739.0,572.9 740.6,566.2 742.3,563.9 744.0,567.4 745.6,572.6 747.3,572.3 749.0,575.2 750.6,581.6 752.3,578.1 754.0,571.9 755.6,574.4 757.3,592.1 759.0,588.4 760.6,588.9 762.3,588.4 764.0,591.1 765.6,597.8 767.3,591.5 769.0,599.8 770.6,605.1 772.3,609.0 774.0,604.4 775.6,598.5 777.3,601.0 778.9,609.5 780.6,607.7 782.3,604.9 783.9,606.2 785.6,608.3 787.3,607.6 788.9,603.8 790.6,598.4 792.3,606.3 793.9,606.2 795.6,607.0 797.3,614.8 798.9,618.1 800.6,616.2 802.3,615.6 803.9,614.0 805.6,614.7 807.3,611.7 808.9,612.8 810.6,616.1 812.3,627.3 813.9,631.6 815.6,628.2 817.3,622.5 818.9,623.0 820.6,627.0 822.3,630.2 823.9,629.4 825.6,622.7 827.3,628.0 828.9,622.1 830.6,637.8 832.3,640.2" fill="none" stroke="#000" stroke-width="7.2" stroke-linejoin="round" />
<polyline points="828.9,622.1 830.6,637.8 832.3,640.2 833.9,634.1 835.6,628.0 837.3,631.3 838.9,633.2 840.6,628.9 842.3,624.5 843.9,627.5 845.6,629.2 847.3,630.8 848.9,625.8 850.6,638.0 852.3,637.0 853.9,636.6 855.6,638.6 857.3,638.9 858.9,641.9 860.6,642.6 862.3,637.4 863.9,639.8 865.6,628.4 867.3,637.1 868.9,646.6 870.6,644.9 872.3,643.4 873.9,636.7 875.6,636.0 877.3,640.5 878.9,644.2 880.6,641.4 882.3,644.4 883.9,651.8 885.6,655.3 887.3,654.2 888.9,653.5 890.6,653.3 892.2,647.5 893.9,648.6 895.6,648.0 897.2,653.3 898.9,650.9 900.6,656.1 902.2,656.8 903.9,656.2 905.6,650.3 907.2,649.8 908.9,653.9 910.6,650.6 912.2,647.1 913.9,646.3 915.6,644.3 917.2,645.3 918.9,648.8 920.6,653.8 922.2,647.5 923.9,640.7 925.6,634.7 927.2,638.4 928.9,643.8 930.6,645.4 932.2,645.5 933.9,643.6 935.6,642.6 937.2,643.7 938.9,648.5 940.6,650.8 942.2,642.3 943.9,630.9 945.6,629.7 947.2,638.9 948.9,655.8 950.6,657.5 952.2,654.6 953.9,650.6 955.6,649.8 957.2,653.2 958.9,652.9 960.6,653.6 962.2,652.0 963.9,649.7 965.6,643.9 967.2,644.1 968.9,655.1 970.6,656.8 972.2,649.4 973.9,649.4 975.6,654.1 977.2,653.2 978.9,649.0 980.6,636.8 982.2,641.8 983.9,635.3 985.6,631.5 987.2,630.8 988.9,634.1 990.6,633.7 992.2,633.2 993.9,642.5 995.6,646.6 997.2,646.4 998.9,636.6 1000.5,637.5 1002.2,637.6 1003.9,641.9 1005.5,636.0 1007.2,635.6 1008.9,628.9 1010.5,645.5 1012.2,647.0 1013.9,646.3 1015.5,646.7 1017.2,644.1 1018.9,643.3" fill="none" stroke="#000" stroke-width="4.0" stroke-linejoin="round" />
<polyline points="524.0,415.7 525.7,426.6 527.4,436.3 529.0,434.6 530.7,426.8 532.4,433.1 534.0,419.1 535.7,418.4 537.4,421.1 539.0,422.3 540.7,413.3 542.4,411.9 544.0,413.3 545.7,410.6 547.4,403.4 549.0,401.4 550.7,402.1 552.4,397.6 554.0,397.6 555.7,401.7 557.3,398.7 559.0,392.0 560.7,392.7 562.3,389.2 564.0,385.7 565.7,391.8 567.3,391.6 569.0,382.9 570.7,383.2 572.3,380.8 574.0,377.8 575.7,362.1 577.3,373.6 579.0,370.5 580.7,369.9 582.3,374.0 584.0,377.1 585.7,371.7 587.3,375.3 589.0,386.5 590.7,392.3 592.3,382.2 594.0,384.2 595.7,392.2 597.3,393.4 599.0,396.2 600.7,402.7 602.3,407.3 604.0,403.7 605.7,404.0 607.3,410.4 609.0,408.6 610.7,416.0 612.3,423.3 614.0,420.3 615.7,426.6 617.3,431.2 619.0,426.8 620.7,429.7 622.3,438.6 624.0,439.5 625.7,440.0 627.3,449.5 629.0,445.8 630.7,451.8 632.3,450.0 634.0,455.7 635.7,451.6 637.3,465.5 639.0,449.3 640.7,470.2 642.3,455.3 644.0,465.8 645.7,471.9 647.3,458.9 649.0,475.7 650.7,476.5 652.3,486.2 654.0,485.7 655.7,488.4 657.3,486.1 659.0,490.3 660.7,490.0 662.3,500.6 664.0,504.4 665.7,516.3 667.3,506.5 669.0,515.0 670.6,516.1 672.3,501.6 674.0,513.2 675.6,516.0 677.3,512.9 679.0,511.8 680.6,512.0 682.3,505.3 684.0,508.3 685.6,500.8 687.3,505.3 689.0,505.6 690.6,520.4 692.3,517.1 694.0,513.5 695.6,518.8 697.3,519.5 699.0,520.8 700.6,518.6 702.3,523.8 704.0,526.5 705.6,530.0 707.3,525.0 709.0,525.1 710.6,529.3 712.3,534.4 714.0,535.3 715.6,527.4 717.3,534.0 719.0,539.2 720.6,540.3 722.3,542.0 724.0,542.6 725.6,544.8 727.3,561.6 729.0,556.9 730.6,553.7 732.3,556.4 734.0,563.2 735.6,559.2 737.3,564.9 739.0,566.1 740.6,573.1 742.3,564.3 744.0,563.7 745.6,573.0 747.3,570.6 749.0,580.0 750.6,579.7 752.3,587.6 754.0,586.2 755.6,582.2 757.3,591.9 759.0,580.3 760.6,582.3 762.3,590.2 764.0,586.1 765.6,597.0 767.3,599.2 769.0,604.1 770.6,594.4 772.3,599.4 774.0,587.5 775.6,592.2 777.3,599.6 778.9,601.9 780.6,600.5 782.3,611.8 783.9,603.7 785.6,596.0 787.3,608.6 788.9,612.9 790.6,606.1 792.3,613.1 793.9,610.7 795.6,612.9 797.3,615.9 798.9,614.3 800.6,617.6 802.3,610.4 803.9,625.4 805.6,609.3 807.3,621.3 808.9,607.7 810.6,621.3 812.3,623.3 813.9,616.4 815.6,629.7 817.3,635.7 818.9,634.9 820.6,625.4 822.3,629.6 823.9,621.2 825.6,631.1 827.3,633.8 828.9,615.4 830.6,626.9 832.3,640.1 833.9,628.4 835.6,636.7 837.3,630.3 838.9,627.8 840.6,637.4 842.3,650.2 843.9,634.8 845.6,634.7 847.3,642.5 848.9,647.5 850.6,646.5 852.3,649.9 853.9,647.1 855.6,644.3 857.3,639.0 858.9,641.4 860.6,643.8 862.3,643.9 863.9,643.0 865.6,638.3 867.3,638.6 868.9,644.9 870.6,645.3 872.3,644.7 873.9,650.1 875.6,662.4 877.3,633.9 878.9,638.9 880.6,642.6 882.3,640.9 883.9,644.5 885.6,641.3 887.3,646.2 888.9,658.2 890.6,653.2 892.2,643.7 893.9,637.7 895.6,653.1 897.2,638.5 898.9,647.3 900.6,657.0 902.2,646.4 903.9,650.1 905.6,634.2 907.2,645.3 908.9,645.3 910.6,637.3 912.2,638.1 913.9,648.8 915.6,651.3 917.2,647.1 918.9,642.2 920.6,647.9 922.2,647.0 923.9,639.3 925.6,637.2 927.2,648.4 928.9,652.7 930.6,651.3 932.2,650.7 933.9,642.7 935.6,648.0 937.2,651.3 938.9,642.3 940.6,641.1 942.2,655.0 943.9,638.9 945.6,643.0 947.2,650.6 948.9,650.0 950.6,647.1 952.2,644.6 953.9,644.5 955.6,649.5 957.2,643.9 958.9,654.7 960.6,658.7 962.2,634.4 963.9,650.2 965.6,651.8 967.2,642.8 968.9,656.3 970.6,641.3 972.2,649.5 973.9,652.0 975.6,654.7 977.2,652.8 978.9,660.4 980.6,642.2 982.2,644.1 983.9,643.1 985.6,644.0 987.2,644.1 988.9,639.9 990.6,651.7 992.2,636.2 993.9,645.4 995.6,645.9 997.2,650.1 998.9,657.1 1000.5,643.8 1002.2,645.7 1003.9,647.0 1005.5,650.7 1007.2,661.6 1008.9,649.4 1010.5,647.8 1012.2,642.9 1013.9,637.7 1015.5,653.5 1017.2,659.1 1018.9,638.0" fill="none" stroke="#000" stroke-width="2.6" stroke-linejoin="round"  stroke-opacity="0.75"/>
</g>
<rect x="165.8" y="23.5" width="999.7" height="738.5" fill="none" stroke="#2b2b2b" stroke-width="4"/>
<path d="M249.1 762.0V753.0M332.4 762.0V746.0M415.7 762.0V753.0M499.0 762.0V746.0M582.3 762.0V753.0M665.7 762.0V746.0M749.0 762.0V753.0M832.3 762.0V746.0M915.6 762.0V753.0M998.9 762.0V746.0M1082.2 762.0V753.0M165.8 669.7H174.8M165.8 577.4H181.8M165.8 485.1H174.8M165.8 392.8H181.8M165.8 300.4H174.8M165.8 208.1H181.8M165.8 115.8H174.8" stroke="#2b2b2b" stroke-width="3.2" fill="none"/>
<g font-family="Liberation Serif" font-weight="bold" font-size="39" fill="#111">
<text x="165.8" y="810" text-anchor="middle">0</text>
<text x="332.4" y="810" text-anchor="middle">200</text>
<text x="499.0" y="810" text-anchor="middle">400</text>
<text x="665.7" y="810" text-anchor="middle">600</text>
<text x="832.3" y="810" text-anchor="middle">800</text>
<text x="998.9" y="810" text-anchor="middle">1000</text>
<text x="1165.5" y="810" text-anchor="middle">1200</text>
<text x="149" y="773.8" text-anchor="end">0</text>
<text x="149" y="589.2" text-anchor="end">100</text>
<text x="149" y="404.6" text-anchor="end">200</text>
<text x="149" y="219.9" text-anchor="end">300</text>
<text x="149" y="35.3" text-anchor="end">400</text>
</g>
<text x="666.5" y="871.5" text-anchor="middle" font-family="Liberation Serif" font-weight="bold" font-size="52.5" fill="#111">Wavelength (nm)</text>
<text transform="translate(42.5,399.5) rotate(-90)" text-anchor="middle" font-family="Liberation Serif" font-weight="bold" font-size="52.5" fill="#111">Intensity</text>
<text x="1.5" y="871" font-family="Liberation Sans" font-size="45" fill="#222">(a)</text>
<rect x="222.2" y="89.1" width="245.6" height="187.1" fill="none" stroke="#2b2b2b" stroke-width="4"/>
<g font-family="Liberation Serif" font-weight="bold" font-size="46" fill="#111">
<text x="276" y="138"><tspan>20BCl</tspan><tspan font-size="26" y="156.5">3</tspan></text>
<text x="345.5" y="201" text-anchor="middle">100W RIE</text>
<text x="343.8" y="259" text-anchor="middle">7.5 mTorr</text>
</g>
<g font-family="Liberation Serif" font-weight="bold" font-size="46" fill="#111" text-anchor="middle">
<line x1="766.5" y1="79.3" x2="886.5" y2="79.3" stroke="#6a6a6a" stroke-width="3.2"/>
<text x="1012.5" y="95.0">0W ICP</text>
<line x1="766.5" y1="136.4" x2="886.5" y2="136.4" stroke="#2a2a2a" stroke-width="4.4"/>
<text x="1012.5" y="152.5">100W ICP</text>
<line x1="766.5" y1="193.0" x2="886.5" y2="193.0" stroke="#333" stroke-width="4.6"/>
<text x="1012.5" y="210.0">300W ICP</text>
<line x1="766.5" y1="251.6" x2="886.5" y2="251.6" stroke="#7a7a7a" stroke-width="4.8"/>
<text x="1012.5" y="266.0">500W ICP</text>
</g>
<g font-family="Liberation Serif" font-weight="bold" font-size="36.5" fill="#111">
<text x="552.5" y="75.5">500W ICP</text>
<text x="735.5" y="364.5">300W ICP</text>
<text x="590" y="595">0W ICP</text>
<text x="475" y="714.5">100W ICP</text>
</g>
<g stroke="#111" stroke-width="2.8" fill="none">
<path d="M627 80L598 121"/>
<path d="M728.6 358.8L637.5 451.5"/>
<path d="M657 602.6V631.4"/>
<path d="M585.5 679.7L568.2 656.7"/>
</g>
<g stroke-linecap="round" stroke-linejoin="round">
<polygon points="173.2,1532.9 174.9,1532.9 176.5,1532.8 178.2,1532.8 179.8,1532.8 181.5,1532.8 183.1,1532.7 184.8,1532.7 186.4,1532.7 188.1,1532.7 189.8,1532.6 191.4,1532.6 193.1,1532.6 194.7,1532.6 196.4,1532.5 198.0,1532.5 199.7,1532.5 201.4,1532.5 203.0,1532.4 204.7,1532.4 206.3,1532.4 208.0,1532.4 209.6,1532.4 211.3,1532.3 212.9,1532.3 214.6,1532.3 216.3,1532.3 217.9,1532.2 219.6,1532.2 221.2,1532.2 222.9,1532.2 224.5,1532.1 226.2,1532.1 227.8,1532.1 229.5,1532.1 231.2,1532.0 232.8,1532.0 234.5,1532.0 236.1,1532.0 237.8,1531.9 239.4,1531.9 241.1,1531.9 242.8,1531.9 244.4,1531.8 246.1,1531.8 247.7,1531.8 249.4,1531.8 251.0,1531.7 252.7,1531.7 254.3,1531.7 256.0,1531.7 257.7,1531.6 259.3,1531.6 261.0,1531.6 262.6,1531.6 264.3,1531.5 265.9,1531.5 267.6,1531.5 269.2,1531.5 270.9,1531.4 272.6,1531.4 274.2,1531.4 275.9,1531.4 277.5,1531.3 279.2,1531.3 280.8,1531.3 282.5,1531.3 284.2,1531.2 285.8,1531.2 287.5,1531.2 289.1,1531.2 290.8,1531.1 292.4,1531.1 294.1,1531.1 295.7,1531.1 297.4,1531.0 299.1,1531.0 300.7,1531.0 302.4,1531.0 304.0,1530.9 305.7,1530.9 307.3,1530.9 309.0,1530.9 310.6,1530.8 312.3,1530.8 314.0,1530.8 315.6,1530.8 317.3,1530.7 318.9,1530.7 320.6,1530.7 322.2,1530.7 323.9,1530.5 325.6,1530.4 327.2,1530.3 328.9,1530.2 330.5,1530.0 332.2,1529.9 333.8,1529.8 335.5,1529.7 337.1,1529.6 338.8,1529.4 340.5,1529.3 342.1,1529.2 343.8,1529.1 345.4,1528.9 347.1,1528.8 348.7,1528.7 350.4,1528.6 352.0,1528.4 353.7,1528.3 355.4,1528.2 357.0,1528.1 358.7,1527.9 360.3,1527.8 362.0,1527.7 363.6,1527.6 365.3,1527.4 367.0,1527.3 368.6,1527.2 370.3,1527.1 371.9,1526.9 373.6,1526.8 375.2,1526.7 376.9,1526.6 378.5,1526.5 380.2,1526.3 381.9,1526.2 383.5,1526.1 385.2,1526.0 386.8,1525.8 388.5,1525.7 390.1,1525.5 391.8,1525.4 393.4,1525.2 395.1,1525.1 396.8,1524.9 398.4,1524.8 400.1,1524.6 401.7,1524.5 403.4,1524.3 405.0,1524.1 406.7,1524.0 408.4,1523.8 410.0,1523.7 411.7,1523.5 413.3,1523.4 415.0,1523.2 416.6,1523.1 418.3,1522.9 419.9,1522.8 421.6,1522.6 423.3,1522.5 424.9,1522.3 426.6,1522.2 428.2,1522.0 429.9,1521.9 431.5,1521.7 433.2,1521.6 434.8,1521.4 436.5,1521.3 438.2,1521.1 439.8,1521.0 441.5,1520.8 443.1,1520.7 444.8,1520.5 446.4,1520.4 448.1,1520.2 449.8,1520.1 451.4,1519.9 453.1,1519.3 454.7,1518.7 456.4,1518.1 458.0,1517.5 459.7,1516.9 461.3,1516.3 463.0,1515.7 464.7,1515.1 466.3,1514.5 468.0,1513.8 469.6,1513.2 471.3,1512.6 472.9,1512.0 474.6,1511.4 476.2,1510.8 477.9,1510.2 479.6,1509.6 481.2,1509.0 482.9,1508.4 484.5,1507.8 486.2,1507.1 487.8,1506.4 489.5,1505.8 491.2,1505.1 492.8,1504.4 494.5,1503.8 496.1,1503.1 497.8,1502.4 499.4,1501.7 501.1,1501.1 502.7,1500.4 504.4,1499.7 506.1,1499.0 507.7,1498.4 509.4,1497.7 511.0,1497.0 512.7,1496.3 514.3,1495.7 516.0,1495.0 517.6,1494.3 519.3,1493.5 521.0,1492.7 522.6,1491.9 524.3,1491.1 525.9,1490.3 527.6,1489.5 529.2,1488.7 530.9,1487.9 532.6,1487.1 534.2,1486.4 535.9,1485.6 537.5,1484.8 539.2,1484.4 540.8,1483.9 542.5,1483.5 544.1,1483.1 545.8,1482.7 547.5,1482.3 549.1,1481.9 550.8,1481.5 552.4,1481.1 554.1,1480.6 555.7,1480.2 557.4,1479.8 559.0,1479.4 560.7,1479.0 562.4,1478.6 564.0,1477.9 565.7,1477.3 567.3,1476.6 569.0,1476.0 570.6,1475.3 572.3,1474.6 574.0,1473.9 575.6,1473.1 577.3,1472.4 578.9,1471.7 580.6,1470.9 582.2,1470.2 583.9,1469.5 585.5,1468.8 587.2,1468.0 588.9,1469.8 590.5,1471.5 592.2,1473.2 593.8,1474.9 595.5,1476.6 597.1,1478.3 598.8,1480.0 600.4,1481.7 602.1,1483.4 603.8,1485.0 605.4,1485.3 607.1,1485.6 608.7,1485.9 610.4,1486.2 612.0,1486.5 613.7,1486.8 615.4,1487.1 617.0,1487.3 618.7,1487.6 620.3,1487.9 622.0,1488.2 623.6,1488.5 625.3,1488.8 626.9,1489.1 628.6,1489.4 630.3,1489.6 631.9,1489.9 633.6,1490.2 635.2,1490.5 636.9,1490.8 638.5,1491.1 640.2,1491.5 641.8,1491.9 643.5,1492.1 645.2,1492.3 646.8,1492.4 648.5,1492.5 650.1,1492.7 651.8,1492.8 653.4,1492.9 655.1,1493.1 656.8,1493.2 658.4,1493.3 660.1,1493.5 661.7,1493.6 663.4,1493.7 665.0,1493.9 666.7,1494.0 668.3,1494.1 670.0,1494.3 671.7,1494.4 673.3,1494.6 675.0,1494.7 676.6,1494.8 678.3,1495.0 679.9,1495.1 681.6,1495.2 683.2,1495.4 684.9,1495.5 686.6,1495.6 688.2,1495.9 689.9,1496.1 691.5,1496.4 693.2,1496.6 694.8,1496.8 696.5,1497.1 698.2,1497.3 699.8,1497.6 701.5,1497.8 703.1,1498.0 704.8,1498.3 706.4,1498.5 708.1,1498.8 709.7,1499.0 711.4,1499.3 713.1,1499.5 714.7,1499.8 716.4,1500.1 718.0,1500.4 719.7,1500.7 721.3,1501.0 723.0,1501.3 724.6,1501.6 726.3,1501.9 728.0,1502.2 729.6,1502.4 731.3,1502.7 732.9,1503.0 734.6,1503.3 736.2,1503.6 737.9,1503.9 739.6,1504.2 741.2,1504.5 742.9,1504.8 744.5,1505.0 746.2,1505.3 747.8,1505.6 749.5,1505.9 751.1,1506.2 752.8,1506.5 754.5,1506.7 756.1,1507.0 757.8,1507.2 759.4,1507.5 761.1,1507.7 762.7,1508.0 764.4,1508.2 766.0,1508.5 767.7,1508.8 769.4,1509.0 771.0,1509.3 772.7,1509.5 774.3,1509.8 776.0,1510.0 777.6,1510.3 779.3,1510.5 781.0,1510.8 782.6,1511.0 784.3,1511.3 785.9,1511.5 787.6,1511.8 789.2,1512.0 790.9,1512.3 792.5,1512.5 794.2,1512.8 795.9,1513.0 797.5,1513.3 799.2,1513.5 800.8,1513.8 802.5,1514.0 804.1,1514.3 805.8,1514.5 807.4,1514.8 809.1,1515.0 810.8,1515.3 812.4,1515.5 814.1,1515.8 815.7,1516.0 817.4,1516.2 819.0,1516.4 820.7,1516.5 822.4,1516.6 824.0,1516.8 825.7,1516.9 827.3,1517.1 829.0,1517.2 830.6,1517.3 832.3,1517.5 833.9,1517.6 835.6,1517.8 837.3,1517.9 838.9,1518.0 840.6,1518.2 842.2,1518.3 843.9,1518.5 845.5,1518.6 847.2,1518.7 848.8,1518.9 850.5,1519.0 852.2,1519.2 853.8,1519.3 855.5,1519.5 857.1,1519.6 858.8,1519.7 860.4,1519.9 862.1,1520.0 863.8,1520.2 865.4,1520.3 867.1,1520.4 868.7,1520.6 870.4,1520.7 872.0,1520.9 873.7,1521.0 875.3,1521.1 877.0,1521.3 878.7,1521.4 880.3,1521.6 882.0,1521.7 883.6,1521.8 885.3,1522.0 886.9,1522.1 888.6,1522.3 890.2,1522.4 891.9,1522.5 893.6,1522.7 895.2,1522.8 896.9,1523.0 898.5,1523.1 900.2,1523.3 901.8,1523.4 903.5,1523.5 905.2,1523.7 906.8,1523.8 908.5,1524.0 910.1,1524.1 911.8,1524.2 913.4,1524.4 915.1,1524.5 916.7,1524.6 918.4,1524.6 920.1,1524.7 921.7,1524.7 923.4,1524.8 925.0,1524.9 926.7,1524.9 928.3,1525.0 930.0,1525.0 931.6,1525.1 933.3,1525.1 935.0,1525.2 936.6,1525.2 938.3,1525.3 939.9,1525.3 941.6,1525.4 943.2,1525.5 944.9,1525.5 946.6,1525.6 948.2,1525.6 949.9,1525.7 951.5,1525.7 953.2,1525.8 954.8,1525.8 956.5,1525.9 958.1,1525.9 959.8,1526.0 961.5,1526.1 963.1,1526.1 964.8,1526.2 966.4,1526.2 968.1,1526.3 969.7,1526.3 971.4,1526.4 973.0,1526.4 974.7,1526.5 976.4,1526.6 978.0,1526.6 979.7,1526.7 981.3,1526.7 983.0,1526.8 984.6,1526.8 986.3,1526.9 988.0,1526.9 989.6,1527.0 991.3,1527.0 992.9,1527.1 994.6,1527.2 996.2,1527.2 997.9,1527.3 999.5,1527.3 1001.2,1527.4 1002.9,1527.4 1004.5,1527.5 1006.2,1527.5 1007.8,1527.6 1009.5,1527.6 1011.1,1527.7 1012.8,1527.8 1014.4,1527.8 1016.1,1527.9 1017.8,1527.9 1019.4,1528.0 1021.1,1528.0 1021.1,1540.0 1019.4,1540.0 1017.8,1539.9 1016.1,1539.9 1014.4,1539.8 1012.8,1539.7 1011.1,1539.7 1009.5,1539.6 1007.8,1539.6 1006.2,1539.5 1004.5,1539.4 1002.9,1539.4 1001.2,1539.3 999.5,1539.3 997.9,1539.2 996.2,1539.1 994.6,1539.1 992.9,1539.0 991.3,1539.0 989.6,1538.9 988.0,1538.8 986.3,1538.8 984.6,1538.7 983.0,1538.7 981.3,1538.6 979.7,1538.6 978.0,1538.5 976.4,1538.4 974.7,1538.4 973.0,1538.3 971.4,1538.3 969.7,1538.2 968.1,1538.1 966.4,1538.1 964.8,1538.0 963.1,1538.0 961.5,1537.9 959.8,1537.8 958.1,1537.8 956.5,1537.7 954.8,1537.7 953.2,1537.6 951.5,1537.5 949.9,1537.5 948.2,1537.4 946.6,1537.4 944.9,1537.3 943.2,1537.3 941.6,1537.2 939.9,1537.1 938.3,1537.1 936.6,1537.0 935.0,1537.0 933.3,1536.9 931.6,1536.8 930.0,1536.8 928.3,1536.7 926.7,1536.7 925.0,1536.6 923.4,1536.5 921.7,1536.5 920.1,1536.4 918.4,1536.4 916.7,1536.3 915.1,1536.2 913.4,1536.1 911.8,1536.0 910.1,1535.8 908.5,1535.7 906.8,1535.5 905.2,1535.4 903.5,1535.2 901.8,1535.1 900.2,1534.9 898.5,1534.8 896.9,1534.6 895.2,1534.5 893.6,1534.4 891.9,1534.2 890.2,1534.1 888.6,1533.9 886.9,1533.8 885.3,1533.6 883.6,1533.5 882.0,1533.3 880.3,1533.2 878.7,1533.1 877.0,1532.9 875.3,1532.8 873.7,1532.6 872.0,1532.5 870.4,1532.3 868.7,1532.2 867.1,1532.0 865.4,1531.9 863.8,1531.7 862.1,1531.6 860.4,1531.5 858.8,1531.3 857.1,1531.2 855.5,1531.0 853.8,1530.9 852.2,1530.7 850.5,1530.6 848.8,1530.4 847.2,1530.3 845.5,1530.1 843.9,1530.0 842.2,1529.9 840.6,1529.7 838.9,1529.6 837.3,1529.4 835.6,1529.3 833.9,1529.1 832.3,1529.0 830.6,1528.8 829.0,1528.7 827.3,1528.6 825.7,1528.4 824.0,1528.3 822.4,1528.1 820.7,1528.0 819.0,1527.8 817.4,1527.7 815.7,1527.5 814.1,1527.2 812.4,1527.0 810.8,1526.7 809.1,1526.5 807.4,1526.2 805.8,1526.0 804.1,1525.7 802.5,1525.4 800.8,1525.2 799.2,1524.9 797.5,1524.7 795.9,1524.4 794.2,1524.2 792.5,1523.9 790.9,1523.7 789.2,1523.4 787.6,1523.1 785.9,1522.9 784.3,1522.6 782.6,1522.4 781.0,1522.1 779.3,1521.9 777.6,1521.6 776.0,1521.4 774.3,1521.1 772.7,1520.9 771.0,1520.6 769.4,1520.3 767.7,1520.1 766.0,1519.8 764.4,1519.6 762.7,1519.3 761.1,1519.1 759.4,1518.8 757.8,1518.6 756.1,1518.3 754.5,1518.1 752.8,1517.8 751.1,1517.5 749.5,1517.2 747.8,1516.9 746.2,1516.6 744.5,1516.3 742.9,1516.0 741.2,1515.7 739.6,1515.4 737.9,1515.2 736.2,1514.9 734.6,1514.6 732.9,1514.3 731.3,1514.0 729.6,1513.7 728.0,1513.4 726.3,1513.1 724.6,1512.8 723.0,1512.5 721.3,1512.2 719.7,1511.9 718.0,1511.6 716.4,1511.3 714.7,1511.0 713.1,1510.7 711.4,1510.4 709.7,1510.2 708.1,1510.0 706.4,1509.7 704.8,1509.5 703.1,1509.2 701.5,1509.0 699.8,1508.7 698.2,1508.5 696.5,1508.2 694.8,1508.0 693.2,1507.8 691.5,1507.5 689.9,1507.3 688.2,1507.0 686.6,1506.8 684.9,1506.6 683.2,1506.5 681.6,1506.3 679.9,1506.2 678.3,1506.1 676.6,1505.9 675.0,1505.8 673.3,1505.7 671.7,1505.5 670.0,1505.4 668.3,1505.2 666.7,1505.1 665.0,1505.0 663.4,1504.8 661.7,1504.7 660.1,1504.5 658.4,1504.4 656.8,1504.3 655.1,1504.1 653.4,1504.0 651.8,1503.8 650.1,1503.7 648.5,1503.6 646.8,1503.4 645.2,1503.3 643.5,1503.1 641.8,1502.9 640.2,1502.5 638.5,1502.2 636.9,1501.8 635.2,1501.4 633.6,1500.9 631.9,1500.5 630.3,1500.0 628.6,1499.6 626.9,1499.2 625.3,1498.7 623.6,1498.3 622.0,1497.9 620.3,1497.4 618.7,1497.0 617.0,1496.5 615.4,1496.1 613.7,1495.7 612.0,1495.2 610.4,1494.8 608.7,1494.4 607.1,1493.9 605.4,1493.5 603.8,1493.0 602.1,1491.4 600.4,1489.7 598.8,1488.0 597.1,1486.3 595.5,1484.6 593.8,1482.9 592.2,1481.2 590.5,1479.5 588.9,1477.8 587.2,1476.0 585.5,1476.8 583.9,1477.5 582.2,1478.2 580.6,1478.9 578.9,1479.7 577.3,1480.4 575.6,1481.1 574.0,1481.9 572.3,1482.6 570.6,1483.3 569.0,1484.1 567.3,1484.9 565.7,1485.7 564.0,1486.5 562.4,1487.3 560.7,1487.9 559.0,1488.5 557.4,1489.0 555.7,1489.6 554.1,1490.1 552.4,1490.7 550.8,1491.3 549.1,1491.8 547.5,1492.4 545.8,1493.0 544.1,1493.5 542.5,1494.1 540.8,1494.6 539.2,1495.2 537.5,1495.8 535.9,1496.6 534.2,1497.4 532.6,1498.2 530.9,1499.0 529.2,1499.8 527.6,1500.6 525.9,1501.4 524.3,1502.2 522.6,1503.0 521.0,1503.8 519.3,1504.6 517.6,1505.4 516.0,1506.1 514.3,1506.7 512.7,1507.4 511.0,1508.1 509.4,1508.8 507.7,1509.4 506.1,1510.1 504.4,1510.8 502.7,1511.5 501.1,1512.2 499.4,1512.8 497.8,1513.5 496.1,1514.2 494.5,1514.9 492.8,1515.5 491.2,1516.2 489.5,1516.9 487.8,1517.6 486.2,1518.3 484.5,1518.9 482.9,1519.5 481.2,1520.2 479.6,1520.8 477.9,1521.4 476.2,1522.0 474.6,1522.6 472.9,1523.2 471.3,1523.8 469.6,1524.4 468.0,1525.0 466.3,1525.6 464.7,1526.3 463.0,1526.9 461.3,1527.5 459.7,1528.1 458.0,1528.7 456.4,1529.3 454.7,1529.9 453.1,1530.5 451.4,1531.1 449.8,1531.3 448.1,1531.5 446.4,1531.6 444.8,1531.8 443.1,1531.9 441.5,1532.1 439.8,1532.2 438.2,1532.4 436.5,1532.5 434.8,1532.7 433.2,1532.9 431.5,1533.0 429.9,1533.2 428.2,1533.3 426.6,1533.5 424.9,1533.6 423.3,1533.8 421.6,1534.0 419.9,1534.1 418.3,1534.3 416.6,1534.4 415.0,1534.6 413.3,1534.7 411.7,1534.9 410.0,1535.0 408.4,1535.2 406.7,1535.4 405.0,1535.5 403.4,1535.7 401.7,1535.8 400.1,1536.0 398.4,1536.1 396.8,1536.3 395.1,1536.4 393.4,1536.6 391.8,1536.8 390.1,1536.9 388.5,1537.1 386.8,1537.2 385.2,1537.4 383.5,1537.5 381.9,1537.6 380.2,1537.8 378.5,1537.9 376.9,1538.0 375.2,1538.1 373.6,1538.3 371.9,1538.4 370.3,1538.5 368.6,1538.7 367.0,1538.8 365.3,1538.9 363.6,1539.0 362.0,1539.2 360.3,1539.3 358.7,1539.4 357.0,1539.6 355.4,1539.7 353.7,1539.8 352.0,1539.9 350.4,1540.1 348.7,1540.2 347.1,1540.3 345.4,1540.5 343.8,1540.6 342.1,1540.7 340.5,1540.8 338.8,1541.0 337.1,1541.1 335.5,1541.2 333.8,1541.4 332.2,1541.5 330.5,1541.6 328.9,1541.7 327.2,1541.9 325.6,1542.0 323.9,1542.1 322.2,1542.3 320.6,1542.3 318.9,1542.3 317.3,1542.3 315.6,1542.4 314.0,1542.4 312.3,1542.4 310.6,1542.5 309.0,1542.5 307.3,1542.5 305.7,1542.6 304.0,1542.6 302.4,1542.6 300.7,1542.6 299.1,1542.7 297.4,1542.7 295.7,1542.7 294.1,1542.8 292.4,1542.8 290.8,1542.8 289.1,1542.8 287.5,1542.9 285.8,1542.9 284.2,1542.9 282.5,1543.0 280.8,1543.0 279.2,1543.0 277.5,1543.0 275.9,1543.1 274.2,1543.1 272.6,1543.1 270.9,1543.2 269.2,1543.2 267.6,1543.2 265.9,1543.3 264.3,1543.3 262.6,1543.3 261.0,1543.3 259.3,1543.4 257.7,1543.4 256.0,1543.4 254.3,1543.5 252.7,1543.5 251.0,1543.5 249.4,1543.5 247.7,1543.6 246.1,1543.6 244.4,1543.6 242.8,1543.7 241.1,1543.7 239.4,1543.7 237.8,1543.8 236.1,1543.8 234.5,1543.8 232.8,1543.8 231.2,1543.9 229.5,1543.9 227.8,1543.9 226.2,1544.0 224.5,1544.0 222.9,1544.0 221.2,1544.0 219.6,1544.1 217.9,1544.1 216.3,1544.1 214.6,1544.2 212.9,1544.2 211.3,1544.2 209.6,1544.3 208.0,1544.3 206.3,1544.3 204.7,1544.3 203.0,1544.4 201.4,1544.4 199.7,1544.4 198.0,1544.5 196.4,1544.5 194.7,1544.5 193.1,1544.5 191.4,1544.6 189.8,1544.6 188.1,1544.6 186.4,1544.7 184.8,1544.7 183.1,1544.7 181.5,1544.7 179.8,1544.8 178.2,1544.8 176.5,1544.8 174.9,1544.9 173.2,1544.9" fill="#505050" fill-opacity="1.0"/>
<polyline points="173.2,1532.6 174.9,1547.7 176.5,1553.0 178.2,1565.1 179.8,1542.0 181.5,1527.5 183.1,1538.4 184.8,1534.1 186.4,1529.5 188.1,1546.6 189.8,1514.8 191.4,1546.5 193.1,1535.2 194.7,1514.0 196.4,1539.5 198.0,1537.5 199.7,1543.1 201.4,1535.4 203.0,1557.5 204.7,1544.2 206.3,1523.2 208.0,1536.4 209.6,1540.5 211.3,1534.9 212.9,1534.5 214.6,1536.9 216.3,1533.0 217.9,1553.0 219.6,1532.9 221.2,1544.1 222.9,1531.1 224.5,1538.2 226.2,1546.9 227.8,1538.6 229.5,1547.0 231.2,1528.9 232.8,1538.2 234.5,1530.3 236.1,1547.8 237.8,1523.4 239.4,1540.5 241.1,1525.6 242.8,1530.2 244.4,1547.5 246.1,1534.8 247.7,1542.5 249.4,1534.0 251.0,1524.9 252.7,1531.5 254.3,1528.1 256.0,1548.0 257.7,1535.7 259.3,1534.3 261.0,1527.8 262.6,1542.9 264.3,1532.4 265.9,1533.6 267.6,1550.9 269.2,1546.5 270.9,1533.4 272.6,1547.7 274.2,1548.1 275.9,1529.3 277.5,1534.7 279.2,1539.2 280.8,1536.2 282.5,1540.7 284.2,1541.8 285.8,1541.1 287.5,1533.6 289.1,1525.3 290.8,1541.1 292.4,1537.6 294.1,1538.9 295.7,1548.0 297.4,1534.6 299.1,1529.2 300.7,1544.3 302.4,1529.4 304.0,1541.8 305.7,1526.6 307.3,1526.0 309.0,1540.1 310.6,1554.3 312.3,1539.7 314.0,1548.9 315.6,1548.2 317.3,1538.8 318.9,1524.5 320.6,1537.3 322.2,1538.4 323.9,1552.6 325.6,1541.5 327.2,1548.3 328.9,1531.4 330.5,1540.5 332.2,1536.1 333.8,1535.7 335.5,1537.1 337.1,1527.0 338.8,1530.9 340.5,1537.9 342.1,1533.6 343.8,1530.0 345.4,1522.7 347.1,1533.4 348.7,1521.8 350.4,1539.5 352.0,1536.2 353.7,1547.1 355.4,1526.7 357.0,1542.8 358.7,1542.7 360.3,1526.2 362.0,1538.1 363.6,1539.9 365.3,1524.8 367.0,1534.7 368.6,1524.9 370.3,1536.3 371.9,1526.3 373.6,1523.1 375.2,1531.7 376.9,1516.6 378.5,1535.6 380.2,1533.9 381.9,1531.2 383.5,1523.0 385.2,1534.2 386.8,1535.3 388.5,1529.2 390.1,1520.3 391.8,1534.7 393.4,1542.0 395.1,1531.9 396.8,1525.2 398.4,1535.2 400.1,1529.2 401.7,1546.4 403.4,1529.8 405.0,1528.9 406.7,1524.3 408.4,1526.8 410.0,1522.7 411.7,1537.8 413.3,1523.3 415.0,1543.2 416.6,1533.9 418.3,1519.0 419.9,1521.1 421.6,1544.3 423.3,1523.0 424.9,1531.7 426.6,1534.6 428.2,1525.9 429.9,1526.4 431.5,1515.3 433.2,1539.7 434.8,1530.8 436.5,1528.1 438.2,1542.7 439.8,1516.5 441.5,1511.3 443.1,1531.7 444.8,1522.8 446.4,1528.3 448.1,1523.5 449.8,1531.5 451.4,1518.3 453.1,1535.0 454.7,1512.6 456.4,1520.6 458.0,1502.2 459.7,1536.7 461.3,1522.7 463.0,1532.3 464.7,1521.9 466.3,1516.3 468.0,1527.4 469.6,1531.2 471.3,1533.1 472.9,1515.7 474.6,1506.0 476.2,1506.3 477.9,1515.5 479.6,1523.4 481.2,1517.7 482.9,1526.9 484.5,1526.9 486.2,1503.5 487.8,1514.4 489.5,1508.6 491.2,1513.0 492.8,1498.6 494.5,1497.0 496.1,1515.3 497.8,1511.1 499.4,1513.1 501.1,1495.3 502.7,1495.3 504.4,1507.7 506.1,1484.9 507.7,1503.7 509.4,1513.6 511.0,1519.9 512.7,1503.1 514.3,1498.5 516.0,1505.5 517.6,1496.7 519.3,1488.8 521.0,1498.7 522.6,1490.2 524.3,1482.4 525.9,1491.6 527.6,1500.0 529.2,1490.6 530.9,1488.9 532.6,1474.4 534.2,1495.6 535.9,1504.3 537.5,1487.7 539.2,1487.1 540.8,1492.7 542.5,1484.2 544.1,1485.8 545.8,1478.4 547.5,1493.7 549.1,1492.1 550.8,1486.5 552.4,1489.5 554.1,1476.4 555.7,1480.9 557.4,1484.6 559.0,1473.8 560.7,1480.2 562.4,1476.6 564.0,1477.1 565.7,1482.4 567.3,1481.7 569.0,1480.0 570.6,1486.2 572.3,1480.8 574.0,1472.5 575.6,1475.2 577.3,1482.4 578.9,1460.7 580.6,1481.5 582.2,1470.3 583.9,1468.9 585.5,1464.7 587.2,1461.1 588.9,1473.6 590.5,1476.7 592.2,1470.0 593.8,1476.5 595.5,1477.9 597.1,1478.8 598.8,1471.5 600.4,1481.3 602.1,1481.7 603.8,1494.8 605.4,1484.8 607.1,1497.5 608.7,1483.9 610.4,1489.3 612.0,1496.2 613.7,1498.3 615.4,1491.9 617.0,1490.7 618.7,1495.8 620.3,1494.6 622.0,1494.8 623.6,1496.8 625.3,1494.7 626.9,1491.5 628.6,1483.8 630.3,1489.2 631.9,1499.1 633.6,1481.6 635.2,1485.3 636.9,1497.7 638.5,1487.2 640.2,1500.7 641.8,1503.0 643.5,1502.9 645.2,1483.1 646.8,1495.8 648.5,1494.4 650.1,1496.7 651.8,1500.8 653.4,1493.3 655.1,1491.8 656.8,1481.0 658.4,1505.0 660.1,1484.8 661.7,1492.3 663.4,1512.9 665.0,1489.9 666.7,1484.6 668.3,1489.2 670.0,1496.5 671.7,1497.4 673.3,1515.8 675.0,1496.3 676.6,1497.6 678.3,1507.3 679.9,1497.8 681.6,1505.3 683.2,1480.4 684.9,1510.4 686.6,1507.8 688.2,1518.9 689.9,1504.1 691.5,1500.0 693.2,1501.2 694.8,1507.1 696.5,1494.4 698.2,1500.1 699.8,1492.2 701.5,1503.6 703.1,1518.1 704.8,1504.5 706.4,1512.2 708.1,1496.7 709.7,1509.3 711.4,1506.4 713.1,1504.8 714.7,1518.1 716.4,1508.6 718.0,1498.1 719.7,1510.8 721.3,1507.7 723.0,1505.2 724.6,1512.7 726.3,1509.7 728.0,1503.7 729.6,1511.1 731.3,1507.7 732.9,1509.7 734.6,1517.8 736.2,1520.2 737.9,1492.3 739.6,1497.8 741.2,1511.0 742.9,1502.1 744.5,1501.0 746.2,1502.5 747.8,1514.3 749.5,1523.8 751.1,1522.6 752.8,1514.1 754.5,1500.6 756.1,1499.0 757.8,1514.8 759.4,1515.9 761.1,1502.8 762.7,1495.7 764.4,1521.7 766.0,1509.9 767.7,1513.0 769.4,1517.2 771.0,1517.5 772.7,1517.8 774.3,1515.2 776.0,1528.8 777.6,1515.7 779.3,1509.1 781.0,1509.7 782.6,1509.6 784.3,1513.8 785.9,1515.3 787.6,1500.3 789.2,1519.0 790.9,1516.3 792.5,1507.1 794.2,1517.8 795.9,1529.7 797.5,1523.5 799.2,1522.7 800.8,1520.5 802.5,1523.4 804.1,1511.1 805.8,1513.8 807.4,1516.0 809.1,1523.9 810.8,1511.8 812.4,1512.3 814.1,1502.1 815.7,1526.7 817.4,1522.6 819.0,1509.7 820.7,1531.3 822.4,1519.7 824.0,1520.2 825.7,1521.8 827.3,1530.6 829.0,1522.2 830.6,1535.7 832.3,1512.5 833.9,1527.2 835.6,1521.8 837.3,1523.4 838.9,1521.8 840.6,1522.5 842.2,1520.1 843.9,1527.1 845.5,1523.8 847.2,1533.9 848.8,1533.5 850.5,1532.0 852.2,1533.5 853.8,1536.9 855.5,1530.5 857.1,1519.7 858.8,1521.7 860.4,1529.1 862.1,1522.9 863.8,1522.5 865.4,1502.5 867.1,1539.9 868.7,1524.0 870.4,1537.8 872.0,1515.4 873.7,1528.4 875.3,1522.8 877.0,1525.0 878.7,1520.8 880.3,1552.6 882.0,1537.3 883.6,1526.6 885.3,1539.1 886.9,1522.8 888.6,1516.9 890.2,1539.3 891.9,1531.8 893.6,1522.7 895.2,1512.4 896.9,1519.6 898.5,1522.2 900.2,1536.4 901.8,1528.6 903.5,1527.9 905.2,1534.5 906.8,1525.7 908.5,1532.2 910.1,1533.5 911.8,1511.0 913.4,1531.4 915.1,1513.6 916.7,1533.5 918.4,1530.9 920.1,1541.2 921.7,1535.4 923.4,1516.4 925.0,1530.3 926.7,1548.2 928.3,1518.1 930.0,1538.6 931.6,1534.5 933.3,1531.3 935.0,1547.6 936.6,1517.4 938.3,1519.7 939.9,1534.1 941.6,1528.1 943.2,1533.9 944.9,1536.7 946.6,1533.5 948.2,1544.3 949.9,1535.2 951.5,1536.6 953.2,1514.7 954.8,1544.7 956.5,1520.6 958.1,1525.5 959.8,1530.6 961.5,1537.3 963.1,1516.0 964.8,1519.1 966.4,1532.5 968.1,1534.0 969.7,1530.6 971.4,1516.1 973.0,1540.5 974.7,1531.7 976.4,1522.4 978.0,1544.9 979.7,1533.3 981.3,1522.7 983.0,1536.6 984.6,1533.8 986.3,1546.6 988.0,1529.5 989.6,1543.5 991.3,1536.5 992.9,1530.1 994.6,1538.1 996.2,1525.4 997.9,1526.9 999.5,1529.0 1001.2,1524.6 1002.9,1534.9 1004.5,1552.7 1006.2,1525.8 1007.8,1526.7 1009.5,1537.9 1011.1,1541.2 1012.8,1523.4 1014.4,1538.1 1016.1,1537.3 1017.8,1538.0 1019.4,1513.1 1021.1,1540.6" fill="none" stroke="#505050" stroke-width="2.4" stroke-linejoin="round"  stroke-opacity="1.0"/>
<polyline points="173.2,1526.7 174.9,1535.8 176.5,1549.3 178.2,1540.5 179.8,1541.8 181.5,1540.8 183.1,1533.4 184.8,1550.2 186.4,1530.0 188.1,1548.8 189.8,1540.3 191.4,1530.6 193.1,1532.6 194.7,1544.7 196.4,1522.7 198.0,1535.2 199.7,1547.0 201.4,1538.1 203.0,1545.9 204.7,1534.5 206.3,1550.4 208.0,1534.0 209.6,1554.1 211.3,1528.5 212.9,1535.8 214.6,1526.1 216.3,1544.5 217.9,1556.9 219.6,1550.4 221.2,1540.3 222.9,1520.5 224.5,1533.0 226.2,1526.3 227.8,1545.8 229.5,1542.7 231.2,1540.9 232.8,1527.5 234.5,1542.9 236.1,1540.5 237.8,1523.4 239.4,1545.6 241.1,1538.1 242.8,1549.7 244.4,1539.8 246.1,1530.3 247.7,1527.1 249.4,1550.0 251.0,1560.1 252.7,1532.8 254.3,1522.8 256.0,1543.8 257.7,1535.2 259.3,1537.3 261.0,1556.6 262.6,1561.1 264.3,1538.0 265.9,1533.1 267.6,1550.8 269.2,1540.2 270.9,1544.3 272.6,1545.8 274.2,1548.7 275.9,1526.9 277.5,1537.1 279.2,1539.2 280.8,1541.5 282.5,1533.8 284.2,1541.6 285.8,1535.7 287.5,1544.0 289.1,1534.1 290.8,1539.9 292.4,1532.2 294.1,1551.0 295.7,1544.3 297.4,1548.2 299.1,1523.4 300.7,1542.7 302.4,1537.9 304.0,1552.5 305.7,1545.7 307.3,1552.5 309.0,1538.4 310.6,1546.0 312.3,1523.9 314.0,1545.2 315.6,1528.6 317.3,1538.7 318.9,1532.9 320.6,1545.5 322.2,1537.8 323.9,1538.7 325.6,1544.1 327.2,1532.1 328.9,1550.0 330.5,1538.3 332.2,1538.4 333.8,1535.7 335.5,1546.5 337.1,1530.4 338.8,1544.0 340.5,1541.3 342.1,1544.3 343.8,1539.1 345.4,1532.3 347.1,1510.0 348.7,1558.5 350.4,1527.2 352.0,1527.3 353.7,1522.0 355.4,1532.5 357.0,1530.5 358.7,1518.7 360.3,1533.3 362.0,1532.4 363.6,1533.9 365.3,1529.8 367.0,1518.1 368.6,1541.2 370.3,1523.0 371.9,1553.4 373.6,1528.9 375.2,1536.6 376.9,1521.6 378.5,1525.6 380.2,1525.7 381.9,1527.4 383.5,1529.4 385.2,1549.9 386.8,1529.5 388.5,1543.7 390.1,1522.6 391.8,1537.5 393.4,1531.5 395.1,1535.7 396.8,1530.6 398.4,1529.5 400.1,1526.6 401.7,1541.7 403.4,1517.3 405.0,1540.0 406.7,1532.1 408.4,1553.9 410.0,1527.8 411.7,1521.7 413.3,1519.6 415.0,1525.4 416.6,1525.5 418.3,1535.3 419.9,1532.9 421.6,1531.0 423.3,1527.9 424.9,1538.3 426.6,1532.0 428.2,1524.1 429.9,1527.1 431.5,1529.5 433.2,1535.3 434.8,1525.5 436.5,1526.3 438.2,1514.9 439.8,1527.4 441.5,1518.9 443.1,1538.7 444.8,1511.8 446.4,1538.8 448.1,1527.6 449.8,1529.9 451.4,1531.8 453.1,1528.9 454.7,1530.2 456.4,1524.1 458.0,1522.1 459.7,1514.0 461.3,1512.6 463.0,1507.5 464.7,1517.9 466.3,1528.2 468.0,1500.7 469.6,1515.3 471.3,1541.2 472.9,1512.3 474.6,1519.4 476.2,1523.7 477.9,1522.2 479.6,1515.9 481.2,1522.8 482.9,1513.2 484.5,1516.0 486.2,1515.4 487.8,1509.3 489.5,1509.7 491.2,1498.1 492.8,1507.0 494.5,1518.6 496.1,1509.5 497.8,1494.4 499.4,1493.7 501.1,1514.4 502.7,1501.1 504.4,1510.2 506.1,1507.8 507.7,1518.0 509.4,1518.1 511.0,1506.0 512.7,1500.7 514.3,1497.9 516.0,1508.9 517.6,1502.8 519.3,1499.0 521.0,1500.6 522.6,1522.2 524.3,1506.7 525.9,1496.0 527.6,1491.2 529.2,1503.2 530.9,1485.8 532.6,1519.0 534.2,1482.3 535.9,1498.3 537.5,1491.5 539.2,1498.8 540.8,1500.3 542.5,1492.6 544.1,1489.1 545.8,1497.8 547.5,1482.4 549.1,1491.2 550.8,1486.9 552.4,1492.2 554.1,1491.2 555.7,1486.3 557.4,1494.8 559.0,1480.5 560.7,1492.9 562.4,1481.5 564.0,1490.5 565.7,1484.0 567.3,1486.4 569.0,1473.4 570.6,1469.6 572.3,1482.4 574.0,1476.1 575.6,1476.7 577.3,1472.8 578.9,1470.1 580.6,1464.4 582.2,1474.6 583.9,1485.9 585.5,1469.3 587.2,1461.1 588.9,1475.6 590.5,1468.6 592.2,1468.3 593.8,1479.2 595.5,1473.5 597.1,1480.3 598.8,1479.6 600.4,1487.2 602.1,1479.5 603.8,1493.6 605.4,1489.7 607.1,1484.6 608.7,1497.0 610.4,1488.8 612.0,1488.7 613.7,1486.6 615.4,1480.8 617.0,1507.0 618.7,1486.4 620.3,1490.9 622.0,1485.4 623.6,1489.1 625.3,1499.5 626.9,1499.2 628.6,1503.1 630.3,1485.9 631.9,1501.1 633.6,1493.9 635.2,1498.9 636.9,1514.8 638.5,1500.6 640.2,1499.6 641.8,1486.1 643.5,1500.6 645.2,1508.6 646.8,1503.8 648.5,1492.1 650.1,1494.2 651.8,1494.7 653.4,1493.7 655.1,1506.5 656.8,1491.8 658.4,1496.9 660.1,1517.9 661.7,1505.3 663.4,1489.0 665.0,1505.0 666.7,1503.7 668.3,1500.2 670.0,1499.3 671.7,1501.0 673.3,1496.0 675.0,1507.5 676.6,1513.7 678.3,1501.3 679.9,1501.9 681.6,1492.9 683.2,1483.5 684.9,1497.2 686.6,1494.0 688.2,1487.0 689.9,1494.9 691.5,1496.2 693.2,1510.3 694.8,1506.0 696.5,1509.4 698.2,1506.2 699.8,1494.4 701.5,1497.7 703.1,1503.6 704.8,1522.8 706.4,1499.3 708.1,1499.9 709.7,1514.9 711.4,1504.4 713.1,1507.9 714.7,1500.2 716.4,1524.0 718.0,1517.5 719.7,1495.4 721.3,1516.1 723.0,1514.3 724.6,1511.6 726.3,1505.9 728.0,1496.9 729.6,1509.2 731.3,1500.8 732.9,1505.3 734.6,1514.2 736.2,1495.5 737.9,1500.8 739.6,1513.3 741.2,1512.0 742.9,1519.7 744.5,1526.2 746.2,1512.5 747.8,1502.1 749.5,1537.2 751.1,1517.6 752.8,1494.2 754.5,1498.3 756.1,1520.6 757.8,1518.6 759.4,1500.7 761.1,1522.3 762.7,1513.7 764.4,1520.9 766.0,1509.7 767.7,1512.0 769.4,1498.2 771.0,1523.3 772.7,1529.0 774.3,1518.0 776.0,1512.7 777.6,1518.2 779.3,1493.6 781.0,1520.5 782.6,1518.2 784.3,1508.4 785.9,1501.4 787.6,1515.3 789.2,1511.2 790.9,1528.6 792.5,1526.4 794.2,1515.2 795.9,1511.3 797.5,1513.4 799.2,1513.9 800.8,1511.6 802.5,1519.4 804.1,1522.2 805.8,1521.8 807.4,1531.3 809.1,1526.0 810.8,1527.2 812.4,1514.9 814.1,1498.6 815.7,1513.9 817.4,1502.9 819.0,1528.5 820.7,1524.4 822.4,1522.3 824.0,1510.4 825.7,1502.9 827.3,1512.6 829.0,1516.9 830.6,1519.3 832.3,1526.3 833.9,1516.8 835.6,1517.4 837.3,1521.2 838.9,1529.3 840.6,1520.6 842.2,1523.0 843.9,1529.3 845.5,1511.8 847.2,1523.2 848.8,1517.1 850.5,1532.9 852.2,1526.7 853.8,1529.5 855.5,1532.8 857.1,1522.3 858.8,1525.6 860.4,1534.4 862.1,1529.6 863.8,1523.5 865.4,1524.4 867.1,1507.6 868.7,1544.9 870.4,1516.6 872.0,1517.9 873.7,1520.5 875.3,1531.2 877.0,1531.4 878.7,1542.6 880.3,1521.0 882.0,1530.5 883.6,1530.6 885.3,1511.0 886.9,1534.4 888.6,1526.4 890.2,1520.3 891.9,1527.1 893.6,1522.6 895.2,1524.1 896.9,1524.1 898.5,1537.5 900.2,1537.9 901.8,1517.1 903.5,1522.4 905.2,1528.8 906.8,1533.4 908.5,1514.6 910.1,1530.7 911.8,1536.3 913.4,1518.6 915.1,1537.3 916.7,1531.4 918.4,1527.1 920.1,1538.3 921.7,1525.9 923.4,1525.7 925.0,1523.7 926.7,1530.1 928.3,1514.4 930.0,1528.7 931.6,1532.5 933.3,1525.4 935.0,1532.9 936.6,1550.5 938.3,1518.0 939.9,1544.5 941.6,1546.3 943.2,1525.9 944.9,1535.1 946.6,1519.4 948.2,1520.1 949.9,1519.5 951.5,1531.3 953.2,1526.5 954.8,1540.6 956.5,1523.1 958.1,1530.4 959.8,1530.9 961.5,1528.6 963.1,1529.3 964.8,1526.3 966.4,1522.8 968.1,1530.9 969.7,1534.3 971.4,1542.1 973.0,1515.8 974.7,1527.4 976.4,1533.8 978.0,1545.1 979.7,1526.1 981.3,1542.7 983.0,1529.0 984.6,1534.9 986.3,1521.7 988.0,1535.6 989.6,1541.8 991.3,1550.6 992.9,1537.1 994.6,1517.7 996.2,1529.8 997.9,1536.0 999.5,1522.2 1001.2,1538.2 1002.9,1523.9 1004.5,1544.3 1006.2,1543.4 1007.8,1525.2 1009.5,1545.1 1011.1,1523.5 1012.8,1533.3 1014.4,1516.5 1016.1,1538.4 1017.8,1535.8 1019.4,1519.3 1021.1,1539.2" fill="none" stroke="#505050" stroke-width="2.4" stroke-linejoin="round"  stroke-opacity="0.7"/>
<polyline points="173.2,1539.3 174.9,1550.2 176.5,1515.7 178.2,1534.5 179.8,1533.0 181.5,1540.6 183.1,1538.2 184.8,1535.7 186.4,1536.9 188.1,1544.1 189.8,1533.1 191.4,1534.2 193.1,1539.6 194.7,1545.0 196.4,1546.4 198.0,1547.5 199.7,1536.0 201.4,1541.6 203.0,1530.6 204.7,1546.3 206.3,1531.9 208.0,1538.1 209.6,1543.4 211.3,1528.9 212.9,1536.9 214.6,1531.2 216.3,1528.4 217.9,1533.7 219.6,1542.5 221.2,1536.5 222.9,1529.1 224.5,1543.6 226.2,1533.2 227.8,1539.7 229.5,1542.3 231.2,1543.0 232.8,1547.6 234.5,1540.3 236.1,1534.5 237.8,1555.5 239.4,1541.4 241.1,1535.9 242.8,1541.3 244.4,1531.2 246.1,1544.9 247.7,1531.5 249.4,1530.6 251.0,1534.3 252.7,1544.3 254.3,1522.1 256.0,1539.9 257.7,1533.2 259.3,1546.3 261.0,1543.9 262.6,1534.2 264.3,1549.8 265.9,1533.7 267.6,1522.2 269.2,1550.0 270.9,1540.1 272.6,1530.1 274.2,1540.6 275.9,1530.3 277.5,1536.0 279.2,1552.2 280.8,1560.2 282.5,1539.7 284.2,1529.4 285.8,1544.8 287.5,1526.6 289.1,1551.4 290.8,1531.7 292.4,1539.0 294.1,1538.3 295.7,1540.4 297.4,1543.1 299.1,1538.0 300.7,1546.9 302.4,1529.1 304.0,1547.4 305.7,1531.9 307.3,1546.4 309.0,1548.7 310.6,1531.5 312.3,1533.8 314.0,1536.3 315.6,1521.3 317.3,1543.4 318.9,1528.5 320.6,1533.8 322.2,1521.5 323.9,1545.9 325.6,1539.5 327.2,1540.8 328.9,1543.8 330.5,1549.2 332.2,1537.9 333.8,1538.2 335.5,1543.7 337.1,1537.6 338.8,1550.4 340.5,1522.9 342.1,1530.8 343.8,1533.3 345.4,1528.7 347.1,1537.8 348.7,1540.4 350.4,1539.4 352.0,1541.0 353.7,1538.2 355.4,1524.9 357.0,1538.3 358.7,1521.8 360.3,1530.1 362.0,1517.1 363.6,1538.0 365.3,1539.6 367.0,1538.7 368.6,1552.0 370.3,1526.5 371.9,1528.9 373.6,1531.6 375.2,1531.7 376.9,1524.2 378.5,1540.0 380.2,1529.1 381.9,1528.8 383.5,1525.0 385.2,1518.9 386.8,1527.4 388.5,1538.1 390.1,1526.6 391.8,1533.3 393.4,1530.2 395.1,1539.5 396.8,1533.0 398.4,1530.8 400.1,1532.8 401.7,1525.7 403.4,1514.1 405.0,1530.0 406.7,1537.3 408.4,1531.9 410.0,1519.5 411.7,1528.3 413.3,1520.3 415.0,1527.0 416.6,1520.0 418.3,1532.0 419.9,1517.0 421.6,1526.0 423.3,1522.7 424.9,1515.7 426.6,1546.4 428.2,1515.4 429.9,1506.4 431.5,1528.9 433.2,1531.6 434.8,1528.4 436.5,1520.8 438.2,1527.5 439.8,1536.9 441.5,1535.1 443.1,1540.7 444.8,1532.4 446.4,1534.4 448.1,1540.4 449.8,1523.1 451.4,1526.9 453.1,1520.8 454.7,1543.0 456.4,1516.6 458.0,1510.6 459.7,1527.2 461.3,1535.0 463.0,1539.5 464.7,1513.6 466.3,1522.0 468.0,1517.1 469.6,1521.5 471.3,1533.8 472.9,1523.5 474.6,1518.9 476.2,1525.1 477.9,1514.7 479.6,1522.9 481.2,1508.0 482.9,1532.5 484.5,1511.0 486.2,1513.9 487.8,1505.5 489.5,1501.0 491.2,1506.5 492.8,1508.6 494.5,1515.4 496.1,1500.3 497.8,1508.0 499.4,1504.5 501.1,1507.9 502.7,1504.9 504.4,1511.4 506.1,1483.0 507.7,1502.6 509.4,1506.9 511.0,1506.4 512.7,1499.1 514.3,1505.2 516.0,1494.2 517.6,1499.5 519.3,1496.7 521.0,1488.8 522.6,1494.7 524.3,1493.2 525.9,1491.1 527.6,1483.2 529.2,1495.0 530.9,1483.0 532.6,1486.3 534.2,1487.6 535.9,1501.4 537.5,1488.7 539.2,1501.4 540.8,1494.2 542.5,1491.1 544.1,1492.3 545.8,1498.3 547.5,1480.5 549.1,1488.6 550.8,1476.7 552.4,1486.0 554.1,1498.3 555.7,1475.3 557.4,1478.1 559.0,1473.0 560.7,1485.7 562.4,1496.3 564.0,1481.6 565.7,1488.6 567.3,1486.7 569.0,1487.3 570.6,1487.3 572.3,1472.5 574.0,1485.3 575.6,1492.0 577.3,1465.6 578.9,1481.2 580.6,1482.8 582.2,1469.3 583.9,1472.4 585.5,1483.7 587.2,1461.1 588.9,1469.0 590.5,1473.6 592.2,1489.2 593.8,1479.6 595.5,1493.1 597.1,1481.7 598.8,1480.8 600.4,1480.7 602.1,1493.4 603.8,1480.7 605.4,1491.0 607.1,1492.2 608.7,1495.5 610.4,1488.1 612.0,1487.6 613.7,1492.1 615.4,1497.0 617.0,1483.4 618.7,1490.9 620.3,1487.1 622.0,1489.2 623.6,1492.8 625.3,1499.1 626.9,1498.9 628.6,1497.6 630.3,1515.2 631.9,1500.9 633.6,1488.6 635.2,1495.6 636.9,1508.9 638.5,1493.5 640.2,1501.0 641.8,1488.9 643.5,1500.0 645.2,1505.6 646.8,1497.2 648.5,1501.1 650.1,1493.3 651.8,1504.0 653.4,1488.2 655.1,1501.4 656.8,1509.9 658.4,1504.5 660.1,1502.9 661.7,1491.9 663.4,1495.9 665.0,1500.1 666.7,1492.5 668.3,1496.6 670.0,1492.0 671.7,1503.3 673.3,1487.7 675.0,1516.9 676.6,1511.8 678.3,1500.4 679.9,1493.9 681.6,1488.4 683.2,1498.9 684.9,1500.3 686.6,1497.9 688.2,1499.4 689.9,1501.8 691.5,1512.4 693.2,1509.2 694.8,1502.7 696.5,1515.3 698.2,1503.5 699.8,1494.8 701.5,1506.5 703.1,1512.7 704.8,1516.5 706.4,1511.1 708.1,1503.9 709.7,1497.6 711.4,1506.1 713.1,1501.7 714.7,1501.2 716.4,1508.2 718.0,1512.7 719.7,1494.7 721.3,1501.7 723.0,1495.4 724.6,1511.7 726.3,1510.8 728.0,1506.3 729.6,1512.0 731.3,1518.8 732.9,1515.3 734.6,1520.3 736.2,1512.1 737.9,1527.4 739.6,1506.1 741.2,1504.8 742.9,1527.6 744.5,1515.2 746.2,1511.6 747.8,1522.5 749.5,1512.5 751.1,1508.9 752.8,1517.9 754.5,1505.9 756.1,1512.2 757.8,1524.1 759.4,1521.6 761.1,1503.1 762.7,1502.2 764.4,1512.2 766.0,1503.1 767.7,1526.2 769.4,1500.6 771.0,1500.4 772.7,1518.0 774.3,1516.7 776.0,1525.1 777.6,1491.4 779.3,1516.2 781.0,1519.0 782.6,1523.7 784.3,1521.9 785.9,1522.3 787.6,1508.9 789.2,1512.5 790.9,1525.0 792.5,1516.8 794.2,1525.4 795.9,1517.5 797.5,1543.2 799.2,1504.0 800.8,1516.7 802.5,1527.5 804.1,1511.7 805.8,1519.4 807.4,1523.3 809.1,1505.6 810.8,1518.2 812.4,1514.8 814.1,1509.9 815.7,1517.9 817.4,1522.0 819.0,1523.4 820.7,1531.5 822.4,1515.5 824.0,1538.2 825.7,1516.2 827.3,1513.4 829.0,1517.0 830.6,1523.0 832.3,1530.5 833.9,1519.6 835.6,1512.3 837.3,1518.1 838.9,1516.0 840.6,1529.9 842.2,1529.2 843.9,1519.5 845.5,1542.1 847.2,1530.5 848.8,1538.1 850.5,1539.6 852.2,1519.7 853.8,1517.1 855.5,1523.8 857.1,1528.1 858.8,1535.0 860.4,1525.9 862.1,1532.1 863.8,1518.5 865.4,1539.1 867.1,1531.4 868.7,1513.8 870.4,1536.0 872.0,1521.7 873.7,1530.6 875.3,1555.0 877.0,1526.2 878.7,1527.0 880.3,1539.2 882.0,1525.0 883.6,1517.4 885.3,1529.4 886.9,1524.3 888.6,1536.2 890.2,1515.9 891.9,1529.2 893.6,1527.7 895.2,1539.5 896.9,1533.9 898.5,1519.1 900.2,1525.8 901.8,1537.1 903.5,1545.4 905.2,1547.8 906.8,1524.3 908.5,1538.7 910.1,1532.2 911.8,1515.4 913.4,1541.9 915.1,1537.2 916.7,1521.0 918.4,1529.3 920.1,1521.0 921.7,1521.3 923.4,1536.3 925.0,1534.7 926.7,1523.4 928.3,1529.3 930.0,1532.7 931.6,1522.5 933.3,1527.1 935.0,1549.0 936.6,1513.3 938.3,1519.7 939.9,1539.0 941.6,1522.7 943.2,1536.9 944.9,1553.2 946.6,1529.9 948.2,1524.2 949.9,1519.3 951.5,1541.6 953.2,1524.4 954.8,1533.9 956.5,1528.6 958.1,1533.3 959.8,1531.3 961.5,1545.1 963.1,1524.8 964.8,1536.4 966.4,1528.1 968.1,1537.6 969.7,1526.4 971.4,1525.4 973.0,1532.8 974.7,1540.3 976.4,1537.8 978.0,1530.8 979.7,1522.9 981.3,1531.0 983.0,1532.0 984.6,1526.1 986.3,1550.2 988.0,1536.3 989.6,1526.7 991.3,1530.5 992.9,1530.8 994.6,1525.8 996.2,1547.0 997.9,1529.5 999.5,1532.0 1001.2,1558.7 1002.9,1526.4 1004.5,1544.3 1006.2,1534.9 1007.8,1529.8 1009.5,1538.0 1011.1,1536.7 1012.8,1536.1 1014.4,1542.3 1016.1,1537.4 1017.8,1549.8 1019.4,1526.9 1021.1,1543.2" fill="none" stroke="#505050" stroke-width="2.4" stroke-linejoin="round"  stroke-opacity="0.6"/>
<polygon points="173.2,1487.1 174.9,1487.1 176.5,1487.1 178.2,1487.1 179.8,1487.1 181.5,1487.1 183.1,1487.1 184.8,1487.2 186.4,1487.2 188.1,1487.2 189.8,1487.2 191.4,1487.2 193.1,1487.2 194.7,1487.3 196.4,1487.3 198.0,1487.3 199.7,1487.3 201.4,1487.3 203.0,1487.3 204.7,1487.3 206.3,1487.4 208.0,1487.4 209.6,1487.4 211.3,1487.4 212.9,1487.4 214.6,1487.4 216.3,1487.4 217.9,1487.5 219.6,1487.5 221.2,1487.5 222.9,1487.5 224.5,1487.5 226.2,1487.5 227.8,1487.5 229.5,1487.6 231.2,1487.6 232.8,1487.6 234.5,1487.6 236.1,1487.6 237.8,1487.6 239.4,1487.6 241.1,1487.7 242.8,1487.7 244.4,1487.7 246.1,1487.7 247.7,1487.7 249.4,1487.7 251.0,1487.7 252.7,1487.8 254.3,1487.8 256.0,1487.8 257.7,1487.8 259.3,1487.8 261.0,1487.8 262.6,1487.8 264.3,1487.9 265.9,1487.9 267.6,1487.9 269.2,1487.9 270.9,1487.9 272.6,1487.9 274.2,1487.9 275.9,1488.0 277.5,1488.0 279.2,1488.0 280.8,1488.0 282.5,1488.0 284.2,1488.0 285.8,1488.1 287.5,1488.1 289.1,1488.1 290.8,1488.1 292.4,1488.1 294.1,1488.1 295.7,1488.1 297.4,1488.2 299.1,1488.2 300.7,1488.2 302.4,1488.2 304.0,1488.2 305.7,1488.2 307.3,1488.2 309.0,1488.3 310.6,1488.3 312.3,1488.3 314.0,1488.3 315.6,1488.3 317.3,1488.3 318.9,1488.3 320.6,1488.4 322.2,1488.4 323.9,1487.8 325.6,1487.2 327.2,1486.6 328.9,1485.9 330.5,1485.3 332.2,1484.7 333.8,1484.1 335.5,1483.5 337.1,1482.9 338.8,1482.3 340.5,1481.7 342.1,1481.1 343.8,1480.5 345.4,1479.9 347.1,1479.2 348.7,1478.6 350.4,1478.0 352.0,1477.4 353.7,1476.8 355.4,1476.2 357.0,1475.6 358.7,1475.0 360.3,1474.4 362.0,1473.9 363.6,1473.7 365.3,1473.5 367.0,1473.3 368.6,1473.0 370.3,1472.8 371.9,1472.6 373.6,1472.4 375.2,1472.1 376.9,1471.9 378.5,1471.7 380.2,1471.5 381.9,1471.2 383.5,1471.0 385.2,1470.8 386.8,1470.7 388.5,1470.8 390.1,1470.9 391.8,1471.0 393.4,1471.0 395.1,1471.1 396.8,1471.2 398.4,1471.3 400.1,1471.4 401.7,1471.5 403.4,1471.6 405.0,1471.7 406.7,1471.7 408.4,1471.8 410.0,1471.9 411.7,1472.0 413.3,1472.1 415.0,1472.2 416.6,1472.3 418.3,1472.3 419.9,1471.7 421.6,1470.3 423.3,1468.9 424.9,1467.5 426.6,1466.0 428.2,1465.1 429.9,1464.6 431.5,1464.1 433.2,1463.6 434.8,1463.2 436.5,1462.7 438.2,1462.2 439.8,1461.7 441.5,1461.2 443.1,1460.7 444.8,1460.2 446.4,1459.8 448.1,1459.3 449.8,1455.3 451.4,1451.3 453.1,1447.3 454.7,1443.3 456.4,1439.3 458.0,1435.3 459.7,1431.3 461.3,1429.2 463.0,1427.0 464.7,1424.9 466.3,1422.8 468.0,1420.6 469.6,1418.5 471.3,1416.3 472.9,1414.2 474.6,1412.1 476.2,1409.9 477.9,1406.9 479.6,1403.9 481.2,1400.9 482.9,1397.9 484.5,1394.9 486.2,1389.2 487.8,1383.5 489.5,1377.9 491.2,1372.0 492.8,1366.2 494.5,1360.3 496.1,1354.4 497.8,1347.2 499.4,1338.6 501.1,1330.0 502.7,1321.4 504.4,1312.8 506.1,1304.1 507.7,1295.5 509.4,1286.2 511.0,1276.1 512.7,1266.1 514.3,1256.0 516.0,1246.0 517.6,1235.9 519.3,1222.2 521.0,1205.0 522.6,1187.6 524.3,1170.2 525.9,1141.0 527.6,1124.0 529.2,1143.4 530.9,1159.2 532.6,1171.4 534.2,1175.4 535.9,1171.2 537.5,1166.9 539.2,1162.7 540.8,1158.5 542.5,1154.3 544.1,1150.1 545.8,1145.8 547.5,1141.9 549.1,1138.1 550.8,1134.2 552.4,1130.3 554.1,1126.4 555.7,1122.5 557.4,1118.6 559.0,1114.7 560.7,1110.8 562.4,1106.9 564.0,1106.2 565.7,1105.6 567.3,1104.9 569.0,1104.3 570.6,1103.6 572.3,1103.0 574.0,1102.3 575.6,1100.8 577.3,1098.4 578.9,1095.9 580.6,1093.5 582.2,1091.1 583.9,1088.6 585.5,1086.2 587.2,1083.7 588.9,1089.8 590.5,1095.9 592.2,1102.0 593.8,1106.8 595.5,1111.7 597.1,1116.6 598.8,1121.4 600.4,1126.3 602.1,1131.1 603.8,1136.0 605.4,1140.9 607.1,1144.9 608.7,1148.1 610.4,1151.4 612.0,1154.6 613.7,1157.9 615.4,1161.1 617.0,1164.3 618.7,1167.6 620.3,1170.8 622.0,1174.0 623.6,1177.3 625.3,1180.5 626.9,1184.0 628.6,1187.7 630.3,1191.4 631.9,1195.1 633.6,1198.9 635.2,1202.6 636.9,1206.3 638.5,1210.0 640.2,1213.7 641.8,1217.6 643.5,1221.5 645.2,1225.3 646.8,1229.2 648.5,1233.0 650.1,1236.9 651.8,1240.8 653.4,1244.6 655.1,1248.5 656.8,1252.3 658.4,1256.2 660.1,1260.1 661.7,1263.9 663.4,1267.8 665.0,1271.7 666.7,1275.5 668.3,1279.4 670.0,1283.2 671.7,1287.1 673.3,1289.6 675.0,1290.6 676.6,1291.6 678.3,1292.7 679.9,1291.4 681.6,1290.2 683.2,1288.9 684.9,1287.6 686.6,1286.4 688.2,1285.1 689.9,1283.9 691.5,1282.6 693.2,1281.4 694.8,1281.9 696.5,1284.3 698.2,1286.7 699.8,1289.1 701.5,1291.4 703.1,1294.1 704.8,1297.0 706.4,1300.0 708.1,1302.9 709.7,1305.9 711.4,1308.8 713.1,1311.7 714.7,1314.7 716.4,1317.6 718.0,1320.6 719.7,1323.2 721.3,1325.8 723.0,1328.4 724.6,1331.1 726.3,1333.7 728.0,1336.3 729.6,1339.0 731.3,1341.6 732.9,1344.2 734.6,1346.9 736.2,1349.5 737.9,1352.1 739.6,1354.2 741.2,1356.3 742.9,1358.5 744.5,1360.6 746.2,1362.7 747.8,1364.8 749.5,1366.9 751.1,1369.0 752.8,1371.1 754.5,1373.2 756.1,1375.3 757.8,1377.2 759.4,1378.9 761.1,1380.6 762.7,1382.3 764.4,1384.0 766.0,1385.7 767.7,1387.4 769.4,1389.1 771.0,1390.8 772.7,1392.5 774.3,1394.2 776.0,1395.9 777.6,1398.0 779.3,1400.6 781.0,1403.1 782.6,1405.6 784.3,1408.1 785.9,1410.6 787.6,1413.1 789.2,1415.6 790.9,1418.1 792.5,1420.7 794.2,1423.2 795.9,1425.7 797.5,1427.4 799.2,1428.4 800.8,1429.4 802.5,1430.4 804.1,1431.4 805.8,1432.4 807.4,1433.4 809.1,1434.4 810.8,1435.4 812.4,1436.4 814.1,1437.4 815.7,1438.4 817.4,1439.4 819.0,1440.3 820.7,1441.3 822.4,1442.3 824.0,1443.3 825.7,1444.3 827.3,1445.3 829.0,1446.3 830.6,1447.3 832.3,1448.3 833.9,1449.3 835.6,1450.3 837.3,1450.9 838.9,1451.1 840.6,1451.3 842.2,1451.5 843.9,1451.7 845.5,1451.9 847.2,1452.1 848.8,1452.3 850.5,1452.5 852.2,1452.7 853.8,1452.9 855.5,1453.1 857.1,1453.4 858.8,1453.6 860.4,1453.8 862.1,1454.0 863.8,1454.2 865.4,1454.4 867.1,1454.6 868.7,1454.8 870.4,1455.0 872.0,1455.2 873.7,1455.4 875.3,1455.6 877.0,1456.2 878.7,1456.8 880.3,1457.4 882.0,1458.0 883.6,1458.6 885.3,1459.2 886.9,1459.9 888.6,1460.5 890.2,1461.1 891.9,1461.7 893.6,1462.3 895.2,1462.9 896.9,1463.5 898.5,1464.1 900.2,1464.7 901.8,1465.3 903.5,1465.9 905.2,1466.5 906.8,1467.1 908.5,1467.7 910.1,1468.3 911.8,1468.9 913.4,1469.5 915.1,1470.2 916.7,1470.5 918.4,1470.8 920.1,1471.2 921.7,1471.5 923.4,1471.8 925.0,1472.2 926.7,1472.5 928.3,1472.8 930.0,1473.2 931.6,1473.5 933.3,1473.8 935.0,1474.2 936.6,1474.5 938.3,1474.9 939.9,1475.2 941.6,1475.5 943.2,1475.9 944.9,1476.2 946.6,1476.5 948.2,1476.9 949.9,1477.2 951.5,1477.5 953.2,1477.9 954.8,1478.2 956.5,1478.6 958.1,1478.9 959.8,1479.2 961.5,1479.6 963.1,1479.9 964.8,1480.2 966.4,1480.6 968.1,1480.9 969.7,1481.2 971.4,1481.6 973.0,1481.9 974.7,1482.2 976.4,1482.5 978.0,1482.7 979.7,1482.9 981.3,1483.1 983.0,1483.3 984.6,1483.5 986.3,1483.8 988.0,1484.0 989.6,1484.2 991.3,1484.4 992.9,1484.6 994.6,1484.8 996.2,1485.0 997.9,1485.3 999.5,1485.5 1001.2,1485.7 1002.9,1485.9 1004.5,1486.1 1006.2,1486.3 1007.8,1486.6 1009.5,1486.8 1011.1,1487.0 1012.8,1487.2 1014.4,1487.4 1016.1,1487.6 1017.8,1487.8 1019.4,1488.1 1021.1,1488.3 1021.1,1494.7 1019.4,1494.5 1017.8,1494.2 1016.1,1494.0 1014.4,1493.8 1012.8,1493.6 1011.1,1493.4 1009.5,1493.1 1007.8,1492.9 1006.2,1492.7 1004.5,1492.5 1002.9,1492.3 1001.2,1492.1 999.5,1491.8 997.9,1491.6 996.2,1491.4 994.6,1491.2 992.9,1491.0 991.3,1490.7 989.6,1490.5 988.0,1490.3 986.3,1490.1 984.6,1489.9 983.0,1489.6 981.3,1489.4 979.7,1489.2 978.0,1489.0 976.4,1488.8 974.7,1488.5 973.0,1488.2 971.4,1487.9 969.7,1487.5 968.1,1487.2 966.4,1486.9 964.8,1486.5 963.1,1486.2 961.5,1485.8 959.8,1485.5 958.1,1485.2 956.5,1484.8 954.8,1484.5 953.2,1484.1 951.5,1483.8 949.9,1483.5 948.2,1483.1 946.6,1482.8 944.9,1482.4 943.2,1482.1 941.6,1481.8 939.9,1481.4 938.3,1481.1 936.6,1480.7 935.0,1480.4 933.3,1480.1 931.6,1479.7 930.0,1479.4 928.3,1479.0 926.7,1478.7 925.0,1478.4 923.4,1478.0 921.7,1477.7 920.1,1477.3 918.4,1477.0 916.7,1476.7 915.1,1476.3 913.4,1475.7 911.8,1475.1 910.1,1474.5 908.5,1473.9 906.8,1473.3 905.2,1472.7 903.5,1472.1 901.8,1471.4 900.2,1470.8 898.5,1470.2 896.9,1469.6 895.2,1469.0 893.6,1468.4 891.9,1467.8 890.2,1467.2 888.6,1466.6 886.9,1466.0 885.3,1465.4 883.6,1464.7 882.0,1464.1 880.3,1463.5 878.7,1462.9 877.0,1462.3 875.3,1461.7 873.7,1461.5 872.0,1461.3 870.4,1461.1 868.7,1460.9 867.1,1460.6 865.4,1460.4 863.8,1460.2 862.1,1460.0 860.4,1459.8 858.8,1459.6 857.1,1459.4 855.5,1459.2 853.8,1459.0 852.2,1458.8 850.5,1458.6 848.8,1458.4 847.2,1458.1 845.5,1457.9 843.9,1457.7 842.2,1457.5 840.6,1457.3 838.9,1457.1 837.3,1456.9 835.6,1456.3 833.9,1455.2 832.3,1454.2 830.6,1453.2 829.0,1452.1 827.3,1451.1 825.7,1450.1 824.0,1449.0 822.4,1448.0 820.7,1447.0 819.0,1445.9 817.4,1444.9 815.7,1443.9 814.1,1442.8 812.4,1441.8 810.8,1440.8 809.1,1439.7 807.4,1438.7 805.8,1437.7 804.1,1436.6 802.5,1435.6 800.8,1434.6 799.2,1433.5 797.5,1432.5 795.9,1430.7 794.2,1428.2 792.5,1425.6 790.9,1423.1 789.2,1420.5 787.6,1418.0 785.9,1415.4 784.3,1412.9 782.6,1410.3 781.0,1407.7 779.3,1405.2 777.6,1402.6 776.0,1400.5 774.3,1398.8 772.7,1397.0 771.0,1395.3 769.4,1393.5 767.7,1391.8 766.0,1390.0 764.4,1388.3 762.7,1386.6 761.1,1384.8 759.4,1383.1 757.8,1381.3 756.1,1379.4 754.5,1377.3 752.8,1375.1 751.1,1373.0 749.5,1370.9 747.8,1368.8 746.2,1366.6 744.5,1364.5 742.9,1362.4 741.2,1360.3 739.6,1358.2 737.9,1356.1 736.2,1353.4 734.6,1350.8 732.9,1348.1 731.3,1345.5 729.6,1342.9 728.0,1340.2 726.3,1337.6 724.6,1335.0 723.0,1332.3 721.3,1329.7 719.7,1327.0 718.0,1324.4 716.4,1321.5 714.7,1318.5 713.1,1315.6 711.4,1312.6 709.7,1309.7 708.1,1306.7 706.4,1303.8 704.8,1300.8 703.1,1297.9 701.5,1295.2 699.8,1292.8 698.2,1290.4 696.5,1288.1 694.8,1285.7 693.2,1285.1 691.5,1286.3 689.9,1287.6 688.2,1288.8 686.6,1290.1 684.9,1291.3 683.2,1292.6 681.6,1293.9 679.9,1295.1 678.3,1296.4 676.6,1295.3 675.0,1294.3 673.3,1293.2 671.7,1290.8 670.0,1286.9 668.3,1283.0 666.7,1279.1 665.0,1275.3 663.4,1271.4 661.7,1267.5 660.1,1263.7 658.4,1259.8 656.8,1255.9 655.1,1252.1 653.4,1248.2 651.8,1244.3 650.1,1240.5 648.5,1236.6 646.8,1232.7 645.2,1228.8 643.5,1225.0 641.8,1221.1 640.2,1217.2 638.5,1213.5 636.9,1209.8 635.2,1206.1 633.6,1202.4 631.9,1198.6 630.3,1194.9 628.6,1191.2 626.9,1187.5 625.3,1184.0 623.6,1180.7 622.0,1177.5 620.3,1174.2 618.7,1171.0 617.0,1167.7 615.4,1164.5 613.7,1161.3 612.0,1158.0 610.4,1154.8 608.7,1151.5 607.1,1148.3 605.4,1144.2 603.8,1139.3 602.1,1134.5 600.4,1129.6 598.8,1124.7 597.1,1119.9 595.5,1115.0 593.8,1110.1 592.2,1105.3 590.5,1099.2 588.9,1093.1 587.2,1087.0 585.5,1089.5 583.9,1091.9 582.2,1094.3 580.6,1096.7 578.9,1099.2 577.3,1101.6 575.6,1104.0 574.0,1105.6 572.3,1106.2 570.6,1106.9 569.0,1107.5 567.3,1108.1 565.7,1108.8 564.0,1109.4 562.4,1110.1 560.7,1114.0 559.0,1117.9 557.4,1121.7 555.7,1125.6 554.1,1129.5 552.4,1133.4 550.8,1137.3 549.1,1141.2 547.5,1145.1 545.8,1149.0 544.1,1153.2 542.5,1157.4 540.8,1161.6 539.2,1165.8 537.5,1170.0 535.9,1174.2 534.2,1178.4 532.6,1174.5 530.9,1162.3 529.2,1146.5 527.6,1127.0 525.9,1144.0 524.3,1173.2 522.6,1190.6 521.0,1208.0 519.3,1225.4 517.6,1239.2 516.0,1249.4 514.3,1259.6 512.7,1269.8 511.0,1280.0 509.4,1290.3 507.7,1299.7 506.1,1308.5 504.4,1317.3 502.7,1326.0 501.1,1334.8 499.4,1343.5 497.8,1352.3 496.1,1359.7 494.5,1365.7 492.8,1371.7 491.2,1377.7 489.5,1383.8 487.8,1389.5 486.2,1395.2 484.5,1400.9 482.9,1403.9 481.2,1406.9 479.6,1409.9 477.9,1412.9 476.2,1415.9 474.6,1418.1 472.9,1420.2 471.3,1422.4 469.6,1424.5 468.0,1426.6 466.3,1428.8 464.7,1430.9 463.0,1433.1 461.3,1435.2 459.7,1437.4 458.0,1441.3 456.4,1445.3 454.7,1449.3 453.1,1453.3 451.4,1457.3 449.8,1461.3 448.1,1465.3 446.4,1465.8 444.8,1466.3 443.1,1466.8 441.5,1467.3 439.8,1467.8 438.2,1468.2 436.5,1468.7 434.8,1469.2 433.2,1469.7 431.5,1470.2 429.9,1470.7 428.2,1471.2 426.6,1472.1 424.9,1473.5 423.3,1474.9 421.6,1476.4 419.9,1477.8 418.3,1478.4 416.6,1478.3 415.0,1478.3 413.3,1478.2 411.7,1478.1 410.0,1478.0 408.4,1477.9 406.7,1477.8 405.0,1477.8 403.4,1477.7 401.7,1477.6 400.1,1477.5 398.4,1477.4 396.8,1477.3 395.1,1477.3 393.4,1477.2 391.8,1477.1 390.1,1477.0 388.5,1476.9 386.8,1476.8 385.2,1476.9 383.5,1477.1 381.9,1477.4 380.2,1477.6 378.5,1477.8 376.9,1478.0 375.2,1478.3 373.6,1478.5 371.9,1478.7 370.3,1479.0 368.6,1479.2 367.0,1479.4 365.3,1479.6 363.6,1479.9 362.0,1480.1 360.3,1480.5 358.7,1481.1 357.0,1481.7 355.4,1482.4 353.7,1483.0 352.0,1483.6 350.4,1484.2 348.7,1484.8 347.1,1485.4 345.4,1486.0 343.8,1486.7 342.1,1487.3 340.5,1487.9 338.8,1488.5 337.1,1489.1 335.5,1489.7 333.8,1490.3 332.2,1490.9 330.5,1491.5 328.9,1492.1 327.2,1492.8 325.6,1493.4 323.9,1494.0 322.2,1494.6 320.6,1494.6 318.9,1494.6 317.3,1494.5 315.6,1494.5 314.0,1494.5 312.3,1494.5 310.6,1494.5 309.0,1494.5 307.3,1494.5 305.7,1494.5 304.0,1494.4 302.4,1494.4 300.7,1494.4 299.1,1494.4 297.4,1494.4 295.7,1494.4 294.1,1494.4 292.4,1494.4 290.8,1494.3 289.1,1494.3 287.5,1494.3 285.8,1494.3 284.2,1494.3 282.5,1494.3 280.8,1494.3 279.2,1494.3 277.5,1494.2 275.9,1494.2 274.2,1494.2 272.6,1494.2 270.9,1494.2 269.2,1494.2 267.6,1494.2 265.9,1494.2 264.3,1494.1 262.6,1494.1 261.0,1494.1 259.3,1494.1 257.7,1494.1 256.0,1494.1 254.3,1494.1 252.7,1494.1 251.0,1494.0 249.4,1494.0 247.7,1494.0 246.1,1494.0 244.4,1494.0 242.8,1494.0 241.1,1494.0 239.4,1494.0 237.8,1493.9 236.1,1493.9 234.5,1493.9 232.8,1493.9 231.2,1493.9 229.5,1493.9 227.8,1493.9 226.2,1493.9 224.5,1493.8 222.9,1493.8 221.2,1493.8 219.6,1493.8 217.9,1493.8 216.3,1493.8 214.6,1493.8 212.9,1493.8 211.3,1493.7 209.6,1493.7 208.0,1493.7 206.3,1493.7 204.7,1493.7 203.0,1493.7 201.4,1493.7 199.7,1493.7 198.0,1493.6 196.4,1493.6 194.7,1493.6 193.1,1493.6 191.4,1493.6 189.8,1493.6 188.1,1493.6 186.4,1493.6 184.8,1493.5 183.1,1493.5 181.5,1493.5 179.8,1493.5 178.2,1493.5 176.5,1493.5 174.9,1493.5 173.2,1493.5" fill="#626262" fill-opacity="1.0"/>
<polyline points="173.2,1487.2 174.9,1483.7 176.5,1485.0 178.2,1489.8 179.8,1493.4 181.5,1491.3 183.1,1490.0 184.8,1487.7 186.4,1492.3 188.1,1490.7 189.8,1490.1 191.4,1485.9 193.1,1489.0 194.7,1490.2 196.4,1490.8 198.0,1488.2 199.7,1487.6 201.4,1489.6 203.0,1489.9 204.7,1490.8 206.3,1494.8 208.0,1495.9 209.6,1494.1 211.3,1495.7 212.9,1499.2 214.6,1498.0 216.3,1496.2 217.9,1498.2 219.6,1497.3 221.2,1491.8 222.9,1497.3 224.5,1491.0 226.2,1492.5 227.8,1489.7 229.5,1488.5 231.2,1488.9 232.8,1487.6 234.5,1487.1 236.1,1490.9 237.8,1492.8 239.4,1491.0 241.1,1487.0 242.8,1489.9 244.4,1493.5 246.1,1497.2 247.7,1498.3 249.4,1492.9 251.0,1488.0 252.7,1490.7 254.3,1489.0 256.0,1486.9 257.7,1484.4 259.3,1486.6 261.0,1486.5 262.6,1490.3 264.3,1491.4 265.9,1490.8 267.6,1491.8 269.2,1503.1 270.9,1494.3 272.6,1489.4 274.2,1490.3 275.9,1490.7 277.5,1495.5 279.2,1492.0 280.8,1491.6 282.5,1486.1 284.2,1489.2 285.8,1491.1 287.5,1489.3 289.1,1488.0 290.8,1487.6 292.4,1489.1 294.1,1487.2 295.7,1482.7 297.4,1486.9 299.1,1496.2 300.7,1491.2 302.4,1488.4 304.0,1492.7 305.7,1487.7 307.3,1492.6 309.0,1491.1 310.6,1489.7 312.3,1489.9 314.0,1493.8 315.6,1498.3 317.3,1495.2 318.9,1490.3 320.6,1482.5 322.2,1486.4 323.9,1492.8 325.6,1494.1 327.2,1485.6 328.9,1476.8 330.5,1478.3 332.2,1488.4 333.8,1488.0 335.5,1486.5 337.1,1488.1 338.8,1487.1 340.5,1484.6 342.1,1482.7 343.8,1483.6 345.4,1486.4 347.1,1487.4 348.7,1483.2 350.4,1479.2 352.0,1481.5 353.7,1481.5 355.4,1477.5 357.0,1470.1 358.7,1471.0 360.3,1473.9 362.0,1481.2 363.6,1479.0 365.3,1470.6 367.0,1468.2 368.6,1474.4 370.3,1470.9 371.9,1477.1 373.6,1477.0 375.2,1478.4 376.9,1476.1 378.5,1472.7 380.2,1471.1 381.9,1470.1 383.5,1472.4 385.2,1472.4 386.8,1478.1 388.5,1482.0 390.1,1480.7 391.8,1476.0 393.4,1472.9 395.1,1472.7 396.8,1468.9 398.4,1468.0 400.1,1467.4 401.7,1470.3 403.4,1474.3 405.0,1478.3 406.7,1479.2 408.4,1480.0 410.0,1480.2 411.7,1479.0 413.3,1476.0 415.0,1475.4 416.6,1479.6 418.3,1481.5 419.9,1478.4 421.6,1470.6 423.3,1467.3 424.9,1468.0 426.6,1471.1 428.2,1467.3 429.9,1462.1 431.5,1457.3 433.2,1455.8 434.8,1458.3 436.5,1462.8 438.2,1464.9 439.8,1454.5 441.5,1460.7 443.1,1460.7 444.8,1461.3 446.4,1465.0 448.1,1466.4 449.8,1463.3 451.4,1449.1 453.1,1452.4 454.7,1446.1 456.4,1439.9 458.0,1434.2 459.7,1431.2 461.3,1424.6 463.0,1430.1 464.7,1429.3 466.3,1428.1 468.0,1424.5 469.6,1421.4 471.3,1417.4 472.9,1418.3 474.6,1415.7 476.2,1414.8 477.9,1411.7 479.6,1410.8 481.2,1407.0 482.9,1402.2 484.5,1399.4 486.2,1395.3 487.8,1392.2 489.5,1382.6 491.2,1373.0 492.8,1368.6 494.5,1365.8 496.1,1362.1 497.8,1343.9 499.4,1342.3 501.1,1332.0 502.7,1327.7 504.4,1315.4" fill="none" stroke="#626262" stroke-width="2.8" stroke-linejoin="round" />
<polyline points="502.7,1327.7 504.4,1315.4 506.1,1308.1 507.7,1297.7 509.4,1284.9 511.0,1275.2 512.7,1265.3 514.3,1255.3 516.0,1245.5 517.6,1236.9 519.3,1222.7 521.0,1206.8 522.6,1188.9 524.3,1172.2 525.9,1143.8 527.6,1127.7 529.2,1148.3 530.9,1155.9 532.6,1169.6 534.2,1175.6 535.9,1172.7 537.5,1168.5 539.2,1165.0 540.8,1163.2 542.5,1159.7 544.1,1151.2 545.8,1150.0 547.5,1144.8 549.1,1149.4 550.8,1141.8 552.4,1134.5 554.1,1125.4 555.7,1119.9 557.4,1116.4 559.0,1114.7 560.7,1114.0 562.4,1112.2 564.0,1113.1 565.7,1106.8 567.3,1106.3 569.0,1105.1 570.6,1099.2 572.3,1107.5 574.0,1108.2 575.6,1105.2 577.3,1104.9 578.9,1097.1 580.6,1091.3 582.2,1088.7 583.9,1087.6 585.5,1085.8 587.2,1081.6 588.9,1087.3 590.5,1095.1 592.2,1101.8 593.8,1104.8 595.5,1107.3 597.1,1114.7 598.8,1122.2 600.4,1125.9 602.1,1129.0 603.8,1136.0 605.4,1140.9 607.1,1146.2 608.7,1149.3 610.4,1153.9 612.0,1157.3 613.7,1160.1 615.4,1161.7 617.0,1161.9 618.7,1170.2 620.3,1173.7 622.0,1178.5 623.6,1184.3 625.3,1186.0 626.9,1191.0 628.6,1187.6 630.3,1191.9 631.9,1195.9 633.6,1199.9 635.2,1202.3 636.9,1205.8 638.5,1209.3 640.2,1213.9 641.8,1219.4 643.5,1225.5 645.2,1227.8 646.8,1228.5 648.5,1232.3 650.1,1238.2 651.8,1243.0 653.4,1246.4 655.1,1251.4 656.8,1254.6 658.4,1260.8 660.1,1262.6 661.7,1266.2 663.4,1271.0 665.0,1277.7 666.7,1280.7 668.3,1282.0 670.0,1287.0 671.7,1290.4 673.3,1286.9 675.0,1286.5 676.6,1290.1 678.3,1296.2 679.9,1293.1 681.6,1294.8 683.2,1295.8 684.9,1299.7 686.6,1289.1 688.2,1283.9 689.9,1283.6 691.5,1283.2 693.2,1279.5 694.8,1278.8 696.5,1278.5 698.2,1291.6 699.8,1292.5 701.5,1292.2 703.1,1294.1 704.8,1298.5 706.4,1297.3 708.1,1301.5 709.7,1300.1 711.4,1308.3 713.1,1317.6 714.7,1322.5 716.4,1320.6 718.0,1322.8 719.7,1321.5 721.3,1322.6 723.0,1324.1 724.6,1329.5 726.3,1333.9 728.0,1337.6 729.6,1338.3 731.3,1339.5 732.9,1343.6 734.6,1346.7 736.2,1349.1 737.9,1351.8 739.6,1357.3 741.2,1361.0 742.9,1363.8 744.5,1369.1 746.2,1369.9 747.8,1368.1 749.5,1366.4 751.1,1368.9 752.8,1370.6 754.5,1372.1 756.1,1379.8 757.8,1379.6 759.4,1384.5 761.1,1379.4 762.7,1377.3 764.4,1377.5 766.0,1383.8 767.7,1388.3 769.4,1396.9 771.0,1395.3 772.7,1392.3 774.3,1394.6 776.0,1396.6 777.6,1402.5 779.3,1405.0 781.0,1407.6 782.6,1407.6 784.3,1409.7 785.9,1406.3 787.6,1414.5 789.2,1417.6 790.9,1413.4 792.5,1420.7 794.2,1424.2 795.9,1429.5 797.5,1429.3 799.2,1428.3 800.8,1427.7 802.5,1430.3" fill="none" stroke="#555" stroke-width="3.4" stroke-linejoin="round" />
<polyline points="800.8,1427.7 802.5,1430.3 804.1,1432.4 805.8,1436.9 807.4,1438.5 809.1,1437.6 810.8,1436.2 812.4,1439.4 814.1,1443.0 815.7,1444.9 817.4,1440.6 819.0,1443.7 820.7,1438.4 822.4,1449.3 824.0,1445.9 825.7,1448.0 827.3,1448.0 829.0,1446.4 830.6,1445.1 832.3,1446.7 833.9,1449.8 835.6,1452.9 837.3,1454.1 838.9,1454.5 840.6,1455.3 842.2,1457.1 843.9,1456.8 845.5,1459.2 847.2,1453.7 848.8,1455.0 850.5,1454.1 852.2,1451.0 853.8,1447.9 855.5,1449.6 857.1,1452.4 858.8,1448.6 860.4,1458.7 862.1,1456.7 863.8,1454.9 865.4,1458.2 867.1,1461.6 868.7,1464.0 870.4,1461.7 872.0,1463.3 873.7,1464.2 875.3,1464.6 877.0,1461.8 878.7,1463.4 880.3,1463.8 882.0,1457.9 883.6,1457.1 885.3,1458.0 886.9,1462.3 888.6,1462.6 890.2,1467.4 891.9,1469.4 893.6,1467.1 895.2,1464.3 896.9,1463.9 898.5,1468.9 900.2,1473.5 901.8,1474.1 903.5,1471.3 905.2,1471.4 906.8,1474.1 908.5,1475.5 910.1,1469.7 911.8,1465.7 913.4,1467.4 915.1,1473.2 916.7,1475.8 918.4,1475.0 920.1,1475.0 921.7,1473.9 923.4,1468.7 925.0,1467.4 926.7,1471.5 928.3,1474.7 930.0,1479.2 931.6,1480.9 933.3,1483.5 935.0,1475.2 936.6,1471.4 938.3,1470.3 939.9,1476.7 941.6,1484.5 943.2,1485.3 944.9,1479.2 946.6,1474.9 948.2,1477.0 949.9,1474.0 951.5,1480.5 953.2,1481.9 954.8,1479.0 956.5,1475.1 958.1,1478.5 959.8,1474.9 961.5,1474.3 963.1,1485.7 964.8,1453.8 966.4,1483.1 968.1,1483.2 969.7,1485.1 971.4,1488.4 973.0,1492.4 974.7,1492.6 976.4,1488.0 978.0,1489.7 979.7,1486.5 981.3,1487.4 983.0,1485.5 984.6,1488.6 986.3,1488.6 988.0,1486.8 989.6,1484.0 991.3,1485.1 992.9,1491.3 994.6,1490.0 996.2,1485.9 997.9,1484.3 999.5,1487.4 1001.2,1491.2 1002.9,1494.0 1004.5,1490.8 1006.2,1493.5 1007.8,1489.9 1009.5,1490.0 1011.1,1490.1 1012.8,1488.1 1014.4,1486.2 1016.1,1486.1 1017.8,1488.1 1019.4,1490.0 1021.1,1492.7" fill="none" stroke="#626262" stroke-width="2.8" stroke-linejoin="round" />
<polygon points="173.2,1518.8 174.9,1518.8 176.5,1518.8 178.2,1518.8 179.8,1518.8 181.5,1518.8 183.1,1518.8 184.8,1518.8 186.4,1518.7 188.1,1518.7 189.8,1518.7 191.4,1518.7 193.1,1518.7 194.7,1518.7 196.4,1518.7 198.0,1518.7 199.7,1518.7 201.4,1518.7 203.0,1518.7 204.7,1518.7 206.3,1518.7 208.0,1518.6 209.6,1518.6 211.3,1518.6 212.9,1518.6 214.6,1518.6 216.3,1518.6 217.9,1518.6 219.6,1518.6 221.2,1518.6 222.9,1518.6 224.5,1518.6 226.2,1518.6 227.8,1518.6 229.5,1518.6 231.2,1518.5 232.8,1518.5 234.5,1518.5 236.1,1518.5 237.8,1518.5 239.4,1518.5 241.1,1518.5 242.8,1518.5 244.4,1518.5 246.1,1518.5 247.7,1518.5 249.4,1518.5 251.0,1518.5 252.7,1518.4 254.3,1518.4 256.0,1518.4 257.7,1518.4 259.3,1518.4 261.0,1518.4 262.6,1518.4 264.3,1518.4 265.9,1518.4 267.6,1518.4 269.2,1518.4 270.9,1518.4 272.6,1518.4 274.2,1518.4 275.9,1518.3 277.5,1518.3 279.2,1518.3 280.8,1518.3 282.5,1518.3 284.2,1518.3 285.8,1518.3 287.5,1518.3 289.1,1518.3 290.8,1518.3 292.4,1518.3 294.1,1518.3 295.7,1518.3 297.4,1518.2 299.1,1518.2 300.7,1518.2 302.4,1518.2 304.0,1518.2 305.7,1518.2 307.3,1518.2 309.0,1518.2 310.6,1518.2 312.3,1518.2 314.0,1518.2 315.6,1518.2 317.3,1518.2 318.9,1518.1 320.6,1518.1 322.2,1518.1 323.9,1518.0 325.6,1517.8 327.2,1517.7 328.9,1517.5 330.5,1517.4 332.2,1517.2 333.8,1517.1 335.5,1516.9 337.1,1516.8 338.8,1516.6 340.5,1516.5 342.1,1516.3 343.8,1516.2 345.4,1516.0 347.1,1515.9 348.7,1515.7 350.4,1515.6 352.0,1515.4 353.7,1515.2 355.4,1515.1 357.0,1514.9 358.7,1514.8 360.3,1514.6 362.0,1514.5 363.6,1514.3 365.3,1514.2 367.0,1514.0 368.6,1513.9 370.3,1513.7 371.9,1513.6 373.6,1513.4 375.2,1513.3 376.9,1513.1 378.5,1513.0 380.2,1512.8 381.9,1512.7 383.5,1512.5 385.2,1512.4 386.8,1512.2 388.5,1512.1 390.1,1512.0 391.8,1511.9 393.4,1511.8 395.1,1511.7 396.8,1511.5 398.4,1511.4 400.1,1511.3 401.7,1511.2 403.4,1511.1 405.0,1511.0 406.7,1510.8 408.4,1510.7 410.0,1510.6 411.7,1510.5 413.3,1510.4 415.0,1510.3 416.6,1510.2 418.3,1510.0 419.9,1509.8 421.6,1509.4 423.3,1509.1 424.9,1508.7 426.6,1508.3 428.2,1508.0 429.9,1507.6 431.5,1507.2 433.2,1506.8 434.8,1506.5 436.5,1506.1 438.2,1505.7 439.8,1505.4 441.5,1505.0 443.1,1504.6 444.8,1504.3 446.4,1503.9 448.1,1503.6 449.8,1503.3 451.4,1503.0 453.1,1502.3 454.7,1501.5 456.4,1500.8 458.0,1500.0 459.7,1499.3 461.3,1498.6 463.0,1497.8 464.7,1497.1 466.3,1496.3 468.0,1495.6 469.6,1494.9 471.3,1494.1 472.9,1493.4 474.6,1492.6 476.2,1491.9 477.9,1490.0 479.6,1488.2 481.2,1486.3 482.9,1484.4 484.5,1482.5 486.2,1480.7 487.8,1478.8 489.5,1476.9 491.2,1475.0 492.8,1473.2 494.5,1468.6 496.1,1463.9 497.8,1459.3 499.4,1454.7 501.1,1450.1 502.7,1445.5 504.4,1440.8 506.1,1436.1 507.7,1431.5 509.4,1426.7 511.0,1421.5 512.7,1416.3 514.3,1411.2 516.0,1406.0 517.6,1400.8 519.3,1393.4 521.0,1383.7 522.6,1373.9 524.3,1364.2 525.9,1354.5 527.6,1363.0 529.2,1371.5 530.9,1378.3 532.6,1385.1 534.2,1386.7 535.9,1383.1 537.5,1379.5 539.2,1375.9 540.8,1372.3 542.5,1368.7 544.1,1365.1 545.8,1361.5 547.5,1357.9 549.1,1354.3 550.8,1350.7 552.4,1347.1 554.1,1346.5 555.7,1346.0 557.4,1345.4 559.0,1344.8 560.7,1344.2 562.4,1343.6 564.0,1343.1 565.7,1342.5 567.3,1341.9 569.0,1341.3 570.6,1340.4 572.3,1339.1 574.0,1337.8 575.6,1336.5 577.3,1335.3 578.9,1334.0 580.6,1332.7 582.2,1331.4 583.9,1330.2 585.5,1328.9 587.2,1327.6 588.9,1330.8 590.5,1334.1 592.2,1337.3 593.8,1340.6 595.5,1343.8 597.1,1347.0 598.8,1349.3 600.4,1351.5 602.1,1353.8 603.8,1356.0 605.4,1358.2 607.1,1360.5 608.7,1362.7 610.4,1365.0 612.0,1367.2 613.7,1369.5 615.4,1371.7 617.0,1373.9 618.7,1376.2 620.3,1377.5 622.0,1378.8 623.6,1380.1 625.3,1381.4 626.9,1382.7 628.6,1384.0 630.3,1385.3 631.9,1386.6 633.6,1387.9 635.2,1389.2 636.9,1390.5 638.5,1391.8 640.2,1393.2 641.8,1394.4 643.5,1395.7 645.2,1396.9 646.8,1398.2 648.5,1399.5 650.1,1400.7 651.8,1402.0 653.4,1403.3 655.1,1404.5 656.8,1405.8 658.4,1407.1 660.1,1408.6 661.7,1410.4 663.4,1412.1 665.0,1413.9 666.7,1415.7 668.3,1417.5 670.0,1419.2 671.7,1421.0 673.3,1422.8 675.0,1424.5 676.6,1426.3 678.3,1428.1 679.9,1427.2 681.6,1426.3 683.2,1425.5 684.9,1424.6 686.6,1423.7 688.2,1422.9 689.9,1422.0 691.5,1421.1 693.2,1420.2 694.8,1420.5 696.5,1421.8 698.2,1423.1 699.8,1424.5 701.5,1425.8 703.1,1427.2 704.8,1428.5 706.4,1429.8 708.1,1431.2 709.7,1432.5 711.4,1433.8 713.1,1435.2 714.7,1436.5 716.4,1437.9 718.0,1439.2 719.7,1440.7 721.3,1442.1 723.0,1443.6 724.6,1445.1 726.3,1446.6 728.0,1448.0 729.6,1449.5 731.3,1451.0 732.9,1452.4 734.6,1453.9 736.2,1455.4 737.9,1456.8 739.6,1458.3 741.2,1459.8 742.9,1461.3 744.5,1462.7 746.2,1464.0 747.8,1465.0 749.5,1466.1 751.1,1467.2 752.8,1468.2 754.5,1469.2 756.1,1470.3 757.8,1471.3 759.4,1472.3 761.1,1473.3 762.7,1474.3 764.4,1475.4 766.0,1476.4 767.7,1477.4 769.4,1478.4 771.0,1479.4 772.7,1480.5 774.3,1481.5 776.0,1482.5 777.6,1483.5 779.3,1484.0 781.0,1484.5 782.6,1484.9 784.3,1485.4 785.9,1485.9 787.6,1486.4 789.2,1486.9 790.9,1487.3 792.5,1487.8 794.2,1488.3 795.9,1488.8 797.5,1489.2 799.2,1489.7 800.8,1490.2 802.5,1490.7 804.1,1491.2 805.8,1491.6 807.4,1492.1 809.1,1492.6 810.8,1493.1 812.4,1493.5 814.1,1494.0 815.7,1494.5 817.4,1494.8 819.0,1495.0 820.7,1495.2 822.4,1495.4 824.0,1495.6 825.7,1495.8 827.3,1496.0 829.0,1496.2 830.6,1496.4 832.3,1496.6 833.9,1496.8 835.6,1497.0 837.3,1497.3 838.9,1497.5 840.6,1497.7 842.2,1498.0 843.9,1498.2 845.5,1498.4 847.2,1498.6 848.8,1498.9 850.5,1499.1 852.2,1499.3 853.8,1499.6 855.5,1499.8 857.1,1500.0 858.8,1500.3 860.4,1500.5 862.1,1500.7 863.8,1501.0 865.4,1501.2 867.1,1501.4 868.7,1501.6 870.4,1501.9 872.0,1502.1 873.7,1502.3 875.3,1502.6 877.0,1502.7 878.7,1502.8 880.3,1502.9 882.0,1503.0 883.6,1503.1 885.3,1503.3 886.9,1503.4 888.6,1503.5 890.2,1503.6 891.9,1503.7 893.6,1503.8 895.2,1504.0 896.9,1504.1 898.5,1504.2 900.2,1504.3 901.8,1504.4 903.5,1504.5 905.2,1504.6 906.8,1504.8 908.5,1504.9 910.1,1505.0 911.8,1505.1 913.4,1505.2 915.1,1505.3 916.7,1505.5 918.4,1505.6 920.1,1505.7 921.7,1505.8 923.4,1505.9 925.0,1506.0 926.7,1506.1 928.3,1506.3 930.0,1506.4 931.6,1506.5 933.3,1506.6 935.0,1506.7 936.6,1506.8 938.3,1507.0 939.9,1507.1 941.6,1507.2 943.2,1507.3 944.9,1507.4 946.6,1507.5 948.2,1507.6 949.9,1507.8 951.5,1507.9 953.2,1508.0 954.8,1508.1 956.5,1508.2 958.1,1508.3 959.8,1508.5 961.5,1508.6 963.1,1508.7 964.8,1508.8 966.4,1508.9 968.1,1509.0 969.7,1509.1 971.4,1509.3 973.0,1509.4 974.7,1509.5 976.4,1509.6 978.0,1509.7 979.7,1509.8 981.3,1510.0 983.0,1510.1 984.6,1510.2 986.3,1510.3 988.0,1510.4 989.6,1510.5 991.3,1510.6 992.9,1510.8 994.6,1510.9 996.2,1511.0 997.9,1511.1 999.5,1511.2 1001.2,1511.3 1002.9,1511.5 1004.5,1511.6 1006.2,1511.7 1007.8,1511.8 1009.5,1511.9 1011.1,1512.0 1012.8,1512.1 1014.4,1512.3 1016.1,1512.4 1017.8,1512.5 1019.4,1512.6 1021.1,1512.7 1021.1,1523.7 1019.4,1523.6 1017.8,1523.5 1016.1,1523.3 1014.4,1523.2 1012.8,1523.1 1011.1,1522.9 1009.5,1522.8 1007.8,1522.7 1006.2,1522.5 1004.5,1522.4 1002.9,1522.3 1001.2,1522.1 999.5,1522.0 997.9,1521.9 996.2,1521.7 994.6,1521.6 992.9,1521.5 991.3,1521.3 989.6,1521.2 988.0,1521.1 986.3,1520.9 984.6,1520.8 983.0,1520.7 981.3,1520.5 979.7,1520.4 978.0,1520.3 976.4,1520.1 974.7,1520.0 973.0,1519.9 971.4,1519.7 969.7,1519.6 968.1,1519.5 966.4,1519.3 964.8,1519.2 963.1,1519.1 961.5,1518.9 959.8,1518.8 958.1,1518.7 956.5,1518.5 954.8,1518.4 953.2,1518.3 951.5,1518.1 949.9,1518.0 948.2,1517.9 946.6,1517.7 944.9,1517.6 943.2,1517.5 941.6,1517.3 939.9,1517.2 938.3,1517.1 936.6,1516.9 935.0,1516.8 933.3,1516.7 931.6,1516.5 930.0,1516.4 928.3,1516.3 926.7,1516.1 925.0,1516.0 923.4,1515.9 921.7,1515.7 920.1,1515.6 918.4,1515.5 916.7,1515.3 915.1,1515.2 913.4,1515.1 911.8,1514.9 910.1,1514.8 908.5,1514.7 906.8,1514.5 905.2,1514.4 903.5,1514.3 901.8,1514.1 900.2,1514.0 898.5,1513.9 896.9,1513.7 895.2,1513.6 893.6,1513.5 891.9,1513.3 890.2,1513.2 888.6,1513.1 886.9,1512.9 885.3,1512.8 883.6,1512.7 882.0,1512.5 880.3,1512.4 878.7,1512.3 877.0,1512.1 875.3,1512.0 873.7,1511.7 872.0,1511.5 870.4,1511.3 868.7,1511.0 867.1,1510.8 865.4,1510.5 863.8,1510.3 862.1,1510.0 860.4,1509.8 858.8,1509.5 857.1,1509.3 855.5,1509.0 853.8,1508.8 852.2,1508.5 850.5,1508.3 848.8,1508.0 847.2,1507.8 845.5,1507.5 843.9,1507.3 842.2,1507.0 840.6,1506.8 838.9,1506.5 837.3,1506.3 835.6,1506.0 833.9,1505.7 832.3,1505.5 830.6,1505.2 829.0,1504.9 827.3,1504.6 825.7,1504.4 824.0,1504.1 822.4,1503.8 820.7,1503.5 819.0,1503.2 817.4,1503.0 815.7,1502.5 814.1,1502.0 812.4,1501.4 810.8,1500.9 809.1,1500.3 807.4,1499.7 805.8,1499.2 804.1,1498.6 802.5,1498.1 800.8,1497.5 799.2,1497.0 797.5,1496.4 795.9,1495.8 794.2,1495.3 792.5,1494.7 790.9,1494.2 789.2,1493.6 787.6,1493.1 785.9,1492.5 784.3,1491.9 782.6,1491.4 781.0,1490.8 779.3,1490.3 777.6,1489.7 776.0,1488.6 774.3,1487.5 772.7,1486.4 771.0,1485.3 769.4,1484.2 767.7,1483.1 766.0,1482.0 764.4,1480.9 762.7,1479.8 761.1,1478.7 759.4,1477.6 757.8,1476.5 756.1,1475.4 754.5,1474.3 752.8,1473.2 751.1,1472.2 749.5,1471.1 747.8,1470.0 746.2,1469.0 744.5,1467.7 742.9,1466.2 741.2,1464.7 739.6,1463.3 737.9,1461.8 736.2,1460.3 734.6,1458.8 732.9,1457.4 731.3,1455.9 729.6,1454.4 728.0,1452.9 726.3,1451.4 724.6,1450.0 723.0,1448.5 721.3,1447.0 719.7,1445.5 718.0,1444.1 716.4,1442.7 714.7,1441.4 713.1,1440.0 711.4,1438.7 709.7,1437.3 708.1,1436.0 706.4,1434.6 704.8,1433.3 703.1,1432.0 701.5,1430.6 699.8,1429.3 698.2,1427.9 696.5,1426.6 694.8,1425.2 693.2,1425.0 691.5,1425.9 689.9,1426.7 688.2,1427.6 686.6,1428.5 684.9,1429.3 683.2,1430.2 681.6,1431.1 679.9,1431.9 678.3,1432.8 676.6,1431.0 675.0,1429.2 673.3,1427.5 671.7,1425.7 670.0,1423.9 668.3,1422.1 666.7,1420.3 665.0,1418.6 663.4,1416.8 661.7,1415.0 660.1,1413.2 658.4,1411.7 656.8,1410.4 655.1,1409.1 653.4,1407.9 651.8,1406.6 650.1,1405.3 648.5,1404.1 646.8,1402.8 645.2,1401.5 643.5,1400.2 641.8,1399.0 640.2,1397.7 638.5,1396.4 636.9,1395.1 635.2,1393.8 633.6,1392.4 631.9,1391.1 630.3,1389.8 628.6,1388.5 626.9,1387.2 625.3,1385.9 623.6,1384.6 622.0,1383.3 620.3,1381.9 618.7,1380.6 617.0,1378.4 615.4,1376.1 613.7,1373.9 612.0,1371.6 610.4,1369.4 608.7,1367.1 607.1,1364.9 605.4,1362.7 603.8,1360.4 602.1,1358.2 600.4,1355.9 598.8,1353.7 597.1,1351.4 595.5,1348.2 593.8,1344.9 592.2,1341.7 590.5,1338.4 588.9,1335.2 587.2,1331.9 585.5,1333.2 583.9,1334.5 582.2,1335.7 580.6,1337.0 578.9,1338.3 577.3,1339.6 575.6,1340.8 574.0,1342.1 572.3,1343.4 570.6,1344.6 569.0,1345.6 567.3,1346.1 565.7,1346.7 564.0,1347.3 562.4,1347.9 560.7,1348.4 559.0,1349.0 557.4,1349.6 555.7,1350.2 554.1,1350.7 552.4,1351.3 550.8,1354.9 549.1,1358.5 547.5,1362.1 545.8,1365.7 544.1,1369.3 542.5,1372.9 540.8,1376.5 539.2,1380.1 537.5,1383.6 535.9,1387.2 534.2,1390.8 532.6,1389.2 530.9,1382.4 529.2,1375.6 527.6,1367.1 525.9,1358.6 524.3,1368.3 522.6,1378.0 521.0,1387.7 519.3,1397.5 517.6,1404.9 516.0,1410.1 514.3,1415.2 512.7,1420.4 511.0,1425.5 509.4,1430.7 507.7,1435.5 506.1,1440.2 504.4,1444.8 502.7,1449.6 501.1,1454.4 499.4,1459.1 497.8,1463.9 496.1,1468.6 494.5,1473.4 492.8,1478.2 491.2,1480.2 489.5,1482.2 487.8,1484.2 486.2,1486.2 484.5,1488.3 482.9,1490.3 481.2,1492.3 479.6,1494.3 477.9,1496.3 476.2,1498.3 474.6,1499.2 472.9,1500.1 471.3,1501.0 469.6,1501.9 468.0,1502.7 466.3,1503.6 464.7,1504.5 463.0,1505.4 461.3,1506.3 459.7,1507.2 458.0,1508.0 456.4,1508.9 454.7,1509.8 453.1,1510.7 451.4,1511.6 449.8,1512.0 448.1,1512.5 446.4,1512.9 444.8,1513.3 443.1,1513.7 441.5,1514.0 439.8,1514.4 438.2,1514.8 436.5,1515.2 434.8,1515.6 433.2,1515.9 431.5,1516.3 429.9,1516.7 428.2,1517.1 426.6,1517.5 424.9,1517.8 423.3,1518.2 421.6,1518.6 419.9,1519.0 418.3,1519.2 416.6,1519.4 415.0,1519.5 413.3,1519.6 411.7,1519.8 410.0,1519.9 408.4,1520.0 406.7,1520.1 405.0,1520.3 403.4,1520.4 401.7,1520.5 400.1,1520.6 398.4,1520.8 396.8,1520.9 395.1,1521.0 393.4,1521.2 391.8,1521.3 390.1,1521.4 388.5,1521.5 386.8,1521.7 385.2,1521.8 383.5,1522.0 381.9,1522.1 380.2,1522.3 378.5,1522.5 376.9,1522.6 375.2,1522.8 373.6,1523.0 371.9,1523.1 370.3,1523.3 368.6,1523.5 367.0,1523.6 365.3,1523.8 363.6,1523.9 362.0,1524.1 360.3,1524.3 358.7,1524.4 357.0,1524.6 355.4,1524.8 353.7,1524.9 352.0,1525.1 350.4,1525.3 348.7,1525.4 347.1,1525.6 345.4,1525.7 343.8,1525.9 342.1,1526.1 340.5,1526.2 338.8,1526.4 337.1,1526.6 335.5,1526.7 333.8,1526.9 332.2,1527.1 330.5,1527.2 328.9,1527.4 327.2,1527.6 325.6,1527.7 323.9,1527.9 322.2,1528.0 320.6,1528.1 318.9,1528.1 317.3,1528.1 315.6,1528.1 314.0,1528.1 312.3,1528.2 310.6,1528.2 309.0,1528.2 307.3,1528.2 305.7,1528.2 304.0,1528.3 302.4,1528.3 300.7,1528.3 299.1,1528.3 297.4,1528.3 295.7,1528.4 294.1,1528.4 292.4,1528.4 290.8,1528.4 289.1,1528.4 287.5,1528.5 285.8,1528.5 284.2,1528.5 282.5,1528.5 280.8,1528.5 279.2,1528.6 277.5,1528.6 275.9,1528.6 274.2,1528.6 272.6,1528.6 270.9,1528.7 269.2,1528.7 267.6,1528.7 265.9,1528.7 264.3,1528.7 262.6,1528.7 261.0,1528.8 259.3,1528.8 257.7,1528.8 256.0,1528.8 254.3,1528.8 252.7,1528.9 251.0,1528.9 249.4,1528.9 247.7,1528.9 246.1,1528.9 244.4,1529.0 242.8,1529.0 241.1,1529.0 239.4,1529.0 237.8,1529.0 236.1,1529.1 234.5,1529.1 232.8,1529.1 231.2,1529.1 229.5,1529.1 227.8,1529.2 226.2,1529.2 224.5,1529.2 222.9,1529.2 221.2,1529.2 219.6,1529.3 217.9,1529.3 216.3,1529.3 214.6,1529.3 212.9,1529.3 211.3,1529.4 209.6,1529.4 208.0,1529.4 206.3,1529.4 204.7,1529.4 203.0,1529.5 201.4,1529.5 199.7,1529.5 198.0,1529.5 196.4,1529.5 194.7,1529.6 193.1,1529.6 191.4,1529.6 189.8,1529.6 188.1,1529.6 186.4,1529.6 184.8,1529.7 183.1,1529.7 181.5,1529.7 179.8,1529.7 178.2,1529.7 176.5,1529.8 174.9,1529.8 173.2,1529.8" fill="#000" fill-opacity="1.0"/>
<polyline points="173.2,1520.7 174.9,1528.3 176.5,1529.6 178.2,1517.0 179.8,1517.5 181.5,1513.1 183.1,1527.9 184.8,1520.1 186.4,1524.4 188.1,1522.1 189.8,1521.7 191.4,1518.8 193.1,1524.0 194.7,1519.9 196.4,1520.6 198.0,1514.7 199.7,1532.5 201.4,1527.4 203.0,1523.4 204.7,1504.1 206.3,1507.0 208.0,1512.6 209.6,1510.5 211.3,1511.2 212.9,1513.8 214.6,1520.0 216.3,1519.6 217.9,1526.2 219.6,1525.0 221.2,1523.8 222.9,1518.0 224.5,1521.0 226.2,1527.0 227.8,1529.1 229.5,1524.5 231.2,1518.1 232.8,1518.0 234.5,1525.9 236.1,1527.4 237.8,1529.0 239.4,1529.0 241.1,1532.1 242.8,1526.0 244.4,1522.3 246.1,1519.3 247.7,1520.5 249.4,1523.3 251.0,1523.9 252.7,1519.5 254.3,1505.7 256.0,1517.9 257.7,1521.7 259.3,1511.2 261.0,1518.1 262.6,1515.6 264.3,1517.4 265.9,1515.1 267.6,1517.4 269.2,1510.2 270.9,1527.5 272.6,1524.9 274.2,1524.6 275.9,1525.9 277.5,1525.6 279.2,1519.3 280.8,1504.5 282.5,1525.5 284.2,1534.5 285.8,1528.5 287.5,1533.4 289.1,1532.0 290.8,1523.2 292.4,1518.6 294.1,1521.5 295.7,1524.9 297.4,1522.6 299.1,1520.8 300.7,1524.5 302.4,1525.4 304.0,1523.9 305.7,1526.9 307.3,1533.4 309.0,1531.3 310.6,1521.3 312.3,1518.5 314.0,1516.5 315.6,1528.7 317.3,1529.8 318.9,1528.9 320.6,1523.1 322.2,1517.7 323.9,1514.9 325.6,1518.8 327.2,1519.3 328.9,1518.0 330.5,1519.9 332.2,1524.1 333.8,1527.2 335.5,1522.6 337.1,1522.1 338.8,1513.4 340.5,1518.8 342.1,1525.4 343.8,1528.3 345.4,1527.2 347.1,1521.0 348.7,1518.7 350.4,1518.2 352.0,1524.1 353.7,1519.7 355.4,1517.9 357.0,1516.0 358.7,1518.4 360.3,1516.4 362.0,1518.0 363.6,1521.3 365.3,1526.8 367.0,1521.1 368.6,1511.4 370.3,1529.4 371.9,1523.8 373.6,1515.9 375.2,1510.8 376.9,1509.6 378.5,1513.9 380.2,1513.8 381.9,1518.0 383.5,1520.5 385.2,1520.9 386.8,1524.6 388.5,1518.6 390.1,1511.2 391.8,1506.6 393.4,1522.7 395.1,1518.7 396.8,1517.0 398.4,1515.4 400.1,1513.0 401.7,1518.2 403.4,1518.2 405.0,1512.8 406.7,1508.6 408.4,1509.4 410.0,1513.2 411.7,1510.3 413.3,1508.6 415.0,1518.4 416.6,1513.3 418.3,1515.6 419.9,1514.7 421.6,1514.7 423.3,1514.4 424.9,1512.2 426.6,1503.6 428.2,1514.6 429.9,1507.6 431.5,1500.6 433.2,1501.4 434.8,1502.6 436.5,1503.4 438.2,1511.7 439.8,1523.6 441.5,1525.3 443.1,1509.9 444.8,1509.3 446.4,1509.9 448.1,1509.9 449.8,1512.2 451.4,1507.9 453.1,1507.5 454.7,1502.6 456.4,1502.4 458.0,1502.6 459.7,1505.4 461.3,1505.0 463.0,1501.1 464.7,1488.7 466.3,1488.8 468.0,1486.5 469.6,1487.4 471.3,1496.1 472.9,1489.6 474.6,1494.4 476.2,1503.4 477.9,1505.1 479.6,1491.2 481.2,1483.0 482.9,1479.5 484.5,1483.8 486.2,1479.2 487.8,1474.8" fill="none" stroke="#000" stroke-width="4.0" stroke-linejoin="round" />
<polyline points="486.2,1479.2 487.8,1474.8 489.5,1477.0 491.2,1480.9 492.8,1476.3 494.5,1470.3 496.1,1471.6 497.8,1475.3 499.4,1470.8 501.1,1458.7 502.7,1447.9 504.4,1442.5 506.1,1442.4 507.7,1438.4 509.4,1437.4 511.0,1425.2 512.7,1420.5 514.3,1416.2 516.0,1401.7 517.6,1404.2 519.3,1397.6 521.0,1397.8 522.6,1376.9 524.3,1366.8 525.9,1355.2 527.6,1363.6 529.2,1371.3 530.9,1377.1 532.6,1386.9 534.2,1388.6 535.9,1392.0 537.5,1379.7 539.2,1369.9 540.8,1372.2 542.5,1361.7 544.1,1364.5 545.8,1361.1 547.5,1364.6 549.1,1357.9 550.8,1354.1 552.4,1348.6 554.1,1343.2 555.7,1344.6 557.4,1347.4 559.0,1346.4 560.7,1343.8 562.4,1344.6 564.0,1345.0 565.7,1347.2 567.3,1347.2 569.0,1351.8 570.6,1343.9 572.3,1341.3 574.0,1339.8 575.6,1339.0 577.3,1336.9 578.9,1334.2 580.6,1333.0 582.2,1332.5 583.9,1332.3 585.5,1332.2 587.2,1330.2 588.9,1330.9 590.5,1338.0 592.2,1343.9 593.8,1351.8 595.5,1352.6 597.1,1353.9 598.8,1351.9 600.4,1351.6 602.1,1353.1 603.8,1361.0 605.4,1369.1 607.1,1368.0 608.7,1360.4 610.4,1360.3 612.0,1369.5 613.7,1371.6 615.4,1375.7 617.0,1377.1 618.7,1382.1 620.3,1379.2 622.0,1383.2 623.6,1386.1 625.3,1385.3 626.9,1384.4 628.6,1388.6 630.3,1392.6 631.9,1392.0 633.6,1390.8 635.2,1388.9 636.9,1394.6 638.5,1395.1 640.2,1397.6 641.8,1400.1 643.5,1400.3 645.2,1399.2 646.8,1404.1 648.5,1408.0 650.1,1408.1 651.8,1403.3 653.4,1402.1 655.1,1410.2 656.8,1406.1 658.4,1405.7 660.1,1396.7 661.7,1405.5 663.4,1411.2 665.0,1416.2 666.7,1427.5 668.3,1424.2 670.0,1426.4 671.7,1424.7 673.3,1425.3 675.0,1425.7 676.6,1430.6 678.3,1435.1 679.9,1435.2 681.6,1431.7 683.2,1428.9 684.9,1428.1 686.6,1426.6 688.2,1427.9 689.9,1413.0 691.5,1420.1 693.2,1424.2 694.8,1426.5 696.5,1426.8 698.2,1427.7 699.8,1423.7 701.5,1435.1 703.1,1430.7 704.8,1420.8 706.4,1428.1 708.1,1432.7 709.7,1441.3 711.4,1434.1 713.1,1440.0 714.7,1439.3 716.4,1440.9 718.0,1436.5 719.7,1447.9 721.3,1450.3 723.0,1462.3 724.6,1455.1 726.3,1449.0 728.0,1448.0 729.6,1450.8 731.3,1453.6 732.9,1455.0 734.6,1452.2 736.2,1462.1 737.9,1458.4 739.6,1462.2 741.2,1457.7 742.9,1459.2 744.5,1452.0 746.2,1462.2 747.8,1460.7 749.5,1466.5 751.1,1471.6 752.8,1471.8 754.5,1472.6 756.1,1477.1 757.8,1469.8 759.4,1471.7 761.1,1471.2 762.7,1472.9 764.4,1469.0 766.0,1479.2 767.7,1479.7 769.4,1476.0 771.0,1477.3 772.7,1479.7 774.3,1485.2 776.0,1483.6 777.6,1481.7 779.3,1480.2 781.0,1486.5 782.6,1494.1 784.3,1495.8 785.9,1490.2 787.6,1483.3 789.2,1488.1 790.9,1493.4 792.5,1500.3 794.2,1500.0 795.9,1500.1 797.5,1493.5 799.2,1485.1 800.8,1495.0 802.5,1498.9 804.1,1494.6 805.8,1485.9 807.4,1488.5 809.1,1496.2 810.8,1503.0 812.4,1496.7 814.1,1493.9 815.7,1490.0 817.4,1505.4 819.0,1498.6 820.7,1493.3 822.4,1504.1 824.0,1505.4 825.7,1506.8 827.3,1499.2 829.0,1494.8 830.6,1487.8 832.3,1505.3 833.9,1501.5 835.6,1506.2" fill="none" stroke="#000" stroke-width="6.8" stroke-linejoin="round" />
<polyline points="833.9,1501.5 835.6,1506.2 837.3,1496.8 838.9,1499.1 840.6,1495.1 842.2,1495.0 843.9,1497.9 845.5,1503.6 847.2,1511.1 848.8,1512.0 850.5,1508.6 852.2,1504.6 853.8,1505.6 855.5,1509.5 857.1,1503.5 858.8,1501.4 860.4,1494.0 862.1,1512.7 863.8,1511.5 865.4,1506.1 867.1,1510.9 868.7,1512.3 870.4,1513.7 872.0,1508.3 873.7,1506.5 875.3,1501.3 877.0,1503.2 878.7,1508.2 880.3,1504.4 882.0,1496.2 883.6,1493.9 885.3,1500.2 886.9,1502.4 888.6,1503.0 890.2,1505.5 891.9,1512.6 893.6,1512.8 895.2,1508.5 896.9,1501.9 898.5,1504.3 900.2,1503.0 901.8,1506.1 903.5,1502.6 905.2,1503.7 906.8,1505.2 908.5,1513.4 910.1,1516.0 911.8,1514.3 913.4,1519.5 915.1,1509.3 916.7,1514.9 918.4,1518.9 920.1,1521.1 921.7,1497.6 923.4,1507.8 925.0,1509.3 926.7,1513.2 928.3,1512.8 930.0,1513.9 931.6,1507.2 933.3,1516.9 935.0,1519.0 936.6,1509.5 938.3,1515.2 939.9,1516.4 941.6,1516.1 943.2,1518.8 944.9,1518.9 946.6,1522.7 948.2,1507.3 949.9,1495.4 951.5,1490.5 953.2,1500.8 954.8,1517.4 956.5,1511.5 958.1,1513.0 959.8,1510.7 961.5,1509.0 963.1,1505.0 964.8,1515.0 966.4,1523.7 968.1,1523.9 969.7,1514.4 971.4,1514.3 973.0,1511.6 974.7,1508.2 976.4,1503.4 978.0,1506.8 979.7,1508.7 981.3,1517.8 983.0,1525.6 984.6,1539.4 986.3,1523.7 988.0,1517.9 989.6,1521.5 991.3,1520.8 992.9,1517.4 994.6,1513.7 996.2,1518.6 997.9,1514.4 999.5,1507.1 1001.2,1503.9 1002.9,1511.0 1004.5,1515.6 1006.2,1510.8 1007.8,1499.7 1009.5,1499.4 1011.1,1509.6 1012.8,1525.4 1014.4,1504.5 1016.1,1515.2 1017.8,1510.7 1019.4,1516.2 1021.1,1511.5" fill="none" stroke="#000" stroke-width="4.0" stroke-linejoin="round" />
<polygon points="173.2,1513.9 174.9,1513.9 176.5,1514.0 178.2,1514.0 179.8,1514.0 181.5,1514.0 183.1,1514.0 184.8,1514.0 186.4,1514.0 188.1,1514.0 189.8,1514.0 191.4,1514.0 193.1,1514.0 194.7,1514.0 196.4,1514.0 198.0,1514.0 199.7,1514.0 201.4,1514.0 203.0,1514.1 204.7,1514.1 206.3,1514.1 208.0,1514.1 209.6,1514.1 211.3,1514.1 212.9,1514.1 214.6,1514.1 216.3,1514.1 217.9,1514.1 219.6,1514.1 221.2,1514.1 222.9,1514.1 224.5,1514.1 226.2,1514.1 227.8,1514.1 229.5,1514.1 231.2,1514.2 232.8,1514.2 234.5,1514.2 236.1,1514.2 237.8,1514.2 239.4,1514.2 241.1,1514.2 242.8,1514.2 244.4,1514.2 246.1,1514.2 247.7,1514.2 249.4,1514.2 251.0,1514.2 252.7,1514.2 254.3,1514.2 256.0,1514.2 257.7,1514.3 259.3,1514.3 261.0,1514.3 262.6,1514.3 264.3,1514.3 265.9,1514.3 267.6,1514.3 269.2,1514.3 270.9,1514.3 272.6,1514.3 274.2,1514.3 275.9,1514.3 277.5,1514.3 279.2,1514.3 280.8,1514.3 282.5,1514.3 284.2,1514.3 285.8,1514.4 287.5,1514.4 289.1,1514.4 290.8,1514.4 292.4,1514.4 294.1,1514.4 295.7,1514.4 297.4,1514.4 299.1,1514.4 300.7,1514.4 302.4,1514.4 304.0,1514.4 305.7,1514.4 307.3,1514.4 309.0,1514.4 310.6,1514.4 312.3,1514.5 314.0,1514.5 315.6,1514.5 317.3,1514.5 318.9,1514.5 320.6,1514.5 322.2,1514.5 323.9,1514.3 325.6,1514.1 327.2,1513.9 328.9,1513.8 330.5,1513.6 332.2,1513.4 333.8,1513.2 335.5,1513.0 337.1,1512.8 338.8,1512.7 340.5,1512.5 342.1,1512.3 343.8,1512.1 345.4,1511.9 347.1,1511.7 348.7,1511.6 350.4,1511.4 352.0,1511.2 353.7,1511.0 355.4,1510.8 357.0,1510.6 358.7,1510.5 360.3,1510.3 362.0,1510.1 363.6,1509.9 365.3,1509.7 367.0,1509.5 368.6,1509.4 370.3,1509.2 371.9,1509.0 373.6,1508.8 375.2,1508.6 376.9,1508.4 378.5,1508.3 380.2,1508.1 381.9,1507.9 383.5,1507.7 385.2,1507.5 386.8,1507.3 388.5,1507.1 390.1,1507.0 391.8,1506.8 393.4,1506.6 395.1,1506.4 396.8,1506.2 398.4,1506.0 400.1,1505.8 401.7,1505.6 403.4,1505.4 405.0,1505.3 406.7,1505.1 408.4,1504.9 410.0,1504.7 411.7,1504.5 413.3,1504.3 415.0,1504.1 416.6,1503.9 418.3,1503.8 419.9,1503.3 421.6,1502.7 423.3,1502.0 424.9,1501.3 426.6,1500.7 428.2,1500.0 429.9,1499.3 431.5,1498.7 433.2,1498.0 434.8,1497.3 436.5,1496.6 438.2,1496.0 439.8,1495.3 441.5,1494.6 443.1,1494.0 444.8,1493.3 446.4,1492.6 448.1,1492.0 449.8,1491.4 451.4,1490.8 453.1,1486.3 454.7,1481.7 456.4,1477.2 458.0,1472.6 459.7,1468.1 461.3,1466.3 463.0,1464.6 464.7,1462.8 466.3,1461.1 468.0,1459.3 469.6,1457.6 471.3,1455.8 472.9,1454.1 474.6,1452.3 476.2,1450.6 477.9,1447.4 479.6,1444.1 481.2,1440.9 482.9,1437.7 484.5,1434.5 486.2,1431.3 487.8,1428.1 489.5,1424.9 491.2,1421.7 492.8,1418.5 494.5,1409.9 496.1,1401.4 497.8,1392.8 499.4,1384.3 501.1,1375.7 502.7,1365.7 504.4,1354.3 506.1,1342.9 507.7,1331.4 509.4,1319.9 511.0,1308.5 512.7,1297.0 514.3,1287.2 516.0,1279.1 517.6,1271.0 519.3,1262.9 521.0,1254.8 522.6,1246.7 524.3,1232.9 525.9,1213.4 527.6,1202.7 529.2,1217.9 530.9,1229.2 532.6,1236.5 534.2,1238.7 535.9,1235.7 537.5,1232.8 539.2,1229.8 540.8,1226.8 542.5,1223.9 544.1,1220.9 545.8,1217.9 547.5,1215.0 549.1,1212.0 550.8,1209.1 552.4,1206.1 554.1,1204.2 555.7,1202.3 557.4,1200.4 559.0,1198.5 560.7,1196.6 562.4,1194.7 564.0,1192.8 565.7,1190.9 567.3,1189.0 569.0,1186.9 570.6,1184.8 572.3,1182.6 574.0,1180.5 575.6,1178.4 577.3,1176.3 578.9,1174.1 580.6,1172.0 582.2,1169.9 583.9,1167.7 585.5,1165.6 587.2,1163.5 588.9,1167.3 590.5,1171.2 592.2,1175.0 593.8,1178.9 595.5,1182.7 597.1,1186.5 598.8,1190.4 600.4,1194.2 602.1,1198.0 603.8,1201.8 605.4,1205.6 607.1,1209.4 608.7,1213.2 610.4,1217.0 612.0,1220.8 613.7,1224.6 615.4,1228.4 617.0,1231.8 618.7,1235.0 620.3,1238.1 622.0,1241.2 623.6,1244.3 625.3,1247.5 626.9,1250.6 628.6,1253.7 630.3,1256.8 631.9,1259.9 633.6,1263.1 635.2,1266.2 636.9,1269.3 638.5,1272.4 640.2,1275.4 641.8,1278.1 643.5,1280.8 645.2,1283.6 646.8,1286.3 648.5,1289.0 650.1,1291.8 651.8,1294.5 653.4,1297.7 655.1,1301.4 656.8,1305.2 658.4,1308.9 660.1,1312.6 661.7,1316.3 663.4,1320.0 665.0,1323.7 666.7,1327.4 668.3,1330.6 670.0,1333.7 671.7,1336.8 673.3,1339.9 675.0,1343.1 676.6,1346.2 678.3,1349.3 679.9,1347.4 681.6,1345.4 683.2,1343.5 684.9,1341.5 686.6,1339.6 688.2,1337.6 689.9,1335.7 691.5,1336.5 693.2,1337.3 694.8,1338.2 696.5,1339.0 698.2,1339.9 699.8,1340.7 701.5,1341.5 703.1,1343.6 704.8,1346.9 706.4,1350.2 708.1,1353.5 709.7,1356.8 711.4,1360.1 713.1,1363.4 714.7,1366.4 716.4,1369.2 718.0,1372.0 719.7,1374.8 721.3,1377.6 723.0,1380.4 724.6,1383.2 726.3,1386.0 728.0,1388.8 729.6,1391.5 731.3,1394.1 732.9,1396.8 734.6,1399.4 736.2,1402.0 737.9,1404.7 739.6,1407.3 741.2,1410.0 742.9,1412.5 744.5,1415.1 746.2,1417.6 747.8,1420.2 749.5,1422.7 751.1,1425.3 752.8,1427.8 754.5,1430.3 756.1,1432.8 757.8,1435.4 759.4,1437.3 761.1,1439.1 762.7,1441.0 764.4,1442.9 766.0,1444.8 767.7,1446.7 769.4,1448.6 771.0,1450.5 772.7,1452.4 774.3,1454.3 776.0,1456.2 777.6,1458.0 779.3,1459.9 781.0,1461.8 782.6,1463.7 784.3,1465.6 785.9,1467.1 787.6,1468.2 789.2,1469.3 790.9,1470.4 792.5,1471.5 794.2,1472.6 795.9,1473.7 797.5,1474.8 799.2,1475.9 800.8,1477.0 802.5,1478.1 804.1,1479.2 805.8,1480.3 807.4,1481.4 809.1,1482.5 810.8,1483.6 812.4,1484.7 814.1,1485.8 815.7,1486.9 817.4,1487.6 819.0,1488.0 820.7,1488.5 822.4,1488.9 824.0,1489.3 825.7,1489.7 827.3,1490.1 829.0,1490.5 830.6,1490.9 832.3,1491.3 833.9,1491.7 835.6,1492.1 837.3,1492.5 838.9,1493.0 840.6,1493.4 842.2,1493.8 843.9,1494.3 845.5,1494.7 847.2,1495.2 848.8,1495.6 850.5,1496.0 852.2,1496.5 853.8,1496.9 855.5,1497.3 857.1,1497.8 858.8,1498.2 860.4,1498.6 862.1,1499.1 863.8,1499.5 865.4,1500.0 867.1,1500.4 868.7,1500.8 870.4,1501.3 872.0,1501.7 873.7,1502.1 875.3,1502.6 877.0,1502.7 878.7,1502.8 880.3,1502.9 882.0,1503.0 883.6,1503.1 885.3,1503.2 886.9,1503.3 888.6,1503.4 890.2,1503.5 891.9,1503.6 893.6,1503.7 895.2,1503.8 896.9,1503.9 898.5,1504.0 900.2,1504.1 901.8,1504.2 903.5,1504.3 905.2,1504.4 906.8,1504.5 908.5,1504.6 910.1,1504.7 911.8,1504.8 913.4,1504.9 915.1,1505.0 916.7,1505.1 918.4,1505.2 920.1,1505.3 921.7,1505.4 923.4,1505.5 925.0,1505.6 926.7,1505.7 928.3,1505.8 930.0,1505.9 931.6,1506.0 933.3,1506.1 935.0,1506.2 936.6,1506.3 938.3,1506.4 939.9,1506.5 941.6,1506.6 943.2,1506.7 944.9,1506.8 946.6,1506.9 948.2,1507.0 949.9,1507.1 951.5,1507.2 953.2,1507.3 954.8,1507.4 956.5,1507.5 958.1,1507.6 959.8,1507.8 961.5,1507.9 963.1,1508.0 964.8,1508.1 966.4,1508.2 968.1,1508.3 969.7,1508.4 971.4,1508.5 973.0,1508.6 974.7,1508.7 976.4,1508.8 978.0,1508.9 979.7,1509.0 981.3,1509.1 983.0,1509.2 984.6,1509.3 986.3,1509.4 988.0,1509.5 989.6,1509.6 991.3,1509.7 992.9,1509.8 994.6,1509.9 996.2,1510.0 997.9,1510.1 999.5,1510.2 1001.2,1510.3 1002.9,1510.4 1004.5,1510.5 1006.2,1510.6 1007.8,1510.7 1009.5,1510.8 1011.1,1510.9 1012.8,1511.0 1014.4,1511.1 1016.1,1511.2 1017.8,1511.3 1019.4,1511.4 1021.1,1511.5 1021.1,1522.5 1019.4,1522.4 1017.8,1522.3 1016.1,1522.2 1014.4,1522.0 1012.8,1521.9 1011.1,1521.8 1009.5,1521.7 1007.8,1521.6 1006.2,1521.4 1004.5,1521.3 1002.9,1521.2 1001.2,1521.1 999.5,1521.0 997.9,1520.8 996.2,1520.7 994.6,1520.6 992.9,1520.5 991.3,1520.4 989.6,1520.2 988.0,1520.1 986.3,1520.0 984.6,1519.9 983.0,1519.8 981.3,1519.6 979.7,1519.5 978.0,1519.4 976.4,1519.3 974.7,1519.2 973.0,1519.0 971.4,1518.9 969.7,1518.8 968.1,1518.7 966.4,1518.6 964.8,1518.4 963.1,1518.3 961.5,1518.2 959.8,1518.1 958.1,1518.0 956.5,1517.9 954.8,1517.7 953.2,1517.6 951.5,1517.5 949.9,1517.4 948.2,1517.3 946.6,1517.1 944.9,1517.0 943.2,1516.9 941.6,1516.8 939.9,1516.7 938.3,1516.5 936.6,1516.4 935.0,1516.3 933.3,1516.2 931.6,1516.1 930.0,1515.9 928.3,1515.8 926.7,1515.7 925.0,1515.6 923.4,1515.5 921.7,1515.3 920.1,1515.2 918.4,1515.1 916.7,1515.0 915.1,1514.9 913.4,1514.7 911.8,1514.6 910.1,1514.5 908.5,1514.4 906.8,1514.3 905.2,1514.1 903.5,1514.0 901.8,1513.9 900.2,1513.8 898.5,1513.7 896.9,1513.6 895.2,1513.4 893.6,1513.3 891.9,1513.2 890.2,1513.1 888.6,1513.0 886.9,1512.8 885.3,1512.7 883.6,1512.6 882.0,1512.5 880.3,1512.4 878.7,1512.2 877.0,1512.1 875.3,1512.0 873.7,1511.5 872.0,1511.1 870.4,1510.6 868.7,1510.2 867.1,1509.7 865.4,1509.3 863.8,1508.8 862.1,1508.4 860.4,1507.9 858.8,1507.5 857.1,1507.0 855.5,1506.5 853.8,1506.1 852.2,1505.6 850.5,1505.2 848.8,1504.7 847.2,1504.3 845.5,1503.8 843.9,1503.4 842.2,1502.9 840.6,1502.5 838.9,1502.0 837.3,1501.6 835.6,1501.1 833.9,1500.6 832.3,1500.1 830.6,1499.6 829.0,1499.2 827.3,1498.7 825.7,1498.2 824.0,1497.7 822.4,1497.2 820.7,1496.7 819.0,1496.2 817.4,1495.8 815.7,1494.9 814.1,1493.7 812.4,1492.6 810.8,1491.4 809.1,1490.2 807.4,1489.0 805.8,1487.9 804.1,1486.7 802.5,1485.5 800.8,1484.3 799.2,1483.1 797.5,1482.0 795.9,1480.8 794.2,1479.6 792.5,1478.4 790.9,1477.2 789.2,1476.1 787.6,1474.9 785.9,1473.7 784.3,1472.1 782.6,1470.2 781.0,1468.2 779.3,1466.2 777.6,1464.2 776.0,1462.3 774.3,1460.3 772.7,1458.3 771.0,1456.4 769.4,1454.4 767.7,1452.4 766.0,1450.5 764.4,1448.5 762.7,1446.5 761.1,1444.5 759.4,1442.6 757.8,1440.6 756.1,1438.0 754.5,1435.4 752.8,1432.8 751.1,1430.3 749.5,1427.7 747.8,1425.2 746.2,1422.6 744.5,1420.0 742.9,1417.5 741.2,1414.9 739.6,1412.3 737.9,1409.6 736.2,1407.0 734.6,1404.3 732.9,1401.7 731.3,1399.0 729.6,1396.4 728.0,1393.7 726.3,1390.9 724.6,1388.1 723.0,1385.3 721.3,1382.5 719.7,1379.7 718.0,1376.9 716.4,1374.1 714.7,1371.3 713.1,1368.2 711.4,1364.9 709.7,1361.6 708.1,1358.3 706.4,1355.0 704.8,1351.7 703.1,1348.4 701.5,1346.3 699.8,1345.5 698.2,1344.6 696.5,1343.8 694.8,1343.0 693.2,1342.1 691.5,1341.3 689.9,1340.4 688.2,1342.4 686.6,1344.3 684.9,1346.2 683.2,1348.2 681.6,1350.1 679.9,1352.1 678.3,1354.0 676.6,1350.9 675.0,1347.7 673.3,1344.6 671.7,1341.5 670.0,1338.4 668.3,1335.2 666.7,1332.1 665.0,1328.4 663.4,1324.7 661.7,1320.9 660.1,1317.2 658.4,1313.5 656.8,1309.8 655.1,1306.0 653.4,1302.3 651.8,1299.1 650.1,1296.3 648.5,1293.6 646.8,1290.9 645.2,1288.1 643.5,1285.4 641.8,1282.7 640.2,1279.9 638.5,1277.0 636.9,1273.9 635.2,1270.7 633.6,1267.6 631.9,1264.5 630.3,1261.3 628.6,1258.2 626.9,1255.1 625.3,1251.9 623.6,1248.8 622.0,1245.7 620.3,1242.6 618.7,1239.4 617.0,1236.3 615.4,1232.8 613.7,1229.0 612.0,1225.2 610.4,1221.4 608.7,1217.6 607.1,1213.8 605.4,1210.0 603.8,1206.2 602.1,1202.3 600.4,1198.5 598.8,1194.7 597.1,1190.9 595.5,1187.1 593.8,1183.2 592.2,1179.4 590.5,1175.5 588.9,1171.7 587.2,1167.8 585.5,1169.9 583.9,1172.0 582.2,1174.2 580.6,1176.3 578.9,1178.4 577.3,1180.5 575.6,1182.7 574.0,1184.8 572.3,1186.9 570.6,1189.0 569.0,1191.2 567.3,1193.3 565.7,1195.2 564.0,1197.1 562.4,1199.0 560.7,1200.8 559.0,1202.7 557.4,1204.6 555.7,1206.5 554.1,1208.4 552.4,1210.3 550.8,1213.2 549.1,1216.2 547.5,1219.2 545.8,1222.1 544.1,1225.1 542.5,1228.0 540.8,1231.0 539.2,1233.9 537.5,1236.9 535.9,1239.9 534.2,1242.8 532.6,1240.6 530.9,1233.3 529.2,1222.0 527.6,1206.8 525.9,1217.5 524.3,1237.0 522.6,1250.8 521.0,1258.9 519.3,1267.0 517.6,1275.1 516.0,1283.2 514.3,1291.3 512.7,1301.0 511.0,1312.5 509.4,1324.0 507.7,1335.4 506.1,1346.9 504.4,1358.3 502.7,1369.9 501.1,1380.0 499.4,1388.7 497.8,1397.4 496.1,1406.1 494.5,1414.8 492.8,1423.5 491.2,1426.8 489.5,1430.2 487.8,1433.5 486.2,1436.9 484.5,1440.2 482.9,1443.6 481.2,1446.9 479.6,1450.3 477.9,1453.6 476.2,1457.0 474.6,1458.9 472.9,1460.8 471.3,1462.7 469.6,1464.6 468.0,1466.5 466.3,1468.4 464.7,1470.3 463.0,1472.2 461.3,1474.1 459.7,1476.0 458.0,1480.6 456.4,1485.3 454.7,1490.0 453.1,1494.7 451.4,1499.4 449.8,1500.2 448.1,1500.9 446.4,1501.6 444.8,1502.3 443.1,1503.0 441.5,1503.7 439.8,1504.4 438.2,1505.0 436.5,1505.7 434.8,1506.4 433.2,1507.1 431.5,1507.8 429.9,1508.4 428.2,1509.1 426.6,1509.8 424.9,1510.5 423.3,1511.2 421.6,1511.8 419.9,1512.5 418.3,1513.0 416.6,1513.2 415.0,1513.4 413.3,1513.6 411.7,1513.8 410.0,1514.0 408.4,1514.2 406.7,1514.4 405.0,1514.6 403.4,1514.8 401.7,1515.0 400.1,1515.2 398.4,1515.4 396.8,1515.6 395.1,1515.8 393.4,1516.0 391.8,1516.2 390.1,1516.4 388.5,1516.6 386.8,1516.8 385.2,1517.0 383.5,1517.2 381.9,1517.4 380.2,1517.6 378.5,1517.7 376.9,1517.9 375.2,1518.1 373.6,1518.3 371.9,1518.5 370.3,1518.7 368.6,1518.9 367.0,1519.1 365.3,1519.3 363.6,1519.5 362.0,1519.7 360.3,1519.9 358.7,1520.1 357.0,1520.3 355.4,1520.5 353.7,1520.7 352.0,1520.9 350.4,1521.1 348.7,1521.3 347.1,1521.5 345.4,1521.7 343.8,1521.9 342.1,1522.0 340.5,1522.2 338.8,1522.4 337.1,1522.6 335.5,1522.8 333.8,1523.0 332.2,1523.2 330.5,1523.4 328.9,1523.6 327.2,1523.8 325.6,1524.0 323.9,1524.2 322.2,1524.4 320.6,1524.4 318.9,1524.4 317.3,1524.4 315.6,1524.4 314.0,1524.4 312.3,1524.4 310.6,1524.4 309.0,1524.4 307.3,1524.5 305.7,1524.5 304.0,1524.5 302.4,1524.5 300.7,1524.5 299.1,1524.5 297.4,1524.5 295.7,1524.5 294.1,1524.5 292.4,1524.5 290.8,1524.5 289.1,1524.5 287.5,1524.5 285.8,1524.5 284.2,1524.5 282.5,1524.5 280.8,1524.5 279.2,1524.6 277.5,1524.6 275.9,1524.6 274.2,1524.6 272.6,1524.6 270.9,1524.6 269.2,1524.6 267.6,1524.6 265.9,1524.6 264.3,1524.6 262.6,1524.6 261.0,1524.6 259.3,1524.6 257.7,1524.6 256.0,1524.6 254.3,1524.6 252.7,1524.7 251.0,1524.7 249.4,1524.7 247.7,1524.7 246.1,1524.7 244.4,1524.7 242.8,1524.7 241.1,1524.7 239.4,1524.7 237.8,1524.7 236.1,1524.7 234.5,1524.7 232.8,1524.7 231.2,1524.7 229.5,1524.7 227.8,1524.7 226.2,1524.7 224.5,1524.8 222.9,1524.8 221.2,1524.8 219.6,1524.8 217.9,1524.8 216.3,1524.8 214.6,1524.8 212.9,1524.8 211.3,1524.8 209.6,1524.8 208.0,1524.8 206.3,1524.8 204.7,1524.8 203.0,1524.8 201.4,1524.8 199.7,1524.8 198.0,1524.9 196.4,1524.9 194.7,1524.9 193.1,1524.9 191.4,1524.9 189.8,1524.9 188.1,1524.9 186.4,1524.9 184.8,1524.9 183.1,1524.9 181.5,1524.9 179.8,1524.9 178.2,1524.9 176.5,1524.9 174.9,1524.9 173.2,1524.9" fill="#000" fill-opacity="1.0"/>
<polyline points="173.2,1516.1 174.9,1512.5 176.5,1500.5 178.2,1520.3 179.8,1514.0 181.5,1521.4 183.1,1541.7 184.8,1527.5 186.4,1520.9 188.1,1515.6 189.8,1514.7 191.4,1523.5 193.1,1525.6 194.7,1527.9 196.4,1517.2 198.0,1500.6 199.7,1507.0 201.4,1512.8 203.0,1514.7 204.7,1506.2 206.3,1527.8 208.0,1520.4 209.6,1523.0 211.3,1523.4 212.9,1524.2 214.6,1524.7 216.3,1524.8 217.9,1521.0 219.6,1523.5 221.2,1521.1 222.9,1523.0 224.5,1521.2 226.2,1520.2 227.8,1527.2 229.5,1525.0 231.2,1520.3 232.8,1521.1 234.5,1532.7 236.1,1515.1 237.8,1510.4 239.4,1513.9 241.1,1517.6 242.8,1517.7 244.4,1515.2 246.1,1515.5 247.7,1516.3 249.4,1525.1 251.0,1529.6 252.7,1525.1 254.3,1519.4 256.0,1512.0 257.7,1510.4 259.3,1515.8 261.0,1514.9 262.6,1511.2 264.3,1505.9 265.9,1506.7 267.6,1508.2 269.2,1504.7 270.9,1506.5 272.6,1505.8 274.2,1508.0 275.9,1519.7 277.5,1525.9 279.2,1531.0 280.8,1515.7 282.5,1519.2 284.2,1521.0 285.8,1529.7 287.5,1532.4 289.1,1526.8 290.8,1521.3 292.4,1518.2 294.1,1513.3 295.7,1506.1 297.4,1504.7 299.1,1519.6 300.7,1525.4 302.4,1526.6 304.0,1520.0 305.7,1514.0 307.3,1513.0 309.0,1512.7 310.6,1512.3 312.3,1519.1 314.0,1526.0 315.6,1521.0 317.3,1518.1 318.9,1520.2 320.6,1520.2 322.2,1520.6 323.9,1518.2 325.6,1513.1 327.2,1516.3 328.9,1519.1 330.5,1519.0 332.2,1518.4 333.8,1517.2 335.5,1521.4 337.1,1527.2 338.8,1518.9 340.5,1525.5 342.1,1520.3 343.8,1520.1 345.4,1520.4 347.1,1517.9 348.7,1513.8 350.4,1512.3 352.0,1514.0 353.7,1515.4 355.4,1508.6 357.0,1507.2 358.7,1509.3 360.3,1518.5 362.0,1506.1 363.6,1512.3 365.3,1504.7 367.0,1507.8 368.6,1513.6 370.3,1515.5 371.9,1511.3 373.6,1510.8 375.2,1509.3 376.9,1519.7 378.5,1515.9 380.2,1497.3 381.9,1505.3 383.5,1504.3 385.2,1516.1 386.8,1518.4 388.5,1520.6 390.1,1514.9 391.8,1508.3 393.4,1509.0 395.1,1517.0 396.8,1515.5 398.4,1510.3 400.1,1505.9 401.7,1508.7 403.4,1510.0 405.0,1508.8 406.7,1509.4 408.4,1509.3 410.0,1514.5 411.7,1518.4 413.3,1519.9 415.0,1505.1 416.6,1512.8 418.3,1503.1 419.9,1507.1 421.6,1501.5 423.3,1501.7 424.9,1501.8 426.6,1500.7 428.2,1504.0 429.9,1500.8 431.5,1503.5 433.2,1501.5 434.8,1502.3 436.5,1504.9 438.2,1504.0 439.8,1506.5 441.5,1504.7 443.1,1499.9 444.8,1495.7 446.4,1499.0 448.1,1501.3 449.8,1499.6 451.4,1492.3 453.1,1484.7 454.7,1479.1 456.4,1474.0 458.0,1468.8 459.7,1468.5 461.3,1470.7 463.0,1472.0 464.7,1474.7 466.3,1478.4 468.0,1469.1 469.6,1461.1 471.3,1463.2 472.9,1468.5 474.6,1459.1 476.2,1441.7 477.9,1446.2 479.6,1446.7 481.2,1444.0 482.9,1438.7 484.5,1432.1 486.2,1429.2 487.8,1427.5" fill="none" stroke="#000" stroke-width="4.0" stroke-linejoin="round" />
<polyline points="486.2,1429.2 487.8,1427.5 489.5,1422.9 491.2,1419.9 492.8,1418.8 494.5,1411.5 496.1,1403.8 497.8,1394.1 499.4,1385.1 501.1,1377.3 502.7,1372.9 504.4,1364.1 506.1,1348.3 507.7,1334.1 509.4,1321.2 511.0,1312.2 512.7,1298.2 514.3,1287.7 516.0,1280.2 517.6,1274.3 519.3,1266.7 521.0,1256.9 522.6,1243.0 524.3,1235.3 525.9,1215.2 527.6,1201.7 529.2,1210.4 530.9,1229.1 532.6,1238.7 534.2,1241.0 535.9,1233.3 537.5,1230.6 539.2,1227.3 540.8,1226.3 542.5,1227.8 544.1,1225.5 545.8,1223.2 547.5,1219.0 549.1,1206.1 550.8,1208.7 552.4,1200.8 554.1,1205.1 555.7,1202.6 557.4,1201.1 559.0,1195.8 560.7,1196.1 562.4,1196.7 564.0,1196.3 565.7,1192.7 567.3,1194.0 569.0,1194.0 570.6,1192.0 572.3,1186.4 574.0,1181.6 575.6,1186.3 577.3,1183.6 578.9,1177.1 580.6,1165.5 582.2,1167.1 583.9,1170.7 585.5,1172.7 587.2,1171.3 588.9,1170.8 590.5,1170.3 592.2,1177.6 593.8,1173.4 595.5,1176.5 597.1,1180.0 598.8,1189.6 600.4,1196.8 602.1,1203.7 603.8,1204.7 605.4,1207.0 607.1,1206.0 608.7,1210.4 610.4,1218.7 612.0,1219.3 613.7,1226.2 615.4,1223.0 617.0,1229.0 618.7,1237.3 620.3,1243.5 622.0,1246.1 623.6,1250.8 625.3,1256.4 626.9,1252.4 628.6,1251.7 630.3,1256.8 631.9,1266.1 633.6,1267.7 635.2,1266.1 636.9,1265.7 638.5,1267.5 640.2,1273.0 641.8,1277.7 643.5,1283.2 645.2,1289.5 646.8,1289.1 648.5,1289.2 650.1,1288.6 651.8,1295.0 653.4,1298.4 655.1,1304.3 656.8,1310.2 658.4,1314.7 660.1,1316.5 661.7,1311.1 663.4,1317.7 665.0,1320.4 666.7,1324.8 668.3,1329.4 670.0,1338.8 671.7,1345.0 673.3,1344.0 675.0,1341.4 676.6,1342.8 678.3,1349.1 679.9,1349.5 681.6,1345.2 683.2,1340.2 684.9,1334.9 686.6,1335.4 688.2,1335.4 689.9,1341.9 691.5,1345.0 693.2,1352.0 694.8,1348.9 696.5,1347.8 698.2,1341.3 699.8,1336.5 701.5,1339.9 703.1,1338.6 704.8,1342.8 706.4,1350.6 708.1,1353.8 709.7,1356.5 711.4,1356.9 713.1,1368.8 714.7,1372.4 716.4,1373.5 718.0,1370.3 719.7,1373.3 721.3,1377.7 723.0,1380.2 724.6,1382.8 726.3,1389.6 728.0,1389.2 729.6,1399.4 731.3,1403.7 732.9,1404.9 734.6,1403.2 736.2,1408.9 737.9,1413.7 739.6,1411.1 741.2,1399.2 742.9,1407.9 744.5,1416.7 746.2,1422.8 747.8,1424.4 749.5,1426.7 751.1,1430.5 752.8,1431.4 754.5,1429.6 756.1,1436.7 757.8,1441.0 759.4,1442.2 761.1,1436.4 762.7,1439.9 764.4,1442.0 766.0,1442.4 767.7,1450.3 769.4,1453.2 771.0,1455.0 772.7,1455.3 774.3,1474.7 776.0,1471.6 777.6,1469.2 779.3,1463.2 781.0,1463.7 782.6,1464.0 784.3,1466.3 785.9,1466.9 787.6,1466.4 789.2,1467.5 790.9,1468.2 792.5,1469.6 794.2,1470.5 795.9,1476.0 797.5,1481.8 799.2,1484.4 800.8,1482.8 802.5,1487.7 804.1,1491.1 805.8,1489.5 807.4,1478.5 809.1,1480.6 810.8,1475.3 812.4,1487.8 814.1,1494.6 815.7,1485.5 817.4,1496.1 819.0,1500.5 820.7,1500.3 822.4,1494.2 824.0,1485.6 825.7,1489.9 827.3,1506.0 829.0,1493.4 830.6,1489.0 832.3,1489.7 833.9,1495.5 835.6,1493.2" fill="none" stroke="#000" stroke-width="6.6" stroke-linejoin="round" />
<polyline points="833.9,1495.5 835.6,1493.2 837.3,1490.7 838.9,1483.8 840.6,1484.4 842.2,1488.1 843.9,1499.2 845.5,1504.0 847.2,1515.7 848.8,1505.2 850.5,1508.1 852.2,1503.7 853.8,1503.8 855.5,1501.7 857.1,1508.4 858.8,1506.1 860.4,1489.3 862.1,1498.3 863.8,1501.2 865.4,1505.9 867.1,1503.3 868.7,1503.2 870.4,1505.3 872.0,1516.4 873.7,1511.6 875.3,1513.1 877.0,1516.9 878.7,1512.4 880.3,1509.8 882.0,1505.6 883.6,1505.5 885.3,1506.6 886.9,1507.2 888.6,1509.7 890.2,1499.9 891.9,1503.7 893.6,1502.4 895.2,1500.5 896.9,1518.3 898.5,1508.5 900.2,1503.2 901.8,1507.3 903.5,1502.0 905.2,1510.5 906.8,1507.6 908.5,1519.2 910.1,1521.6 911.8,1525.4 913.4,1514.4 915.1,1516.0 916.7,1524.5 918.4,1523.7 920.1,1515.5 921.7,1507.7 923.4,1503.0 925.0,1507.8 926.7,1515.7 928.3,1517.4 930.0,1512.4 931.6,1504.7 933.3,1505.3 935.0,1508.6 936.6,1511.1 938.3,1503.1 939.9,1517.6 941.6,1516.4 943.2,1516.0 944.9,1515.8 946.6,1501.2 948.2,1508.2 949.9,1507.2 951.5,1501.8 953.2,1516.5 954.8,1517.9 956.5,1512.4 958.1,1509.6 959.8,1508.9 961.5,1493.8 963.1,1502.5 964.8,1505.2 966.4,1514.8 968.1,1517.3 969.7,1517.7 971.4,1510.7 973.0,1506.2 974.7,1506.6 976.4,1515.5 978.0,1521.7 979.7,1522.1 981.3,1514.6 983.0,1506.2 984.6,1506.1 986.3,1500.7 988.0,1520.5 989.6,1520.1 991.3,1518.4 992.9,1508.4 994.6,1497.6 996.2,1512.7 997.9,1517.2 999.5,1518.1 1001.2,1512.8 1002.9,1521.7 1004.5,1508.2 1006.2,1511.7 1007.8,1514.1 1009.5,1504.9 1011.1,1514.2 1012.8,1507.3 1014.4,1498.4 1016.1,1508.4 1017.8,1515.8 1019.4,1518.4 1021.1,1521.0" fill="none" stroke="#000" stroke-width="4.0" stroke-linejoin="round" />
<polyline points="173.2,1523.6 174.9,1527.1 176.5,1511.7 178.2,1527.7 179.8,1532.4 181.5,1514.7 183.1,1513.3 184.8,1526.4 186.4,1523.6 188.1,1499.2 189.8,1526.9 191.4,1523.1 193.1,1510.8 194.7,1514.0 196.4,1507.7 198.0,1513.5 199.7,1522.4 201.4,1518.6 203.0,1523.5 204.7,1513.6 206.3,1515.7 208.0,1528.4 209.6,1515.9 211.3,1525.4 212.9,1518.9 214.6,1522.2 216.3,1517.4 217.9,1538.4 219.6,1516.2 221.2,1529.8 222.9,1510.9 224.5,1528.1 226.2,1523.2 227.8,1524.6 229.5,1517.6 231.2,1511.7 232.8,1517.9 234.5,1519.6 236.1,1518.2 237.8,1520.2 239.4,1519.0 241.1,1524.8 242.8,1520.4 244.4,1508.7 246.1,1511.3 247.7,1531.9 249.4,1521.0 251.0,1517.9 252.7,1523.2 254.3,1524.2 256.0,1519.7 257.7,1512.0 259.3,1511.5 261.0,1519.0 262.6,1513.2 264.3,1520.0 265.9,1516.4 267.6,1520.8 269.2,1530.5 270.9,1524.3 272.6,1516.5 274.2,1510.8 275.9,1516.8 277.5,1504.1 279.2,1512.5 280.8,1518.9 282.5,1522.5 284.2,1502.6 285.8,1520.9 287.5,1527.5 289.1,1516.3 290.8,1523.4 292.4,1514.9 294.1,1530.6 295.7,1512.6 297.4,1512.1 299.1,1521.9 300.7,1526.4 302.4,1518.3 304.0,1510.8 305.7,1523.7 307.3,1520.7 309.0,1510.8 310.6,1514.9 312.3,1520.2 314.0,1516.8 315.6,1518.0 317.3,1522.4 318.9,1520.4 320.6,1538.9 322.2,1518.5 323.9,1512.7 325.6,1514.1 327.2,1522.0 328.9,1506.4 330.5,1508.4 332.2,1524.3 333.8,1518.3 335.5,1521.1 337.1,1523.7 338.8,1509.9 340.5,1509.8 342.1,1522.1 343.8,1518.0 345.4,1513.7 347.1,1518.8 348.7,1509.2 350.4,1513.6 352.0,1513.4 353.7,1526.9 355.4,1506.8 357.0,1532.0 358.7,1515.8 360.3,1507.0 362.0,1514.2 363.6,1520.4 365.3,1517.8 367.0,1523.5 368.6,1505.1 370.3,1510.9 371.9,1520.5 373.6,1500.4 375.2,1517.3 376.9,1510.4 378.5,1526.5 380.2,1513.3 381.9,1508.0 383.5,1511.6 385.2,1518.1 386.8,1504.4 388.5,1519.7 390.1,1501.7 391.8,1512.8 393.4,1511.8 395.1,1508.4 396.8,1507.8 398.4,1496.1 400.1,1509.1 401.7,1521.7 403.4,1507.5 405.0,1517.0 406.7,1513.1 408.4,1512.8 410.0,1508.6 411.7,1500.2 413.3,1508.4 415.0,1512.0 416.6,1514.8 418.3,1514.3 419.9,1511.4 421.6,1505.8 423.3,1505.9 424.9,1500.2 426.6,1521.0 428.2,1499.2 429.9,1499.1 431.5,1520.3 433.2,1494.4 434.8,1501.9 436.5,1511.7 438.2,1498.3 439.8,1508.8 441.5,1500.8 443.1,1494.4 444.8,1489.8 446.4,1489.8 448.1,1498.0 449.8,1511.9 451.4,1500.3 453.1,1488.6 454.7,1480.4" fill="none" stroke="#000" stroke-width="2.4" stroke-linejoin="round"  stroke-opacity="0.7"/>
<polyline points="802.5,1488.3 804.1,1483.4 805.8,1490.6 807.4,1485.4 809.1,1489.2 810.8,1480.3 812.4,1485.2 814.1,1492.8 815.7,1488.5 817.4,1485.0 819.0,1482.4 820.7,1481.6 822.4,1498.4 824.0,1490.6 825.7,1493.9 827.3,1480.6 829.0,1484.8 830.6,1500.2 832.3,1498.8 833.9,1499.8 835.6,1504.2 837.3,1497.5 838.9,1503.6 840.6,1508.2 842.2,1502.8 843.9,1503.7 845.5,1515.0 847.2,1509.4 848.8,1503.5 850.5,1508.4 852.2,1492.0 853.8,1494.2 855.5,1507.8 857.1,1497.7 858.8,1502.6 860.4,1519.3 862.1,1508.2 863.8,1497.6 865.4,1505.6 867.1,1507.4 868.7,1499.7 870.4,1501.3 872.0,1501.9 873.7,1514.0 875.3,1508.9 877.0,1510.3 878.7,1512.8 880.3,1521.4 882.0,1513.8 883.6,1508.6 885.3,1528.4 886.9,1493.4 888.6,1503.4 890.2,1501.1 891.9,1497.3 893.6,1507.1 895.2,1515.7 896.9,1494.2 898.5,1513.5 900.2,1495.0 901.8,1499.4 903.5,1514.6 905.2,1502.2 906.8,1514.8 908.5,1505.9 910.1,1513.4 911.8,1506.1 913.4,1516.9 915.1,1516.8 916.7,1504.4 918.4,1527.0 920.1,1509.8 921.7,1523.0 923.4,1516.4 925.0,1529.3 926.7,1515.1 928.3,1509.2 930.0,1518.3 931.6,1510.9 933.3,1506.1 935.0,1516.4 936.6,1516.6 938.3,1515.4 939.9,1516.9 941.6,1515.7 943.2,1519.1 944.9,1505.2 946.6,1515.9 948.2,1515.9 949.9,1515.4 951.5,1511.0 953.2,1499.0 954.8,1516.2 956.5,1514.8 958.1,1518.1 959.8,1515.8 961.5,1509.5 963.1,1511.9 964.8,1516.1 966.4,1514.3 968.1,1512.9 969.7,1518.0 971.4,1522.1 973.0,1515.4 974.7,1510.7 976.4,1524.6 978.0,1505.5 979.7,1511.9 981.3,1516.6 983.0,1506.9 984.6,1513.5 986.3,1514.4 988.0,1516.2 989.6,1525.3 991.3,1518.6 992.9,1527.2 994.6,1506.9 996.2,1509.7 997.9,1507.8 999.5,1505.4 1001.2,1512.4 1002.9,1524.5 1004.5,1507.6 1006.2,1514.0 1007.8,1513.4 1009.5,1505.2 1011.1,1507.7 1012.8,1516.7 1014.4,1521.1 1016.1,1518.6 1017.8,1533.9 1019.4,1523.3 1021.1,1509.0" fill="none" stroke="#000" stroke-width="2.4" stroke-linejoin="round"  stroke-opacity="0.7"/>
<polyline points="173.2,1531.8 174.9,1535.1 176.5,1527.7 178.2,1527.4 179.8,1530.9 181.5,1526.4 183.1,1526.0 184.8,1539.2 186.4,1532.9 188.1,1525.7 189.8,1531.9 191.4,1526.9 193.1,1514.3 194.7,1531.8 196.4,1524.6 198.0,1520.6 199.7,1527.0 201.4,1525.0 203.0,1520.5 204.7,1529.9 206.3,1501.5 208.0,1521.8 209.6,1518.8 211.3,1520.7 212.9,1535.2 214.6,1519.8 216.3,1527.4 217.9,1517.1 219.6,1520.2 221.2,1520.4 222.9,1529.6 224.5,1528.0 226.2,1525.9 227.8,1522.2 229.5,1522.2 231.2,1514.6 232.8,1525.9 234.5,1521.0 236.1,1512.8 237.8,1525.7 239.4,1508.2 241.1,1524.3 242.8,1519.9 244.4,1527.2 246.1,1518.1 247.7,1517.3 249.4,1520.3 251.0,1536.2 252.7,1522.6 254.3,1529.3 256.0,1526.3 257.7,1538.8 259.3,1528.5 261.0,1520.0 262.6,1523.2 264.3,1521.6 265.9,1514.3 267.6,1512.4 269.2,1517.2 270.9,1516.1 272.6,1515.1 274.2,1532.1 275.9,1539.5 277.5,1530.9 279.2,1518.2 280.8,1515.3 282.5,1534.6 284.2,1515.2 285.8,1511.4 287.5,1529.4 289.1,1526.6 290.8,1525.2 292.4,1519.1 294.1,1524.4 295.7,1525.5 297.4,1530.0 299.1,1536.3 300.7,1519.1 302.4,1527.3 304.0,1528.8 305.7,1528.7 307.3,1531.2 309.0,1522.6 310.6,1527.1 312.3,1530.6 314.0,1516.1 315.6,1515.8 317.3,1517.0 318.9,1528.0 320.6,1522.3 322.2,1512.2 323.9,1522.4 325.6,1520.7 327.2,1516.7 328.9,1513.7 330.5,1529.4 332.2,1518.4 333.8,1524.6 335.5,1516.2 337.1,1519.1 338.8,1519.9 340.5,1522.7 342.1,1521.4 343.8,1520.6 345.4,1519.8 347.1,1524.1 348.7,1517.8 350.4,1509.5 352.0,1526.1 353.7,1520.8 355.4,1524.6 357.0,1512.0 358.7,1515.3 360.3,1516.5 362.0,1522.4 363.6,1518.2 365.3,1514.8 367.0,1527.4 368.6,1527.7 370.3,1514.9 371.9,1520.9 373.6,1517.1 375.2,1519.3 376.9,1523.0 378.5,1524.8 380.2,1511.9 381.9,1516.6 383.5,1516.8 385.2,1513.3 386.8,1513.3 388.5,1511.8 390.1,1522.3 391.8,1530.5 393.4,1508.8 395.1,1522.8 396.8,1513.4 398.4,1516.6 400.1,1515.2 401.7,1500.4 403.4,1515.8 405.0,1504.4 406.7,1507.6 408.4,1503.9 410.0,1506.1 411.7,1509.6 413.3,1513.3 415.0,1515.1 416.6,1510.9 418.3,1514.8 419.9,1499.9 421.6,1522.3 423.3,1512.3 424.9,1509.2 426.6,1518.8 428.2,1507.5 429.9,1508.4 431.5,1519.8 433.2,1521.4 434.8,1506.0 436.5,1510.3 438.2,1518.2 439.8,1517.7 441.5,1513.9 443.1,1502.7 444.8,1514.8 446.4,1505.9 448.1,1502.5 449.8,1516.2 451.4,1498.3 453.1,1491.9 454.7,1509.5" fill="none" stroke="#000" stroke-width="2.4" stroke-linejoin="round"  stroke-opacity="0.7"/>
<polyline points="802.5,1483.4 804.1,1495.7 805.8,1497.7 807.4,1479.8 809.1,1494.3 810.8,1498.9 812.4,1504.1 814.1,1483.0 815.7,1503.8 817.4,1497.7 819.0,1502.6 820.7,1493.5 822.4,1497.6 824.0,1503.1 825.7,1513.9 827.3,1498.9 829.0,1505.4 830.6,1486.4 832.3,1495.4 833.9,1496.4 835.6,1495.8 837.3,1499.3 838.9,1498.1 840.6,1499.9 842.2,1503.2 843.9,1496.1 845.5,1496.9 847.2,1501.2 848.8,1500.7 850.5,1516.9 852.2,1506.6 853.8,1510.2 855.5,1500.9 857.1,1504.2 858.8,1514.3 860.4,1514.2 862.1,1513.0 863.8,1501.9 865.4,1503.5 867.1,1498.6 868.7,1494.8 870.4,1520.6 872.0,1518.5 873.7,1511.0 875.3,1501.0 877.0,1511.7 878.7,1514.9 880.3,1502.3 882.0,1510.5 883.6,1504.0 885.3,1507.3 886.9,1497.5 888.6,1511.6 890.2,1504.4 891.9,1504.1 893.6,1498.5 895.2,1511.8 896.9,1517.9 898.5,1516.5 900.2,1509.7 901.8,1514.7 903.5,1515.1 905.2,1507.8 906.8,1504.7 908.5,1508.0 910.1,1507.3 911.8,1514.8 913.4,1516.2 915.1,1508.9 916.7,1507.8 918.4,1504.7 920.1,1507.3 921.7,1511.8 923.4,1514.9 925.0,1523.7 926.7,1507.1 928.3,1510.4 930.0,1493.4 931.6,1511.6 933.3,1516.9 935.0,1502.0 936.6,1508.2 938.3,1521.6 939.9,1518.1 941.6,1517.7 943.2,1523.2 944.9,1507.3 946.6,1516.4 948.2,1519.7 949.9,1519.3 951.5,1508.7 953.2,1529.6 954.8,1517.4 956.5,1522.9 958.1,1529.7 959.8,1510.3 961.5,1519.4 963.1,1522.2 964.8,1509.0 966.4,1509.7 968.1,1522.6 969.7,1505.5 971.4,1524.6 973.0,1516.4 974.7,1519.4 976.4,1504.7 978.0,1513.0 979.7,1505.9 981.3,1521.0 983.0,1514.4 984.6,1520.9 986.3,1523.7 988.0,1523.1 989.6,1525.0 991.3,1526.6 992.9,1521.9 994.6,1529.5 996.2,1522.5 997.9,1518.6 999.5,1527.8 1001.2,1516.8 1002.9,1504.9 1004.5,1517.9 1006.2,1511.8 1007.8,1517.2 1009.5,1518.0 1011.1,1513.1 1012.8,1518.6 1014.4,1512.5 1016.1,1515.2 1017.8,1528.9 1019.4,1517.3 1021.1,1502.5" fill="none" stroke="#000" stroke-width="2.4" stroke-linejoin="round"  stroke-opacity="0.7"/>
</g>
<rect x="173.2" y="948.0" width="993.6" height="729.5" fill="none" stroke="#2b2b2b" stroke-width="4"/>
<path d="M256.0 1677.5V1668.5M338.8 1677.5V1661.5M421.6 1677.5V1668.5M504.4 1677.5V1661.5M587.2 1677.5V1668.5M670.0 1677.5V1661.5M752.8 1677.5V1668.5M835.6 1677.5V1661.5M918.4 1677.5V1668.5M1001.2 1677.5V1661.5M1084.0 1677.5V1668.5M173.2 1555.9H182.2M173.2 1434.3H189.2M173.2 1312.8H182.2M173.2 1191.2H189.2M173.2 1069.6H182.2" stroke="#2b2b2b" stroke-width="3.2" fill="none"/>
<g font-family="Liberation Sans" font-weight="bold" font-size="38" fill="#111">
<text x="173.2" y="1722.5" text-anchor="middle">0</text>
<text x="338.8" y="1722.5" text-anchor="middle">200</text>
<text x="504.4" y="1722.5" text-anchor="middle">400</text>
<text x="670.0" y="1722.5" text-anchor="middle">600</text>
<text x="835.6" y="1722.5" text-anchor="middle">800</text>
<text x="1001.2" y="1722.5" text-anchor="middle">1000</text>
<text x="1166.8" y="1722.5" text-anchor="middle">1200</text>
<text x="157.5" y="1690.5" text-anchor="end">0</text>
<text x="157.5" y="1447.3" text-anchor="end">100</text>
<text x="157.5" y="1204.2" text-anchor="end">200</text>
<text x="157.5" y="961.0" text-anchor="end">300</text>
</g>
<text x="670.7" y="1783.5" text-anchor="middle" font-family="Liberation Serif" font-weight="bold" font-size="52.5" fill="#111">Wavelength (nm)</text>
<text transform="translate(42.5,1320) rotate(-90)" text-anchor="middle" font-family="Liberation Serif" font-weight="bold" font-size="52.5" fill="#111">Intensity</text>
<text x="5.5" y="1778" font-family="Liberation Sans" font-size="45" fill="#222">(b)</text>
<rect x="217.3" y="965" width="238" height="185.5" fill="none" stroke="#2b2b2b" stroke-width="4"/>
<g font-family="Liberation Serif" font-weight="bold" font-size="46" fill="#111">
<text x="269" y="1017"><tspan>20BCl</tspan><tspan font-size="26" y="1036">3</tspan></text>
<text x="339.5" y="1081" text-anchor="middle">100W RIE</text>
<text x="336.4" y="1137.7" text-anchor="middle">300W ICP</text>
</g>
<g font-family="Liberation Serif" font-weight="bold" font-size="46" fill="#111">
<line x1="795.5" y1="1015.5" x2="917" y2="1015.5" stroke="#9a9a9a" stroke-width="2.8"/>
<text x="939" y="1029.0">5 mTorr</text>
<line x1="795.5" y1="1072.0" x2="917" y2="1072.0" stroke="#2a2a2a" stroke-width="4.0"/>
<text x="939" y="1085.3">7.5 mTorr</text>
<line x1="795.5" y1="1128.6" x2="917" y2="1128.6" stroke="#2a2a2a" stroke-width="4.0"/>
<text x="939" y="1141.5">10 mTorr</text>
<line x1="795.5" y1="1185.8" x2="917" y2="1185.8" stroke="#777" stroke-width="4.8"/>
<text x="939" y="1197.8">15 mTorr</text>
</g>
<g font-family="Liberation Serif" font-weight="bold" font-size="36.5" fill="#111">
<text x="623" y="1073.5">5 mTorr</text>
<text x="693" y="1253">7.5 mTorr</text>
<text x="780" y="1378">10 mTorr</text>
<text x="621" y="1583.5">15 mTorr</text>
</g>
<g stroke="#111" stroke-width="2.8" fill="none">
<path d="M625.7 1072L601 1100.5"/>
<path d="M629 1238.2H690"/>
<path d="M627 1364.5H772.5"/>
<path d="M603.7 1501.3L655 1546.7"/>
</g>
</g>
</svg>
</body></html>
